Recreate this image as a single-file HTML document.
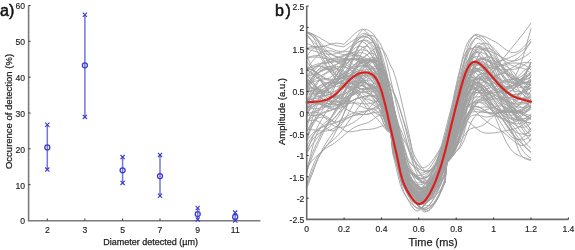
<!DOCTYPE html>
<html><head><meta charset="utf-8"><style>
html,body{margin:0;padding:0;background:#fff;}
svg{display:block;will-change:transform;filter:blur(0.3px);}
text{font-family:"Liberation Sans",sans-serif;}
.tl text{font-size:8.6px;fill:#1e1e1e;stroke:#1e1e1e;stroke-width:0.15px;}
.ttl{stroke:#222;stroke-width:0.25px;}
.tk{stroke:#333;stroke-width:1;}
</style></head><body>
<svg width="575" height="250" viewBox="0 0 575 250">
<rect width="575" height="250" fill="#fff"/>
<g fill="none" stroke="#a0a0a0" stroke-width="0.9" stroke-linejoin="round">
<path d="M306.7,153.7 308.6,150.1 310.4,147.0 312.3,144.3 314.2,141.8 316.0,139.4 317.9,137.0 319.8,134.7 321.7,132.3 323.5,129.9 325.4,127.6 327.3,125.4 329.1,123.3 331.0,121.3 332.9,119.4 334.7,117.5 336.6,115.6 338.5,113.7 340.3,111.8 342.2,109.9 344.1,108.0 345.9,106.1 347.8,104.4 349.7,102.8 351.6,101.3 353.4,100.1 355.3,99.1 357.2,98.3 359.0,97.6 360.9,97.1 362.8,96.6 364.6,96.3 366.5,96.1 368.4,96.0 370.2,96.0 372.1,96.1 374.0,96.7 375.9,97.9 377.7,99.9 379.6,102.9 381.5,107.0 383.3,112.0 385.2,117.7 387.1,123.6 388.9,128.3 390.8,131.4 392.7,144.3 394.5,151.6 396.4,159.5 398.3,168.2 400.1,176.3 402.0,182.4 403.9,186.7 405.8,190.1 407.6,193.0 409.5,195.8 411.4,198.2 413.2,200.4 415.1,202.1 417.0,203.3 418.8,204.1 420.7,204.3 422.6,204.0 424.4,203.2 426.3,202.0 428.2,200.3 430.1,198.3 431.9,195.9 433.8,193.1 435.7,189.9 437.5,186.3 439.4,182.2 441.3,177.8 443.1,172.8 445.0,167.4 446.9,158.9 448.7,154.0 450.6,148.1 452.5,141.5 454.4,135.0 456.2,129.0 458.1,123.3 460.0,117.6 461.8,112.0 463.7,106.3 465.6,100.7 467.4,95.8 469.3,91.6 471.2,88.0 473.0,84.9 474.9,82.2 476.8,79.9 478.6,78.2 480.5,76.9 482.4,76.3 484.3,76.1 486.1,76.4 488.0,77.0 489.9,77.9 491.7,78.9 493.6,80.2 495.5,81.6 497.3,83.0 499.2,84.5 501.1,85.8 502.9,87.1 504.8,88.1 506.7,89.0 508.6,89.7 510.4,90.3 512.3,90.8 514.2,91.1 516.0,91.5 517.9,91.8 519.8,92.1 521.6,92.5 523.5,92.9 525.4,93.3 527.2,93.6 529.1,93.9 531.0,94.0"/>
<path d="M306.7,79.3 308.6,81.0 310.4,82.6 312.3,84.2 314.2,85.7 316.0,87.2 317.9,88.5 319.8,89.7 321.7,90.7 323.5,91.5 325.4,92.0 327.3,92.4 329.1,92.5 331.0,92.3 332.9,91.8 334.7,91.0 336.6,90.0 338.5,88.7 340.3,87.1 342.2,85.3 344.1,83.2 345.9,80.9 347.8,78.5 349.7,75.9 351.6,73.2 353.4,70.6 355.3,68.2 357.2,65.9 359.0,63.9 360.9,62.3 362.8,61.1 364.6,60.3 366.5,60.1 368.4,60.3 370.2,61.0 372.1,62.2 374.0,64.1 375.9,66.9 377.7,70.7 379.6,75.8 381.5,82.1 383.3,89.4 385.2,97.5 387.1,106.2 388.9,115.1 390.8,123.8 392.7,132.8 394.5,141.6 396.4,150.5 398.3,159.7 400.1,168.8 402.0,176.2 403.9,181.6 405.8,185.6 407.6,188.7 409.5,191.3 411.4,193.6 413.2,195.7 415.1,197.6 417.0,199.2 418.8,200.8 420.7,202.2 422.6,203.5 424.4,204.6 426.3,205.4 428.2,205.8 430.1,205.7 431.9,204.9 433.8,203.6 435.7,201.6 437.5,198.8 439.4,195.4 441.3,191.4 443.1,186.9 445.0,182.0 446.9,163.1 448.7,160.5 450.6,157.7 452.5,154.6 454.4,151.0 456.2,147.0 458.1,142.8 460.0,137.9 461.8,132.9 463.7,128.2 465.6,124.1 467.4,120.2 469.3,116.5 471.2,112.8 473.0,109.0 474.9,105.4 476.8,102.5 478.6,100.6 480.5,99.5 482.4,99.2 484.3,99.5 486.1,100.4 488.0,101.7 489.9,103.2 491.7,104.8 493.6,106.4 495.5,107.9 497.3,109.0 499.2,109.8 501.1,110.3 502.9,110.4 504.8,110.1 506.7,109.6 508.6,108.7 510.4,107.5 512.3,105.9 514.2,104.0 516.0,101.7 517.9,99.3 519.8,96.8 521.6,94.4 523.5,92.1 525.4,90.1 527.2,88.2 529.1,86.5 531.0,85.1"/>
<path d="M306.7,110.4 308.6,109.1 310.4,107.8 312.3,106.7 314.2,105.7 316.0,104.8 317.9,104.1 319.8,103.4 321.7,102.7 323.5,102.1 325.4,101.5 327.3,100.7 329.1,99.9 331.0,98.9 332.9,97.6 334.7,96.1 336.6,94.2 338.5,92.1 340.3,89.6 342.2,87.0 344.1,84.1 345.9,81.2 347.8,78.4 349.7,75.7 351.6,73.2 353.4,71.1 355.3,69.3 357.2,67.8 359.0,66.8 360.9,66.2 362.8,66.0 364.6,66.2 366.5,66.9 368.4,68.0 370.2,69.4 372.1,71.2 374.0,73.2 375.9,75.4 377.7,78.1 379.6,81.3 381.5,85.4 383.3,90.4 385.2,96.4 387.1,103.1 388.9,110.2 390.8,117.5 392.7,124.7 394.5,131.6 396.4,138.4 398.3,145.2 400.1,152.4 402.0,159.9 403.9,166.8 405.8,171.9 407.6,175.6 409.5,178.3 411.4,180.7 413.2,182.9 415.1,184.9 417.0,186.7 418.8,188.3 420.7,189.6 422.6,190.6 424.4,191.2 426.3,191.4 428.2,191.2 430.1,190.5 431.9,189.4 433.8,188.0 435.7,186.3 437.5,184.3 439.4,182.2 441.3,179.9 443.1,177.4 445.0,174.6 446.9,162.4 448.7,159.9 450.6,157.4 452.5,154.4 454.4,150.8 456.2,146.3 458.1,140.5 460.0,133.5 461.8,126.3 463.7,119.0 465.6,111.7 467.4,104.3 469.3,96.9 471.2,90.1 473.0,84.5 474.9,80.1 476.8,77.0 478.6,75.0 480.5,74.1 482.4,74.0 484.3,74.8 486.1,76.3 488.0,78.3 489.9,80.8 491.7,83.6 493.6,86.5 495.5,89.5 497.3,92.6 499.2,95.5 501.1,98.4 502.9,101.0 504.8,103.3 506.7,105.4 508.6,107.2 510.4,108.6 512.3,109.7 514.2,110.4 516.0,110.8 517.9,110.8 519.8,110.5 521.6,109.9 523.5,109.0 525.4,107.9 527.2,106.4 529.1,104.7 531.0,102.7"/>
<path d="M306.7,102.2 308.6,101.0 310.4,99.8 312.3,98.5 314.2,97.0 316.0,95.4 317.9,93.7 319.8,92.1 321.7,90.4 323.5,88.8 325.4,87.3 327.3,85.9 329.1,84.6 331.0,83.4 332.9,82.3 334.7,81.3 336.6,80.5 338.5,79.6 340.3,78.8 342.2,77.9 344.1,76.8 345.9,75.7 347.8,74.4 349.7,73.0 351.6,71.5 353.4,70.0 355.3,68.5 357.2,67.2 359.0,66.1 360.9,65.3 362.8,65.0 364.6,65.2 366.5,65.8 368.4,66.8 370.2,68.1 372.1,69.6 374.0,71.2 375.9,72.9 377.7,74.7 379.6,76.5 381.5,78.6 383.3,81.3 385.2,84.6 387.1,88.8 388.9,94.2 390.8,100.4 392.7,107.2 394.5,114.5 396.4,122.0 398.3,129.4 400.1,136.7 402.0,144.1 403.9,152.1 405.8,161.0 407.6,169.0 409.5,174.6 411.4,178.7 413.2,182.4 415.1,185.9 417.0,189.2 418.8,191.8 420.7,193.7 422.6,194.4 424.4,194.1 426.3,192.8 428.2,190.8 430.1,188.2 431.9,185.2 433.8,181.8 435.7,178.2 437.5,174.2 439.4,169.9 441.3,165.2 443.1,160.1 445.0,154.6 446.9,148.5 448.7,142.1 450.6,135.6 452.5,129.2 454.4,122.9 456.2,116.9 458.1,111.1 460.0,105.3 461.8,99.8 463.7,95.0 465.6,91.4 467.4,89.0 469.3,87.6 471.2,87.2 473.0,87.6 474.9,88.6 476.8,90.0 478.6,91.7 480.5,93.6 482.4,95.6 484.3,97.5 486.1,99.4 488.0,101.1 489.9,102.7 491.7,104.3 493.6,105.9 495.5,107.4 497.3,108.9 499.2,110.3 501.1,111.7 502.9,112.9 504.8,113.9 506.7,114.7 508.6,115.1 510.4,115.3 512.3,115.1 514.2,114.6 516.0,113.8 517.9,112.9 519.8,111.9 521.6,110.9 523.5,109.8 525.4,108.7 527.2,107.7 529.1,106.6 531.0,105.3"/>
<path d="M306.7,48.8 308.6,48.4 310.4,48.0 312.3,47.8 314.2,47.6 316.0,47.4 317.9,47.2 319.8,47.0 321.7,46.7 323.5,46.3 325.4,45.8 327.3,45.2 329.1,44.6 331.0,44.1 332.9,43.6 334.7,43.3 336.6,43.2 338.5,43.3 340.3,43.5 342.2,43.9 344.1,44.4 345.9,42.4 347.8,40.5 349.7,38.6 351.6,36.8 353.4,35.0 355.3,33.3 357.2,31.8 359.0,30.5 360.9,29.6 362.8,29.1 364.6,30.4 366.5,32.0 368.4,33.9 370.2,36.2 372.1,39.2 374.0,43.2 375.9,48.3 377.7,54.5 379.6,62.1 381.5,70.8 383.3,80.4 385.2,90.6 387.1,100.9 388.9,111.1 390.8,120.9 392.7,130.4 394.5,139.8 396.4,149.5 398.3,159.3 400.1,167.7 402.0,173.8 403.9,178.3 405.8,182.0 407.6,185.3 409.5,188.3 411.4,190.9 413.2,193.1 415.1,194.8 417.0,195.9 418.8,196.4 420.7,196.3 422.6,195.6 424.4,194.4 426.3,192.8 428.2,190.8 430.1,188.4 431.9,185.7 433.8,182.8 435.7,179.6 437.5,176.1 439.4,172.4 441.3,168.2 443.1,163.7 445.0,158.8 446.9,153.1 448.7,147.7 450.6,141.9 452.5,136.0 454.4,130.1 456.2,124.0 458.1,117.5 460.0,110.7 461.8,103.7 463.7,97.2 465.6,91.8 467.4,87.4 469.3,84.1 471.2,81.7 473.0,80.1 474.9,79.2 476.8,78.9 478.6,79.0 480.5,79.5 482.4,80.2 484.3,81.0 486.1,82.0 488.0,83.2 489.9,84.5 491.7,86.0 493.6,87.7 495.5,89.5 497.3,91.4 499.2,93.3 501.1,95.2 502.9,97.0 504.8,98.7 506.7,100.2 508.6,101.5 510.4,102.6 512.3,103.4 514.2,103.9 516.0,104.2 517.9,104.3 519.8,104.3 521.6,104.1 523.5,103.9 525.4,103.6 527.2,103.3 529.1,102.9 531.0,102.1"/>
<path d="M306.7,81.6 308.6,83.9 310.4,86.0 312.3,87.8 314.2,89.3 316.0,90.4 317.9,91.1 319.8,91.5 321.7,91.5 323.5,91.1 325.4,90.5 327.3,89.6 329.1,88.5 331.0,87.2 332.9,85.7 334.7,84.0 336.6,82.2 338.5,80.4 340.3,78.4 342.2,76.5 344.1,74.5 345.9,72.4 347.8,70.5 349.7,68.7 351.6,67.0 353.4,65.5 355.3,64.3 357.2,63.4 359.0,62.8 360.9,62.4 362.8,62.4 364.6,62.6 366.5,63.2 368.4,64.2 370.2,65.7 372.1,67.7 374.0,70.6 375.9,74.4 377.7,79.5 379.6,85.8 381.5,93.3 383.3,101.6 385.2,110.3 387.1,119.1 388.9,126.4 390.8,130.7 392.7,142.5 394.5,149.5 396.4,156.6 398.3,163.8 400.1,170.5 402.0,175.4 403.9,178.8 405.8,181.3 407.6,183.4 409.5,185.2 411.4,186.9 413.2,188.3 415.1,189.6 417.0,190.7 418.8,191.6 420.7,192.4 422.6,193.1 424.4,193.5 426.3,193.7 428.2,193.6 430.1,193.2 431.9,192.3 433.8,191.1 435.7,189.4 437.5,187.3 439.4,184.8 441.3,181.9 443.1,178.7 445.0,175.2 446.9,162.3 448.7,159.8 450.6,157.0 452.5,153.9 454.4,150.3 456.2,146.0 458.1,140.9 460.0,135.2 461.8,129.6 463.7,124.7 465.6,120.3 467.4,116.2 469.3,112.5 471.2,108.9 473.0,105.9 474.9,103.8 476.8,102.7 478.6,102.3 480.5,102.7 482.4,103.5 484.3,104.6 486.1,105.9 488.0,107.4 489.9,108.7 491.7,110.0 493.6,111.0 495.5,111.8 497.3,112.3 499.2,112.5 501.1,112.6 502.9,112.5 504.8,112.3 506.7,112.1 508.6,112.0 510.4,111.9 512.3,112.0 514.2,112.2 516.0,112.5 517.9,112.9 519.8,113.4 521.6,114.0 523.5,114.7 525.4,115.5 527.2,116.3 529.1,117.3 531.0,118.3"/>
<path d="M306.7,106.3 308.6,107.5 310.4,108.2 312.3,108.6 314.2,108.8 316.0,108.7 317.9,108.5 319.8,108.1 321.7,107.7 323.5,107.1 325.4,106.5 327.3,105.8 329.1,105.0 331.0,103.9 332.9,102.5 334.7,100.8 336.6,98.8 338.5,96.3 340.3,93.6 342.2,90.5 344.1,87.3 345.9,83.9 347.8,80.5 349.7,77.1 351.6,73.9 353.4,70.8 355.3,68.0 357.2,65.6 359.0,63.5 360.9,61.7 362.8,60.4 364.6,59.5 366.5,59.0 368.4,59.0 370.2,59.4 372.1,60.3 374.0,61.7 375.9,63.8 377.7,66.6 379.6,70.3 381.5,75.2 383.3,81.2 385.2,88.2 387.1,95.8 388.9,103.7 390.8,111.4 392.7,118.8 394.5,125.8 396.4,132.3 398.3,138.8 400.1,145.4 402.0,152.2 403.9,158.6 405.8,163.6 407.6,167.1 409.5,169.8 411.4,171.9 413.2,173.7 415.1,175.5 417.0,177.2 418.8,178.8 420.7,180.3 422.6,181.8 424.4,183.1 426.3,184.2 428.2,185.0 430.1,185.4 431.9,185.4 433.8,185.0 435.7,184.2 437.5,183.0 439.4,181.5 441.3,179.7 443.1,177.8 445.0,175.8 446.9,162.7 448.7,160.6 450.6,158.4 452.5,156.2 454.4,153.9 456.2,151.3 458.1,149.1 460.0,145.7 461.8,140.6 463.7,134.1 465.6,127.2 467.4,120.3 469.3,113.4 471.2,106.5 473.0,99.5 474.9,92.7 476.8,86.8 478.6,82.0 480.5,78.4 482.4,75.8 484.3,74.2 486.1,73.4 488.0,73.4 489.9,74.0 491.7,75.1 493.6,76.6 495.5,78.4 497.3,80.3 499.2,82.4 501.1,84.5 502.9,86.7 504.8,89.1 506.7,91.5 508.6,93.9 510.4,96.3 512.3,98.7 514.2,101.0 516.0,103.0 517.9,104.8 519.8,106.3 521.6,107.3 523.5,107.8 525.4,107.8 527.2,107.2 529.1,106.2 531.0,104.7"/>
<path d="M306.7,68.9 308.6,69.2 310.4,69.6 312.3,70.3 314.2,71.2 316.0,72.3 317.9,73.4 319.8,74.7 321.7,75.9 323.5,77.0 325.4,78.1 327.3,79.0 329.1,79.9 331.0,80.6 332.9,81.3 334.7,81.9 336.6,82.5 338.5,83.0 340.3,83.5 342.2,84.0 344.1,84.5 345.9,85.1 347.8,85.8 349.7,86.6 351.6,87.6 353.4,88.7 355.3,90.1 357.2,91.6 359.0,93.3 360.9,95.1 362.8,96.9 364.6,98.7 366.5,100.4 368.4,101.9 370.2,103.2 372.1,104.2 374.0,105.2 375.9,106.3 377.7,107.8 379.6,109.9 381.5,112.9 383.3,116.9 385.2,121.6 387.1,126.0 388.9,129.5 390.8,131.8 392.7,144.6 394.5,150.2 396.4,156.0 398.3,162.2 400.1,169.2 402.0,176.1 403.9,181.4 405.8,185.1 407.6,187.9 409.5,190.5 411.4,192.9 413.2,195.2 415.1,197.1 417.0,198.6 418.8,199.5 420.7,199.7 422.6,199.3 424.4,198.3 426.3,196.7 428.2,194.7 430.1,192.2 431.9,189.3 433.8,186.2 435.7,182.7 437.5,179.0 439.4,174.8 441.3,170.2 443.1,165.1 445.0,159.3 446.9,152.8 448.7,145.7 450.6,137.9 452.5,129.6 454.4,121.1 456.2,112.5 458.1,103.8 460.0,95.1 461.8,86.4 463.7,77.7 465.6,69.5 467.4,62.4 469.3,56.6 471.2,52.1 473.0,48.8 474.9,46.7 476.8,45.8 478.6,45.9 480.5,47.0 482.4,48.9 484.3,51.6 486.1,54.8 488.0,58.5 489.9,62.5 491.7,66.8 493.6,71.3 495.5,76.0 497.3,80.8 499.2,85.5 501.1,90.2 502.9,94.8 504.8,99.1 506.7,103.2 508.6,107.0 510.4,110.4 512.3,113.4 514.2,115.9 516.0,117.8 517.9,119.3 519.8,120.3 521.6,120.8 523.5,120.9 525.4,120.4 527.2,119.5 529.1,118.2 531.0,116.5"/>
<path d="M306.7,102.2 308.6,101.8 310.4,101.5 312.3,101.2 314.2,101.1 316.0,101.2 317.9,101.4 319.8,101.7 321.7,102.1 323.5,102.6 325.4,103.1 327.3,103.7 329.1,104.2 331.0,104.7 332.9,105.0 334.7,105.1 336.6,105.0 338.5,104.7 340.3,104.0 342.2,103.1 344.1,102.0 345.9,100.6 347.8,99.1 349.7,97.5 351.6,95.9 353.4,94.3 355.3,92.8 357.2,91.4 359.0,90.3 360.9,89.3 362.8,88.6 364.6,88.1 366.5,87.8 368.4,87.6 370.2,87.7 372.1,87.8 374.0,88.2 375.9,88.8 377.7,90.0 379.6,92.0 381.5,94.9 383.3,99.0 385.2,104.3 387.1,110.7 388.9,117.7 390.8,124.8 392.7,133.0 394.5,140.6 396.4,148.1 398.3,155.8 400.1,163.9 402.0,172.6 403.9,180.6 405.8,186.7 407.6,191.1 409.5,194.6 411.4,197.5 413.2,200.3 415.1,202.8 417.0,205.0 418.8,206.9 420.7,208.3 422.6,209.2 424.4,209.7 426.3,209.5 428.2,208.8 430.1,207.6 431.9,205.9 433.8,203.6 435.7,200.9 437.5,197.7 439.4,194.0 441.3,189.8 443.1,184.9 445.0,179.5 446.9,162.7 448.7,159.8 450.6,156.2 452.5,151.5 454.4,145.4 456.2,137.9 458.1,130.2 460.0,122.8 461.8,115.9 463.7,109.3 465.6,103.0 467.4,96.9 469.3,91.1 471.2,85.9 473.0,81.8 474.9,78.7 476.8,76.5 478.6,75.0 480.5,74.1 482.4,73.7 484.3,73.6 486.1,73.9 488.0,74.4 489.9,75.1 491.7,75.8 493.6,76.6 495.5,77.3 497.3,78.1 499.2,78.9 501.1,79.6 502.9,80.3 504.8,81.1 506.7,81.7 508.6,82.4 510.4,83.0 512.3,83.6 514.2,84.1 516.0,84.6 517.9,85.1 519.8,85.5 521.6,85.9 523.5,86.4 525.4,86.8 527.2,87.4 529.1,88.1 531.0,88.9"/>
<path d="M306.7,108.0 308.6,106.4 310.4,105.2 312.3,104.4 314.2,104.0 316.0,103.8 317.9,103.7 319.8,103.8 321.7,103.9 323.5,103.9 325.4,103.9 327.3,103.7 329.1,103.4 331.0,102.9 332.9,102.0 334.7,100.9 336.6,99.4 338.5,97.6 340.3,95.6 342.2,93.5 344.1,91.2 345.9,88.9 347.8,86.8 349.7,84.8 351.6,83.2 353.4,82.0 355.3,81.2 357.2,80.8 359.0,80.8 360.9,81.1 362.8,81.7 364.6,82.5 366.5,83.4 368.4,84.2 370.2,85.0 372.1,85.7 374.0,86.7 375.9,88.1 377.7,90.1 379.6,93.0 381.5,97.1 383.3,102.3 385.2,108.5 387.1,115.4 388.9,122.5 390.8,128.3 392.7,137.6 394.5,145.1 396.4,153.0 398.3,161.4 400.1,170.2 402.0,177.5 403.9,182.8 405.8,186.7 407.6,190.1 409.5,193.2 411.4,196.1 413.2,198.6 415.1,200.7 417.0,202.1 418.8,202.8 420.7,202.7 422.6,201.9 424.4,200.4 426.3,198.3 428.2,195.7 430.1,192.6 431.9,189.2 433.8,185.4 435.7,181.2 437.5,176.5 439.4,171.4 441.3,165.9 443.1,159.8 445.0,153.3 446.9,146.3 448.7,139.0 450.6,131.7 452.5,124.8 454.4,118.3 456.2,112.2 458.1,106.6 460.0,101.3 461.8,96.4 463.7,92.3 465.6,89.4 467.4,87.5 469.3,86.6 471.2,86.3 473.0,86.6 474.9,87.4 476.8,88.6 478.6,90.0 480.5,91.7 482.4,93.5 484.3,95.4 486.1,97.3 488.0,99.3 489.9,101.3 491.7,103.3 493.6,105.5 495.5,107.6 497.3,109.9 499.2,112.1 501.1,114.3 502.9,116.4 504.8,118.3 506.7,120.0 508.6,121.3 510.4,122.2 512.3,122.5 514.2,122.3 516.0,121.6 517.9,120.7 519.8,119.7 521.6,118.9 523.5,118.4 525.4,118.2 527.2,118.3 529.1,118.6 531.0,118.9"/>
<path d="M306.7,69.2 308.6,68.0 310.4,66.8 312.3,65.9 314.2,65.2 316.0,64.5 317.9,64.0 319.8,63.5 321.7,63.1 323.5,62.7 325.4,62.4 327.3,62.1 329.1,61.8 331.0,61.6 332.9,61.3 334.7,61.1 336.6,60.9 338.5,60.7 340.3,60.4 342.2,60.2 344.1,59.9 345.9,59.6 347.8,59.2 349.7,59.0 351.6,58.8 353.4,58.8 355.3,59.0 357.2,59.4 359.0,60.0 360.9,60.8 362.8,61.7 364.6,62.9 366.5,64.1 368.4,65.5 370.2,66.9 372.1,68.5 374.0,70.3 375.9,72.6 377.7,75.6 379.6,79.5 381.5,84.5 383.3,90.7 385.2,97.9 387.1,105.8 388.9,114.1 390.8,122.4 392.7,130.8 394.5,138.9 396.4,147.0 398.3,155.4 400.1,164.3 402.0,172.6 403.9,178.8 405.8,183.1 407.6,186.3 409.5,189.1 411.4,191.7 413.2,194.1 415.1,196.0 417.0,197.6 418.8,198.6 420.7,199.0 422.6,198.8 424.4,197.9 426.3,196.5 428.2,194.5 430.1,192.0 431.9,189.0 433.8,185.5 435.7,181.7 437.5,177.4 439.4,172.6 441.3,167.5 443.1,162.0 445.0,156.1 446.9,149.9 448.7,143.4 450.6,136.8 452.5,130.3 454.4,124.3 456.2,118.7 458.1,113.4 460.0,108.3 461.8,103.2 463.7,98.1 465.6,93.5 467.4,89.6 469.3,86.8 471.2,85.0 473.0,84.1 474.9,84.0 476.8,84.7 478.6,86.0 480.5,87.9 482.4,90.2 484.3,92.8 486.1,95.6 488.0,98.4 489.9,101.1 491.7,103.9 493.6,106.6 495.5,109.2 497.3,111.8 499.2,114.4 501.1,117.1 502.9,119.7 504.8,122.4 506.7,125.1 508.6,127.8 510.4,130.5 512.3,133.1 514.2,135.5 516.0,137.8 517.9,139.9 519.8,141.9 521.6,143.7 523.5,145.5 525.4,147.1 527.2,148.7 529.1,150.3 531.0,152.0"/>
<path d="M306.7,129.6 308.6,129.6 310.4,129.7 312.3,129.8 314.2,130.0 316.0,130.3 317.9,130.6 319.8,130.8 321.7,131.0 323.5,131.1 325.4,131.1 327.3,130.8 329.1,130.4 331.0,129.7 332.9,128.8 334.7,127.7 336.6,126.4 338.5,125.0 340.3,123.5 342.2,122.0 344.1,120.6 345.9,119.3 347.8,118.1 349.7,117.2 351.6,116.4 353.4,115.8 355.3,115.3 357.2,115.0 359.0,114.8 360.9,114.6 362.8,114.4 364.6,114.2 366.5,114.0 368.4,113.8 370.2,113.5 372.1,113.1 374.0,112.7 375.9,112.3 377.7,112.0 379.6,112.1 381.5,112.7 383.3,114.3 385.2,116.9 387.1,120.6 388.9,124.8 390.8,128.6 392.7,136.8 394.5,142.9 396.4,149.1 398.3,155.3 400.1,161.8 402.0,169.0 403.9,176.9 405.8,184.1 407.6,189.4 409.5,193.2 411.4,196.2 413.2,199.0 415.1,201.7 417.0,204.1 418.8,206.2 420.7,207.8 422.6,208.9 424.4,209.4 426.3,209.2 428.2,208.3 430.1,206.9 431.9,205.0 433.8,202.7 435.7,200.0 437.5,197.0 439.4,193.7 441.3,190.2 443.1,186.4 445.0,182.2 446.9,163.2 448.7,160.7 450.6,158.1 452.5,155.0 454.4,151.4 456.2,147.0 458.1,142.1 460.0,136.5 461.8,131.0 463.7,125.8 465.6,120.8 467.4,115.8 469.3,111.1 471.2,107.1 473.0,104.1 474.9,102.0 476.8,100.7 478.6,100.1 480.5,100.0 482.4,100.4 484.3,101.0 486.1,101.9 488.0,103.0 489.9,104.1 491.7,105.3 493.6,106.6 495.5,107.9 497.3,109.4 499.2,111.0 501.1,112.9 502.9,115.0 504.8,117.3 506.7,119.8 508.6,122.5 510.4,125.4 512.3,128.3 514.2,131.3 516.0,134.3 517.9,137.1 519.8,139.8 521.6,142.4 523.5,144.8 525.4,147.0 527.2,149.1 529.1,150.9 531.0,152.6"/>
<path d="M306.7,88.3 308.6,88.5 310.4,88.6 312.3,88.7 314.2,88.8 316.0,88.9 317.9,89.1 319.8,89.3 321.7,89.7 323.5,90.3 325.4,90.9 327.3,91.7 329.1,92.6 331.0,93.4 332.9,94.2 334.7,94.8 336.6,95.2 338.5,95.4 340.3,95.2 342.2,94.8 344.1,94.2 345.9,93.4 347.8,92.5 349.7,91.4 351.6,90.3 353.4,89.3 355.3,88.2 357.2,87.3 359.0,86.4 360.9,85.6 362.8,85.1 364.6,84.8 366.5,84.8 368.4,85.2 370.2,86.1 372.1,87.4 374.0,89.5 375.9,92.5 377.7,96.6 379.6,101.8 381.5,108.1 383.3,115.2 385.2,122.5 387.1,128.1 388.9,131.4 390.8,133.1 392.7,153.3 394.5,160.7 396.4,168.6 398.3,176.8 400.1,184.1 402.0,189.3 403.9,193.0 405.8,196.0 407.6,198.7 409.5,201.2 411.4,203.5 413.2,205.4 415.1,206.9 417.0,207.8 418.8,208.1 420.7,207.8 422.6,206.9 424.4,205.4 426.3,203.5 428.2,201.0 430.1,198.2 431.9,195.0 433.8,191.5 435.7,187.6 437.5,183.2 439.4,178.3 441.3,172.8 443.1,166.5 445.0,159.3 446.9,151.1 448.7,142.0 450.6,132.2 452.5,121.8 454.4,111.3 456.2,101.1 458.1,91.0 460.0,81.3 461.8,71.9 463.7,62.8 465.6,54.6 467.4,47.7 469.3,42.6 471.2,39.0 473.0,36.4 474.9,34.6 476.8,34.3 478.6,34.7 480.5,35.5 482.4,36.7 484.3,38.2 486.1,40.0 488.0,42.1 489.9,44.6 491.7,47.3 493.6,50.4 495.5,53.8 497.3,57.2 499.2,60.8 501.1,64.5 502.9,68.0 504.8,71.5 506.7,74.8 508.6,77.8 510.4,80.4 512.3,82.6 514.2,84.4 516.0,85.8 517.9,86.8 519.8,87.4 521.6,87.8 523.5,87.8 525.4,87.6 527.2,87.0 529.1,86.2 531.0,85.1"/>
<path d="M306.7,49.0 308.6,49.6 310.4,50.1 312.3,50.5 314.2,51.1 316.0,51.7 317.9,52.4 319.8,53.2 321.7,54.1 323.5,55.0 325.4,56.0 327.3,57.0 329.1,58.1 331.0,59.1 332.9,60.1 334.7,61.2 336.6,62.2 338.5,63.2 340.3,64.3 342.2,65.3 344.1,66.3 345.9,67.4 347.8,68.4 349.7,69.4 351.6,70.5 353.4,71.7 355.3,73.0 357.2,74.5 359.0,76.1 360.9,77.8 362.8,79.6 364.6,81.5 366.5,83.4 368.4,85.1 370.2,86.8 372.1,88.3 374.0,89.7 375.9,91.1 377.7,92.9 379.6,95.2 381.5,98.3 383.3,102.4 385.2,107.4 387.1,112.8 388.9,118.2 390.8,123.3 392.7,128.3 394.5,132.8 396.4,137.0 398.3,141.4 400.1,146.1 402.0,151.2 403.9,155.7 405.8,158.9 407.6,161.1 409.5,162.7 411.4,164.1 413.2,165.5 415.1,166.7 417.0,167.9 418.8,168.9 420.7,169.9 422.6,170.6 424.4,171.1 426.3,171.1 428.2,170.7 430.1,169.9 431.9,168.5 433.8,166.7 435.7,164.3 437.5,161.4 439.4,158.0 441.3,154.2 443.1,150.0 445.0,145.5 446.9,140.8 448.7,135.9 450.6,130.5 452.5,124.4 454.4,117.6 456.2,110.0 458.1,102.0 460.0,94.0 461.8,86.3 463.7,78.9 465.6,71.9 467.4,65.2 469.3,58.8 471.2,53.3 473.0,48.9 474.9,45.9 476.8,44.0 478.6,43.2 480.5,43.3 482.4,44.1 484.3,45.7 486.1,47.8 488.0,50.5 489.9,53.5 491.7,56.8 493.6,60.2 495.5,63.7 497.3,67.3 499.2,70.7 501.1,74.0 502.9,77.2 504.8,80.0 506.7,82.4 508.6,84.4 510.4,85.8 512.3,86.7 514.2,87.0 516.0,86.6 517.9,85.6 519.8,84.0 521.6,81.7 523.5,78.9 525.4,75.6 527.2,71.7 529.1,67.3 531.0,62.3"/>
<path d="M306.7,85.4 308.6,82.2 310.4,79.6 312.3,77.4 314.2,75.6 316.0,74.2 317.9,73.1 319.8,72.1 321.7,71.2 323.5,70.3 325.4,69.5 327.3,68.8 329.1,68.1 331.0,67.5 332.9,67.0 334.7,66.7 336.6,66.6 338.5,66.5 340.3,66.6 342.2,66.8 344.1,67.2 345.9,67.7 347.8,68.5 349.7,69.4 351.6,70.7 353.4,72.2 355.3,73.9 357.2,76.0 359.0,78.2 360.9,80.6 362.8,83.1 364.6,85.6 366.5,88.0 368.4,90.2 370.2,92.3 372.1,94.2 374.0,95.8 375.9,97.4 377.7,98.9 379.6,100.8 381.5,103.2 383.3,106.3 385.2,110.5 387.1,115.5 388.9,121.2 390.8,126.4 392.7,133.7 394.5,140.0 396.4,146.1 398.3,152.2 400.1,158.7 402.0,165.7 403.9,173.3 405.8,179.7 407.6,184.2 409.5,187.5 411.4,190.3 413.2,193.0 415.1,195.5 417.0,197.7 418.8,199.6 420.7,200.9 422.6,201.6 424.4,201.7 426.3,201.1 428.2,199.9 430.1,198.1 431.9,196.0 433.8,193.6 435.7,190.8 437.5,188.0 439.4,184.9 441.3,181.7 443.1,178.3 445.0,174.6 446.9,162.2 448.7,159.5 450.6,156.6 452.5,153.2 454.4,149.3 456.2,144.8 458.1,140.1 460.0,135.0 461.8,130.0 463.7,125.1 465.6,120.1 467.4,115.5 469.3,111.7 471.2,109.0 473.0,107.3 474.9,106.5 476.8,106.5 478.6,107.0 480.5,107.9 482.4,109.0 484.3,110.3 486.1,111.6 488.0,112.9 489.9,113.9 491.7,114.8 493.6,115.5 495.5,116.1 497.3,116.7 499.2,117.2 501.1,117.7 502.9,118.4 504.8,119.3 506.7,120.4 508.6,121.8 510.4,123.5 512.3,125.4 514.2,127.5 516.0,129.8 517.9,132.3 519.8,134.9 521.6,137.6 523.5,140.2 525.4,142.7 527.2,144.9 529.1,146.8 531.0,148.2"/>
<path d="M306.7,114.9 308.6,113.5 310.4,112.6 312.3,112.0 314.2,111.6 316.0,111.3 317.9,110.8 319.8,110.2 321.7,109.4 323.5,108.4 325.4,107.2 327.3,105.7 329.1,104.0 331.0,102.0 332.9,99.7 334.7,97.2 336.6,94.4 338.5,91.4 340.3,88.1 342.2,84.5 344.1,80.6 345.9,76.5 347.8,72.2 349.7,67.7 351.6,63.2 353.4,58.8 355.3,54.4 357.2,50.3 359.0,46.5 360.9,43.1 362.8,40.2 364.6,37.9 366.5,36.3 368.4,35.5 370.2,35.3 372.1,35.6 374.0,36.4 375.9,37.8 377.7,39.7 379.6,42.4 381.5,46.0 383.3,50.9 385.2,56.9 387.1,63.8 388.9,71.6 390.8,79.9 392.7,88.3 394.5,96.4 396.4,104.1 398.3,111.4 400.1,118.2 402.0,124.6 403.9,131.0 405.8,137.5 407.6,144.3 409.5,150.4 411.4,155.0 413.2,158.4 415.1,161.4 417.0,164.3 418.8,166.8 420.7,169.0 422.6,170.6 424.4,171.5 426.3,171.8 428.2,171.4 430.1,170.6 431.9,169.5 433.8,168.1 435.7,166.7 437.5,165.4 439.4,164.1 441.3,162.9 443.1,161.9 445.0,161.0 446.9,158.2 448.7,156.7 450.6,154.9 452.5,152.8 454.4,150.2 456.2,147.1 458.1,143.8 460.0,139.7 461.8,135.0 463.7,130.1 465.6,125.0 467.4,119.9 469.3,115.1 471.2,111.1 473.0,108.0 474.9,105.6 476.8,103.8 478.6,102.4 480.5,101.4 482.4,100.5 484.3,99.9 486.1,99.2 488.0,98.5 489.9,97.8 491.7,96.8 493.6,95.8 495.5,94.7 497.3,93.5 499.2,92.3 501.1,91.0 502.9,89.9 504.8,88.8 506.7,87.8 508.6,87.0 510.4,86.3 512.3,85.8 514.2,85.4 516.0,85.0 517.9,84.6 519.8,84.2 521.6,83.8 523.5,83.2 525.4,82.5 527.2,81.6 529.1,80.5 531.0,79.3"/>
<path d="M306.7,169.2 308.6,165.6 310.4,162.8 312.3,160.4 314.2,158.4 316.0,156.6 317.9,154.9 319.8,153.2 321.7,151.3 323.5,149.3 325.4,147.0 327.3,145.0 329.1,142.7 331.0,140.2 332.9,137.2 334.7,133.8 336.6,130.1 338.5,126.0 340.3,121.7 342.2,117.2 344.1,112.6 345.9,107.8 347.8,103.1 349.7,98.5 351.6,94.0 353.4,89.9 355.3,86.1 357.2,82.8 359.0,79.9 360.9,77.6 362.8,75.9 364.6,74.8 366.5,74.2 368.4,74.3 370.2,74.9 372.1,76.1 374.0,78.3 375.9,81.4 377.7,85.7 379.6,91.3 381.5,98.1 383.3,105.7 385.2,113.7 387.1,121.7 388.9,127.9 390.8,131.4 392.7,144.7 394.5,152.1 396.4,159.8 398.3,167.9 400.1,174.8 402.0,179.9 403.9,183.7 405.8,186.8 407.6,189.8 409.5,192.5 411.4,194.8 413.2,196.7 415.1,198.0 417.0,198.5 418.8,198.3 420.7,197.3 422.6,195.6 424.4,193.4 426.3,190.6 428.2,187.5 430.1,184.2 431.9,180.6 433.8,176.7 435.7,172.6 437.5,168.2 439.4,163.4 441.3,158.2 443.1,152.5 445.0,146.2 446.9,139.4 448.7,132.3 450.6,125.0 452.5,117.7 454.4,110.4 456.2,102.8 458.1,95.2 460.0,87.6 461.8,80.6 463.7,74.6 465.6,69.8 467.4,66.2 469.3,63.6 471.2,62.1 473.0,61.3 474.9,61.3 476.8,62.0 478.6,63.1 480.5,64.7 482.4,66.5 484.3,68.6 486.1,70.7 488.0,72.9 489.9,75.1 491.7,77.4 493.6,79.6 495.5,81.8 497.3,83.9 499.2,85.9 501.1,87.8 502.9,89.5 504.8,91.0 506.7,92.3 508.6,93.4 510.4,94.1 512.3,94.6 514.2,94.8 516.0,94.8 517.9,94.6 519.8,94.1 521.6,93.4 523.5,92.6 525.4,91.7 527.2,90.6 529.1,89.3 531.0,87.4"/>
<path d="M306.7,69.6 308.6,66.6 310.4,63.9 312.3,61.5 314.2,59.2 316.0,57.2 317.9,55.4 319.8,53.9 321.7,52.7 323.5,51.8 325.4,51.2 327.3,50.9 329.1,50.8 331.0,51.0 332.9,51.4 334.7,51.9 336.6,52.5 338.5,53.2 340.3,53.8 342.2,54.3 344.1,54.6 345.9,54.4 347.8,54.1 349.7,53.6 351.6,53.0 353.4,52.3 355.3,51.5 357.2,50.9 359.0,50.3 360.9,49.9 362.8,49.9 364.6,50.2 366.5,50.9 368.4,52.1 370.2,53.8 372.1,56.0 374.0,59.0 375.9,62.9 377.7,67.7 379.6,73.8 381.5,81.0 383.3,89.2 385.2,97.8 387.1,106.4 388.9,114.7 390.8,122.2 392.7,129.1 394.5,135.7 396.4,142.2 398.3,149.1 400.1,155.8 402.0,161.1 403.9,164.8 405.8,167.7 407.6,170.1 409.5,172.4 411.4,174.5 413.2,176.3 415.1,177.6 417.0,178.6 418.8,179.0 420.7,178.9 422.6,178.2 424.4,177.0 426.3,175.4 428.2,173.4 430.1,171.0 431.9,168.2 433.8,165.2 435.7,161.9 437.5,158.3 439.4,154.4 441.3,150.3 443.1,145.9 445.0,141.2 446.9,136.1 448.7,130.8 450.6,125.2 452.5,119.4 454.4,113.5 456.2,107.4 458.1,101.1 460.0,94.6 461.8,88.0 463.7,81.7 465.6,76.2 467.4,71.7 469.3,68.1 471.2,65.3 473.0,63.2 474.9,61.7 476.8,60.6 478.6,59.8 480.5,59.1 482.4,58.5 484.3,57.9 486.1,57.3 488.0,56.9 489.9,56.8 491.7,57.2 493.6,58.1 495.5,59.5 497.3,61.3 499.2,63.4 501.1,65.9 502.9,68.6 504.8,71.3 506.7,73.8 508.6,75.9 510.4,77.7 512.3,78.9 514.2,79.7 516.0,80.0 517.9,79.9 519.8,79.4 521.6,78.6 523.5,77.5 525.4,76.3 527.2,74.9 529.1,73.5 531.0,72.1"/>
<path d="M306.7,127.9 308.6,122.0 310.4,116.8 312.3,112.2 314.2,107.9 316.0,104.0 317.9,100.5 319.8,97.4 321.7,94.5 323.5,91.8 325.4,89.4 327.3,87.1 329.1,85.0 331.0,83.1 332.9,81.3 334.7,79.8 336.6,78.4 338.5,77.0 340.3,75.8 342.2,74.5 344.1,73.3 345.9,72.1 347.8,71.0 349.7,69.8 351.6,68.7 353.4,67.6 355.3,66.5 357.2,65.4 359.0,64.4 360.9,63.3 362.8,62.3 364.6,61.4 366.5,60.7 368.4,60.0 370.2,59.6 372.1,59.5 374.0,59.6 375.9,60.1 377.7,61.0 379.6,62.5 381.5,64.7 383.3,68.0 385.2,72.5 387.1,78.4 388.9,85.4 390.8,93.3 392.7,101.7 394.5,110.4 396.4,119.0 398.3,127.4 400.1,135.5 402.0,143.7 403.9,152.2 405.8,161.1 407.6,168.7 409.5,174.0 411.4,177.9 413.2,181.3 415.1,184.4 417.0,187.2 418.8,189.4 420.7,191.1 422.6,191.9 424.4,191.8 426.3,190.9 428.2,189.3 430.1,187.2 431.9,184.7 433.8,181.8 435.7,178.7 437.5,175.3 439.4,171.6 441.3,167.7 443.1,163.4 445.0,158.7 446.9,153.3 448.7,147.9 450.6,141.8 452.5,135.3 454.4,128.8 456.2,122.3 458.1,116.0 460.0,109.8 461.8,103.8 463.7,97.7 465.6,92.1 467.4,87.4 469.3,83.8 471.2,81.1 473.0,79.2 474.9,78.0 476.8,77.2 478.6,76.9 480.5,76.9 482.4,77.2 484.3,77.7 486.1,78.4 488.0,79.2 489.9,80.2 491.7,81.3 493.6,82.6 495.5,84.0 497.3,85.5 499.2,87.1 501.1,88.7 502.9,90.3 504.8,91.7 506.7,93.0 508.6,94.1 510.4,95.0 512.3,95.7 514.2,96.3 516.0,96.7 517.9,97.1 519.8,97.4 521.6,97.7 523.5,97.9 525.4,98.1 527.2,98.1 529.1,98.1 531.0,97.9"/>
<path d="M306.7,87.7 308.6,85.5 310.4,83.4 312.3,81.6 314.2,80.0 316.0,78.7 317.9,77.5 319.8,76.4 321.7,75.3 323.5,74.2 325.4,73.1 327.3,71.8 329.1,70.5 331.0,69.0 332.9,67.6 334.7,66.0 336.6,64.5 338.5,63.0 340.3,61.5 342.2,60.2 344.1,59.0 345.9,57.9 347.8,57.0 349.7,56.2 351.6,55.7 353.4,55.4 355.3,55.3 357.2,55.4 359.0,55.7 360.9,56.2 362.8,56.9 364.6,57.6 366.5,58.6 368.4,59.6 370.2,60.8 372.1,62.1 374.0,63.6 375.9,65.5 377.7,68.0 379.6,71.4 381.5,75.7 383.3,81.4 385.2,88.0 387.1,95.4 388.9,103.1 390.8,110.9 392.7,118.4 394.5,125.5 396.4,132.3 398.3,139.2 400.1,146.2 402.0,153.4 403.9,159.8 405.8,164.4 407.6,167.7 409.5,170.2 411.4,172.3 413.2,174.3 415.1,176.1 417.0,177.8 418.8,179.4 420.7,180.9 422.6,182.1 424.4,182.9 426.3,183.3 428.2,183.1 430.1,182.5 431.9,181.3 433.8,179.6 435.7,177.3 437.5,174.6 439.4,171.5 441.3,168.0 443.1,164.4 445.0,160.6 446.9,156.0 448.7,152.5 450.6,148.8 452.5,145.0 454.4,140.9 456.2,136.6 458.1,132.5 460.0,128.8 461.8,125.3 463.7,122.0 465.6,118.6 467.4,114.9 469.3,111.0 471.2,107.0 473.0,103.6 474.9,100.8 476.8,98.7 478.6,97.1 480.5,96.0 482.4,95.4 484.3,95.3 486.1,95.8 488.0,96.8 489.9,98.2 491.7,100.1 493.6,102.3 495.5,104.7 497.3,107.3 499.2,110.1 501.1,113.0 502.9,116.0 504.8,118.9 506.7,121.7 508.6,124.4 510.4,126.8 512.3,128.9 514.2,130.7 516.0,132.2 517.9,133.2 519.8,133.8 521.6,134.1 523.5,134.0 525.4,133.6 527.2,133.0 529.1,132.2 531.0,131.5"/>
<path d="M306.7,87.0 308.6,87.2 310.4,87.5 312.3,87.8 314.2,88.1 316.0,88.2 317.9,88.1 319.8,87.7 321.7,87.0 323.5,86.1 325.4,85.0 327.3,83.7 329.1,82.2 331.0,80.5 332.9,78.7 334.7,76.7 336.6,74.4 338.5,72.0 340.3,69.3 342.2,66.5 344.1,63.4 345.9,60.1 347.8,56.8 349.7,53.3 351.6,49.9 353.4,46.7 355.3,43.7 357.2,41.1 359.0,38.8 360.9,36.9 362.8,35.5 364.6,34.8 366.5,34.8 368.4,35.2 370.2,36.1 372.1,37.5 374.0,39.7 375.9,42.8 377.7,47.2 379.6,52.9 381.5,60.1 383.3,68.8 385.2,78.5 387.1,88.9 388.9,99.6 390.8,110.3 392.7,120.6 394.5,130.5 396.4,140.3 398.3,150.2 400.1,160.3 402.0,169.0 403.9,175.3 405.8,179.8 407.6,183.4 409.5,186.6 411.4,189.5 413.2,191.9 415.1,193.8 417.0,195.1 418.8,195.7 420.7,195.5 422.6,194.7 424.4,193.2 426.3,191.0 428.2,188.4 430.1,185.3 431.9,181.7 433.8,177.8 435.7,173.4 437.5,168.5 439.4,163.1 441.3,157.3 443.1,151.1 445.0,144.5 446.9,137.5 448.7,130.3 450.6,123.2 452.5,116.4 454.4,109.9 456.2,103.8 458.1,97.8 460.0,92.0 461.8,86.3 463.7,81.2 465.6,77.0 467.4,73.9 469.3,71.6 471.2,70.1 473.0,69.1 474.9,68.7 476.8,68.7 478.6,69.0 480.5,69.6 482.4,70.3 484.3,71.2 486.1,72.2 488.0,73.2 489.9,74.4 491.7,75.8 493.6,77.3 495.5,79.0 497.3,80.8 499.2,82.6 501.1,84.5 502.9,86.4 504.8,88.3 506.7,90.0 508.6,91.6 510.4,93.1 512.3,94.4 514.2,95.5 516.0,96.5 517.9,97.3 519.8,98.0 521.6,98.6 523.5,99.1 525.4,99.6 527.2,100.1 529.1,100.7 531.0,101.1"/>
<path d="M306.7,146.4 308.6,142.5 310.4,139.2 312.3,136.4 314.2,134.0 316.0,132.0 317.9,130.3 319.8,128.9 321.7,127.7 323.5,126.8 325.4,126.0 327.3,125.3 329.1,124.7 331.0,124.2 332.9,123.6 334.7,123.0 336.6,122.2 338.5,121.3 340.3,120.3 342.2,119.2 344.1,118.1 345.9,116.9 347.8,115.7 349.7,114.6 351.6,113.6 353.4,112.9 355.3,112.3 357.2,112.0 359.0,111.8 360.9,111.6 362.8,111.4 364.6,111.2 366.5,110.8 368.4,110.3 370.2,109.6 372.1,108.9 374.0,108.2 375.9,107.8 377.7,108.0 379.6,109.0 381.5,111.0 383.3,114.2 385.2,118.2 387.1,122.8 388.9,127.0 390.8,130.2 392.7,139.9 394.5,146.0 396.4,152.5 398.3,159.9 400.1,168.0 402.0,175.3 403.9,180.6 405.8,184.6 407.6,187.9 409.5,191.0 411.4,193.9 413.2,196.6 415.1,198.9 417.0,200.6 418.8,201.8 420.7,202.2 422.6,202.0 424.4,201.1 426.3,199.7 428.2,197.8 430.1,195.4 431.9,192.7 433.8,189.8 435.7,186.6 437.5,183.3 439.4,179.7 441.3,175.9 443.1,171.8 445.0,167.4 446.9,159.5 448.7,155.8 450.6,151.5 452.5,146.7 454.4,141.8 456.2,136.8 458.1,131.9 460.0,126.8 461.8,121.4 463.7,115.9 465.6,110.7 467.4,106.0 469.3,101.9 471.2,98.3 473.0,95.1 474.9,92.3 476.8,89.7 478.6,87.3 480.5,85.1 482.4,83.0 484.3,81.0 486.1,78.9 488.0,76.8 489.9,74.7 491.7,72.7 493.6,70.8 495.5,69.0 497.3,67.5 499.2,66.2 501.1,65.1 502.9,64.2 504.8,63.6 506.7,63.0 508.6,62.5 510.4,62.0 512.3,61.3 514.2,60.4 516.0,59.4 517.9,58.1 519.8,56.5 521.6,54.7 523.5,52.6 525.4,50.2 527.2,47.4 529.1,44.4 531.0,41.0"/>
<path d="M306.7,80.0 308.6,80.7 310.4,81.6 312.3,82.7 314.2,84.1 316.0,85.7 317.9,87.5 319.8,89.6 321.7,91.7 323.5,93.9 325.4,96.0 327.3,98.1 329.1,99.9 331.0,101.5 332.9,102.8 334.7,103.7 336.6,104.3 338.5,104.5 340.3,104.4 342.2,104.0 344.1,103.5 345.9,102.9 347.8,102.2 349.7,101.4 351.6,100.7 353.4,100.0 355.3,99.4 357.2,98.7 359.0,98.1 360.9,97.6 362.8,97.0 364.6,96.5 366.5,96.1 368.4,95.8 370.2,95.5 372.1,95.4 374.0,95.4 375.9,95.7 377.7,96.4 379.6,97.8 381.5,100.0 383.3,103.3 385.2,107.8 387.1,113.3 388.9,119.3 390.8,125.1 392.7,132.1 394.5,138.5 396.4,144.6 398.3,150.9 400.1,157.6 402.0,165.0 403.9,172.4 405.8,178.1 407.6,182.1 409.5,185.2 411.4,188.0 413.2,190.7 415.1,193.0 417.0,194.8 418.8,195.9 420.7,196.3 422.6,195.8 424.4,194.6 426.3,192.8 428.2,190.4 430.1,187.7 431.9,184.6 433.8,181.4 435.7,177.9 437.5,174.3 439.4,170.4 441.3,166.2 443.1,161.8 445.0,157.0 446.9,151.7 448.7,146.1 450.6,140.4 452.5,134.5 454.4,128.9 456.2,123.4 458.1,118.0 460.0,112.8 461.8,107.5 463.7,102.4 465.6,97.8 467.4,94.2 469.3,91.5 471.2,89.6 473.0,88.3 474.9,87.5 476.8,87.1 478.6,86.9 480.5,86.9 482.4,87.0 484.3,86.9 486.1,86.6 488.0,86.1 489.9,85.4 491.7,84.7 493.6,83.9 495.5,83.2 497.3,82.8 499.2,82.5 501.1,82.3 502.9,82.3 504.8,82.2 506.7,82.1 508.6,81.6 510.4,80.8 512.3,79.4 514.2,77.3 516.0,74.6 517.9,71.0 519.8,66.6 521.6,61.5 523.5,55.6 525.4,49.2 527.2,42.3 529.1,35.2 531.0,28.3"/>
<path d="M306.7,174.0 308.6,164.3 310.4,155.7 312.3,148.0 314.2,141.4 316.0,136.0 317.9,131.7 319.8,128.3 321.7,125.8 323.5,123.8 325.4,122.3 327.3,120.9 329.1,119.4 331.0,117.8 332.9,115.9 334.7,113.5 336.6,110.6 338.5,107.2 340.3,103.4 342.2,99.2 344.1,94.9 345.9,90.4 347.8,85.9 349.7,81.3 351.6,76.6 353.4,72.0 355.3,67.4 357.2,62.9 359.0,58.6 360.9,54.6 362.8,51.1 364.6,48.0 366.5,45.5 368.4,43.7 370.2,42.6 372.1,42.3 374.0,42.8 375.9,44.1 377.7,46.2 379.6,49.4 381.5,53.8 383.3,59.5 385.2,66.6 387.1,75.0 388.9,84.1 390.8,93.6 392.7,103.2 394.5,112.6 396.4,121.6 398.3,130.4 400.1,139.0 402.0,148.0 403.9,157.1 405.8,164.9 407.6,170.7 409.5,175.0 411.4,178.5 413.2,181.8 415.1,184.7 417.0,187.2 418.8,189.1 420.7,190.4 422.6,190.9 424.4,190.7 426.3,189.7 428.2,188.0 430.1,185.8 431.9,183.1 433.8,180.0 435.7,176.6 437.5,172.9 439.4,168.9 441.3,164.5 443.1,159.8 445.0,154.7 446.9,149.1 448.7,142.9 450.6,136.2 452.5,129.0 454.4,121.5 456.2,113.9 458.1,106.4 460.0,99.0 461.8,91.7 463.7,84.6 465.6,77.9 467.4,72.2 469.3,67.9 471.2,64.7 473.0,62.7 474.9,61.6 476.8,61.2 478.6,61.5 480.5,62.3 482.4,63.6 484.3,65.2 486.1,67.1 488.0,69.3 489.9,71.5 491.7,74.0 493.6,76.6 495.5,79.3 497.3,82.3 499.2,85.3 501.1,88.5 502.9,91.6 504.8,94.8 506.7,97.9 508.6,100.8 510.4,103.5 512.3,105.9 514.2,107.9 516.0,109.6 517.9,110.9 519.8,111.8 521.6,112.3 523.5,112.3 525.4,111.9 527.2,110.9 529.1,109.6 531.0,107.7"/>
<path d="M306.7,89.3 308.6,90.8 310.4,92.2 312.3,93.4 314.2,94.4 316.0,95.4 317.9,96.4 319.8,97.3 321.7,98.2 323.5,99.1 325.4,100.0 327.3,100.8 329.1,101.5 331.0,102.0 332.9,102.2 334.7,102.3 336.6,102.2 338.5,101.9 340.3,101.4 342.2,100.8 344.1,100.0 345.9,99.1 347.8,98.1 349.7,97.0 351.6,96.0 353.4,95.1 355.3,94.2 357.2,93.5 359.0,92.9 360.9,92.3 362.8,91.9 364.6,91.6 366.5,91.3 368.4,91.2 370.2,91.1 372.1,91.4 374.0,92.3 375.9,94.0 377.7,96.7 379.6,100.6 381.5,105.8 383.3,112.0 385.2,118.8 387.1,125.2 388.9,129.7 390.8,132.3 392.7,147.9 394.5,155.2 396.4,162.8 398.3,171.0 400.1,178.3 402.0,183.5 403.9,187.3 405.8,190.1 407.6,192.7 409.5,195.0 411.4,197.0 413.2,198.7 415.1,199.9 417.0,200.7 418.8,200.9 420.7,200.5 422.6,199.5 424.4,198.1 426.3,196.1 428.2,193.7 430.1,190.8 431.9,187.5 433.8,183.7 435.7,179.4 437.5,174.6 439.4,169.3 441.3,163.3 443.1,156.8 445.0,149.7 446.9,142.1 448.7,134.0 450.6,125.8 452.5,117.6 454.4,109.7 456.2,102.4 458.1,95.6 460.0,89.2 461.8,83.1 463.7,77.3 465.6,72.2 467.4,68.2 469.3,65.2 471.2,63.0 473.0,61.6 474.9,60.8 476.8,60.4 478.6,60.5 480.5,60.9 482.4,61.7 484.3,62.9 486.1,64.3 488.0,66.0 489.9,68.0 491.7,70.3 493.6,73.0 495.5,76.0 497.3,79.2 499.2,82.8 501.1,86.5 502.9,90.3 504.8,94.3 506.7,98.2 508.6,102.2 510.4,106.2 512.3,110.0 514.2,113.8 516.0,117.5 517.9,121.1 519.8,124.6 521.6,127.8 523.5,130.9 525.4,133.8 527.2,136.4 529.1,138.9 531.0,141.2"/>
<path d="M306.7,90.9 308.6,86.2 310.4,82.0 312.3,78.4 314.2,75.3 316.0,72.5 317.9,70.1 319.8,68.1 321.7,66.4 323.5,64.9 325.4,63.6 327.3,62.6 329.1,61.7 331.0,61.1 332.9,60.5 334.7,60.1 336.6,59.7 338.5,59.5 340.3,59.4 342.2,59.4 344.1,59.3 345.9,59.2 347.8,59.1 349.7,59.0 351.6,58.9 353.4,58.9 355.3,59.0 357.2,59.3 359.0,59.8 360.9,60.7 362.8,61.9 364.6,63.4 366.5,65.2 368.4,67.2 370.2,69.4 372.1,71.7 374.0,74.4 375.9,77.5 377.7,81.4 379.6,86.2 381.5,92.1 383.3,98.9 385.2,106.4 387.1,114.3 388.9,122.2 390.8,128.3 392.7,137.9 394.5,145.4 396.4,153.1 398.3,161.1 400.1,169.1 402.0,175.4 403.9,179.9 405.8,183.1 407.6,185.6 409.5,187.8 411.4,189.8 413.2,191.6 415.1,193.0 417.0,194.0 418.8,194.8 420.7,195.2 422.6,195.3 424.4,194.9 426.3,194.2 428.2,193.1 430.1,191.5 431.9,189.6 433.8,187.3 435.7,184.8 437.5,181.9 439.4,178.7 441.3,175.3 443.1,171.5 445.0,167.4 446.9,159.6 448.7,156.0 450.6,151.6 452.5,146.3 454.4,140.0 456.2,133.4 458.1,126.9 460.0,120.6 461.8,114.4 463.7,108.4 465.6,102.4 467.4,96.7 469.3,91.6 471.2,87.7 473.0,85.0 474.9,83.3 476.8,82.6 478.6,82.8 480.5,83.6 482.4,85.0 484.3,86.9 486.1,89.1 488.0,91.6 489.9,94.3 491.7,97.0 493.6,99.7 495.5,102.5 497.3,105.2 499.2,107.9 501.1,110.6 502.9,113.0 504.8,115.4 506.7,117.5 508.6,119.5 510.4,121.3 512.3,122.8 514.2,124.2 516.0,125.4 517.9,126.3 519.8,126.9 521.6,127.3 523.5,127.2 525.4,126.8 527.2,126.0 529.1,124.8 531.0,123.1"/>
<path d="M306.7,57.5 308.6,57.0 310.4,56.6 312.3,56.2 314.2,55.8 316.0,55.6 317.9,55.5 319.8,55.7 321.7,56.2 323.5,57.1 325.4,58.2 327.3,59.5 329.1,61.1 331.0,62.8 332.9,64.7 334.7,66.6 336.6,68.5 338.5,70.5 340.3,72.5 342.2,74.5 344.1,76.4 345.9,78.3 347.8,80.1 349.7,81.7 351.6,83.3 353.4,84.7 355.3,86.0 357.2,87.2 359.0,88.3 360.9,89.3 362.8,90.3 364.6,91.3 366.5,92.3 368.4,93.5 370.2,94.8 372.1,96.4 374.0,98.6 375.9,101.5 377.7,105.4 379.6,110.2 381.5,116.0 383.3,122.1 385.2,127.0 387.1,130.2 388.9,132.1 390.8,133.3 392.7,152.6 394.5,158.0 396.4,163.8 398.3,170.2 400.1,175.7 402.0,179.5 403.9,182.3 405.8,184.6 407.6,186.8 409.5,188.8 411.4,190.5 413.2,191.9 415.1,192.8 417.0,193.2 418.8,192.8 420.7,191.9 422.6,190.5 424.4,188.6 426.3,186.4 428.2,183.9 430.1,181.1 431.9,178.2 433.8,175.2 435.7,171.9 437.5,168.4 439.4,164.7 441.3,160.5 443.1,155.9 445.0,150.7 446.9,144.9 448.7,138.6 450.6,131.8 452.5,124.7 454.4,117.4 456.2,109.8 458.1,102.0 460.0,93.9 461.8,85.7 463.7,78.0 465.6,71.2 467.4,65.6 469.3,61.0 471.2,57.5 473.0,55.0 474.9,53.3 476.8,52.3 478.6,52.0 480.5,52.2 482.4,52.8 484.3,53.7 486.1,54.7 488.0,55.9 489.9,57.3 491.7,58.7 493.6,60.2 495.5,61.7 497.3,63.2 499.2,64.8 501.1,66.3 502.9,67.8 504.8,69.3 506.7,70.8 508.6,72.2 510.4,73.6 512.3,74.9 514.2,76.2 516.0,77.5 517.9,78.9 519.8,80.3 521.6,81.8 523.5,83.4 525.4,85.2 527.2,87.2 529.1,89.2 531.0,90.9"/>
<path d="M306.7,140.6 308.6,135.1 310.4,129.9 312.3,125.0 314.2,120.5 316.0,116.3 317.9,112.5 319.8,109.0 321.7,105.9 323.5,103.3 325.4,101.1 327.3,99.3 329.1,97.9 331.0,97.0 332.9,96.6 334.7,96.6 336.6,97.0 338.5,97.5 340.3,98.0 342.2,98.2 344.1,98.1 345.9,97.5 347.8,96.6 349.7,95.5 351.6,94.2 353.4,92.8 355.3,91.3 357.2,89.6 359.0,87.8 360.9,85.8 362.8,83.7 364.6,81.7 366.5,80.0 368.4,78.7 370.2,78.0 372.1,77.9 374.0,78.5 375.9,79.9 377.7,82.1 379.6,85.3 381.5,89.7 383.3,95.3 385.2,101.9 387.1,109.1 388.9,116.4 390.8,123.4 392.7,130.5 394.5,136.9 396.4,143.0 398.3,149.1 400.1,155.6 402.0,162.5 403.9,168.6 405.8,173.1 407.6,176.2 409.5,178.5 411.4,180.6 413.2,182.6 415.1,184.3 417.0,185.9 418.8,187.1 420.7,188.0 422.6,188.5 424.4,188.5 426.3,188.0 428.2,187.0 430.1,185.6 431.9,183.7 433.8,181.3 435.7,178.6 437.5,175.5 439.4,172.1 441.3,168.4 443.1,164.4 445.0,160.3 446.9,155.4 448.7,151.4 450.6,146.9 452.5,141.9 454.4,136.7 456.2,131.5 458.1,126.5 460.0,121.9 461.8,117.6 463.7,113.7 465.6,109.8 467.4,106.0 469.3,102.6 471.2,100.0 473.0,98.2 474.9,97.2 476.8,96.8 478.6,96.8 480.5,97.2 482.4,97.7 484.3,98.3 486.1,98.8 488.0,99.2 489.9,99.4 491.7,99.4 493.6,99.2 495.5,98.8 497.3,98.4 499.2,98.0 501.1,97.6 502.9,97.4 504.8,97.3 506.7,97.4 508.6,97.5 510.4,97.6 512.3,97.5 514.2,97.2 516.0,96.5 517.9,95.4 519.8,93.8 521.6,91.8 523.5,89.3 525.4,86.5 527.2,83.2 529.1,79.6 531.0,75.6"/>
<path d="M306.7,69.5 308.6,71.2 310.4,72.7 312.3,74.3 314.2,75.7 316.0,77.1 317.9,78.4 319.8,79.6 321.7,80.7 323.5,81.8 325.4,82.8 327.3,83.7 329.1,84.5 331.0,85.2 332.9,85.8 334.7,86.3 336.6,86.6 338.5,86.8 340.3,86.9 342.2,87.0 344.1,86.9 345.9,86.8 347.8,86.8 349.7,86.7 351.6,86.7 353.4,86.9 355.3,87.2 357.2,87.7 359.0,88.4 360.9,89.2 362.8,90.2 364.6,91.3 366.5,92.4 368.4,93.5 370.2,94.6 372.1,95.7 374.0,97.0 375.9,98.7 377.7,101.0 379.6,104.1 381.5,108.2 383.3,113.2 385.2,119.0 387.1,124.6 388.9,129.0 390.8,131.7 392.7,144.8 394.5,151.3 396.4,158.1 398.3,165.8 400.1,173.8 402.0,180.4 403.9,185.1 405.8,188.6 407.6,191.6 409.5,194.6 411.4,197.3 413.2,199.6 415.1,201.4 417.0,202.5 418.8,202.7 420.7,202.0 422.6,200.7 424.4,198.7 426.3,196.1 428.2,193.2 430.1,189.9 431.9,186.3 433.8,182.5 435.7,178.3 437.5,173.8 439.4,169.0 441.3,163.8 443.1,158.3 445.0,152.4 446.9,146.4 448.7,140.5 450.6,135.0 452.5,130.0 454.4,125.3 456.2,120.9 458.1,116.6 460.0,112.7 461.8,109.6 463.7,107.6 465.6,106.6 467.4,106.4 469.3,107.0 471.2,108.0 473.0,109.4 474.9,111.0 476.8,112.8 478.6,114.6 480.5,116.5 482.4,118.2 484.3,119.8 486.1,121.3 488.0,122.6 489.9,123.9 491.7,125.1 493.6,126.2 495.5,127.4 497.3,128.5 499.2,129.6 501.1,130.9 502.9,132.1 504.8,133.5 506.7,135.0 508.6,136.6 510.4,138.2 512.3,139.8 514.2,141.4 516.0,142.9 517.9,144.1 519.8,145.0 521.6,145.5 523.5,145.4 525.4,144.8 527.2,143.6 529.1,141.4 531.0,138.4"/>
<path d="M306.7,95.6 308.6,90.2 310.4,85.6 312.3,81.5 314.2,78.1 316.0,75.2 317.9,72.9 319.8,71.1 321.7,69.9 323.5,69.1 325.4,68.7 327.3,68.6 329.1,68.9 331.0,69.4 332.9,70.1 334.7,70.9 336.6,71.7 338.5,72.7 340.3,73.7 342.2,74.8 344.1,75.9 345.9,77.2 347.8,78.6 349.7,80.1 351.6,81.7 353.4,83.3 355.3,84.9 357.2,86.4 359.0,87.6 360.9,88.6 362.8,89.2 364.6,89.5 366.5,89.4 368.4,89.1 370.2,88.6 372.1,87.9 374.0,87.2 375.9,86.4 377.7,85.6 379.6,85.0 381.5,84.6 383.3,84.6 385.2,85.0 387.1,85.9 388.9,87.2 390.8,89.1 392.7,91.6 394.5,94.7 396.4,98.7 398.3,103.7 400.1,109.4 402.0,115.9 403.9,122.8 405.8,129.9 407.6,137.1 409.5,144.7 411.4,153.1 413.2,162.2 415.1,169.2 417.0,173.9 418.8,177.8 420.7,181.4 422.6,184.5 424.4,186.9 426.3,188.4 428.2,188.8 430.1,188.4 431.9,187.4 433.8,186.0 435.7,184.3 437.5,182.6 439.4,180.9 441.3,179.4 443.1,177.9 445.0,176.4 446.9,162.9 448.7,160.8 450.6,158.7 452.5,156.5 454.4,154.1 456.2,151.6 458.1,149.9 460.0,147.7 461.8,144.8 463.7,141.1 465.6,136.6 467.4,131.4 469.3,126.5 471.2,122.4 473.0,119.0 474.9,116.4 476.8,114.5 478.6,113.0 480.5,111.9 482.4,111.1 484.3,110.4 486.1,109.7 488.0,109.1 489.9,108.4 491.7,107.7 493.6,107.0 495.5,106.4 497.3,106.0 499.2,105.9 501.1,106.0 502.9,106.4 504.8,107.1 506.7,108.0 508.6,109.0 510.4,109.9 512.3,110.6 514.2,111.1 516.0,111.1 517.9,110.8 519.8,110.0 521.6,108.8 523.5,107.3 525.4,105.5 527.2,103.4 529.1,101.2 531.0,98.9"/>
<path d="M306.7,103.7 308.6,103.3 310.4,103.0 312.3,102.9 314.2,103.0 316.0,103.3 317.9,103.7 319.8,104.3 321.7,104.8 323.5,105.4 325.4,105.9 327.3,106.4 329.1,106.7 331.0,106.8 332.9,106.7 334.7,106.3 336.6,105.6 338.5,104.5 340.3,103.0 342.2,101.2 344.1,98.9 345.9,96.2 347.8,93.2 349.7,89.8 351.6,86.3 353.4,82.6 355.3,78.8 357.2,75.2 359.0,71.7 360.9,68.4 362.8,65.5 364.6,62.9 366.5,60.8 368.4,59.1 370.2,58.1 372.1,57.7 374.0,58.1 375.9,59.2 377.7,61.4 379.6,64.6 381.5,69.2 383.3,75.1 385.2,82.3 387.1,90.5 388.9,99.1 390.8,107.7 392.7,115.9 394.5,123.7 396.4,130.9 398.3,137.7 400.1,144.5 402.0,151.4 403.9,158.3 405.8,163.8 407.6,167.7 409.5,170.7 411.4,173.1 413.2,175.3 415.1,177.3 417.0,179.1 418.8,180.6 420.7,181.8 422.6,182.6 424.4,183.0 426.3,182.9 428.2,182.4 430.1,181.5 431.9,180.3 433.8,178.7 435.7,176.9 437.5,174.9 439.4,172.6 441.3,170.2 443.1,167.5 445.0,164.6 446.9,158.8 448.7,155.8 450.6,152.2 452.5,147.7 454.4,141.9 456.2,134.9 458.1,127.4 460.0,119.8 461.8,112.2 463.7,104.7 465.6,97.3 467.4,89.9 469.3,82.8 471.2,76.5 473.0,71.3 474.9,67.1 476.8,63.9 478.6,61.6 480.5,60.0 482.4,59.2 484.3,59.0 486.1,59.4 488.0,60.4 489.9,61.8 491.7,63.4 493.6,65.4 495.5,67.5 497.3,69.8 499.2,72.1 501.1,74.4 502.9,76.5 504.8,78.5 506.7,80.1 508.6,81.5 510.4,82.4 512.3,83.0 514.2,83.3 516.0,83.4 517.9,83.3 519.8,83.1 521.6,82.9 523.5,82.7 525.4,82.5 527.2,82.3 529.1,82.2 531.0,82.2"/>
<path d="M306.7,61.3 308.6,63.9 310.4,66.3 312.3,68.8 314.2,71.3 316.0,74.0 317.9,76.6 319.8,79.3 321.7,82.0 323.5,84.7 325.4,87.3 327.3,89.8 329.1,92.1 331.0,94.2 332.9,95.9 334.7,97.3 336.6,98.2 338.5,98.7 340.3,98.8 342.2,98.5 344.1,98.0 345.9,97.2 347.8,96.3 349.7,95.2 351.6,94.3 353.4,93.4 355.3,92.7 357.2,92.2 359.0,91.9 360.9,92.0 362.8,92.2 364.6,92.6 366.5,93.2 368.4,93.8 370.2,94.6 372.1,95.3 374.0,96.2 375.9,97.3 377.7,98.9 379.6,101.1 381.5,104.3 383.3,108.5 385.2,113.6 387.1,119.4 388.9,124.8 390.8,128.9 392.7,137.2 394.5,142.7 396.4,148.2 398.3,154.0 400.1,160.5 402.0,167.3 403.9,172.9 405.8,176.8 407.6,179.7 409.5,182.3 411.4,184.7 413.2,187.0 415.1,188.8 417.0,190.1 418.8,190.8 420.7,190.8 422.6,190.0 424.4,188.6 426.3,186.6 428.2,184.2 430.1,181.5 431.9,178.4 433.8,175.0 435.7,171.3 437.5,167.1 439.4,162.3 441.3,157.0 443.1,151.1 445.0,144.4 446.9,137.2 448.7,129.6 450.6,121.8 452.5,114.1 454.4,106.5 456.2,99.1 458.1,92.0 460.0,85.0 461.8,78.6 463.7,73.0 465.6,68.8 467.4,66.0 469.3,64.6 471.2,64.3 473.0,65.1 474.9,66.7 476.8,68.9 478.6,71.4 480.5,74.0 482.4,76.6 484.3,79.1 486.1,81.5 488.0,83.7 489.9,85.8 491.7,87.8 493.6,89.8 495.5,91.7 497.3,93.6 499.2,95.5 501.1,97.5 502.9,99.5 504.8,101.5 506.7,103.6 508.6,105.8 510.4,108.1 512.3,110.4 514.2,112.9 516.0,115.5 517.9,118.3 519.8,121.3 521.6,124.4 523.5,127.4 525.4,130.1 527.2,132.2 529.1,133.8 531.0,134.6"/>
<path d="M306.7,110.5 308.6,106.3 310.4,102.9 312.3,100.2 314.2,98.3 316.0,97.0 317.9,96.2 319.8,95.8 321.7,95.7 323.5,95.6 325.4,95.5 327.3,95.2 329.1,94.7 331.0,94.0 332.9,93.1 334.7,92.0 336.6,90.7 338.5,89.4 340.3,87.9 342.2,86.3 344.1,84.6 345.9,82.8 347.8,80.9 349.7,79.0 351.6,77.2 353.4,75.7 355.3,74.4 357.2,73.5 359.0,73.0 360.9,73.0 362.8,73.4 364.6,74.2 366.5,75.4 368.4,77.0 370.2,78.9 372.1,81.3 374.0,84.4 375.9,88.2 377.7,92.9 379.6,98.7 381.5,105.4 383.3,112.7 385.2,120.1 387.1,126.2 388.9,130.0 390.8,132.2 392.7,145.8 394.5,151.3 396.4,156.9 398.3,163.0 400.1,168.2 402.0,172.0 403.9,174.6 405.8,176.6 407.6,178.5 409.5,180.3 411.4,181.8 413.2,183.1 415.1,184.1 417.0,184.7 418.8,184.9 420.7,184.7 422.6,184.1 424.4,183.1 426.3,181.8 428.2,180.3 430.1,178.5 431.9,176.5 433.8,174.4 435.7,172.2 437.5,169.9 439.4,167.5 441.3,165.0 443.1,162.3 445.0,159.6 446.9,155.8 448.7,152.7 450.6,149.2 452.5,145.2 454.4,140.7 456.2,136.0 458.1,131.1 460.0,126.2 461.8,121.1 463.7,115.8 465.6,110.5 467.4,105.7 469.3,101.8 471.2,98.6 473.0,96.2 474.9,94.3 476.8,92.8 478.6,91.7 480.5,90.8 482.4,90.1 484.3,89.5 486.1,89.0 488.0,88.4 489.9,87.8 491.7,87.2 493.6,86.7 495.5,86.3 497.3,86.0 499.2,85.8 501.1,85.8 502.9,85.9 504.8,86.1 506.7,86.4 508.6,86.8 510.4,87.4 512.3,88.0 514.2,88.6 516.0,89.5 517.9,90.4 519.8,91.6 521.6,93.0 523.5,94.6 525.4,96.5 527.2,98.6 529.1,101.1 531.0,103.8"/>
<path d="M306.7,122.3 308.6,120.3 310.4,118.5 312.3,117.2 314.2,116.2 316.0,115.5 317.9,115.1 319.8,115.0 321.7,115.1 323.5,115.5 325.4,116.2 327.3,117.1 329.1,118.2 331.0,119.5 332.9,121.0 334.7,122.6 336.6,124.3 338.5,126.0 340.3,127.7 342.2,129.1 344.1,130.4 345.9,131.2 347.8,131.6 349.7,131.8 351.6,131.7 353.4,131.4 355.3,131.1 357.2,130.8 359.0,130.4 360.9,130.0 362.8,129.6 364.6,129.6 366.5,129.5 368.4,129.5 370.2,129.3 372.1,129.1 374.0,128.7 375.9,128.2 377.7,127.6 379.6,126.8 381.5,126.1 383.3,125.7 385.2,125.5 387.1,125.5 388.9,125.9 390.8,126.5 392.7,128.6 394.5,129.9 396.4,131.4 398.3,133.2 400.1,135.3 402.0,137.8 403.9,140.4 405.8,143.5 407.6,147.5 409.5,152.5 411.4,156.9 413.2,159.7 415.1,161.7 417.0,163.7 418.8,165.6 420.7,167.0 422.6,167.7 424.4,167.7 426.3,166.8 428.2,165.4 430.1,163.5 431.9,161.2 433.8,158.7 435.7,156.0 437.5,153.1 439.4,149.8 441.3,146.3 443.1,142.4 445.0,138.1 446.9,133.3 448.7,127.9 450.6,121.9 452.5,115.3 454.4,108.1 456.2,100.5 458.1,92.8 460.0,85.0 461.8,77.5 463.7,70.6 465.6,64.9 467.4,60.8 469.3,58.1 471.2,56.8 473.0,56.6 474.9,57.4 476.8,59.0 478.6,61.1 480.5,63.7 482.4,66.6 484.3,69.7 486.1,72.8 488.0,75.9 489.9,79.1 491.7,82.2 493.6,85.2 495.5,88.2 497.3,90.9 499.2,93.5 501.1,95.7 502.9,97.8 504.8,99.7 506.7,101.6 508.6,103.4 510.4,105.4 512.3,107.4 514.2,109.4 516.0,111.6 517.9,113.8 519.8,116.0 521.6,118.2 523.5,120.4 525.4,122.6 527.2,124.8 529.1,127.1 531.0,129.3"/>
<path d="M306.7,131.6 308.6,128.6 310.4,125.7 312.3,122.9 314.2,120.4 316.0,118.2 317.9,116.2 319.8,114.6 321.7,113.3 323.5,112.2 325.4,111.4 327.3,110.9 329.1,110.4 331.0,110.0 332.9,109.6 334.7,109.0 336.6,108.3 338.5,107.2 340.3,105.8 342.2,104.1 344.1,102.2 345.9,100.0 347.8,97.7 349.7,95.3 351.6,92.8 353.4,90.4 355.3,88.1 357.2,85.9 359.0,83.8 360.9,81.9 362.8,80.2 364.6,78.6 366.5,77.1 368.4,75.8 370.2,74.7 372.1,73.8 374.0,73.2 375.9,73.1 377.7,73.7 379.6,75.4 381.5,78.3 383.3,82.7 385.2,88.7 387.1,95.8 388.9,103.9 390.8,112.6 392.7,121.5 394.5,130.4 396.4,139.1 398.3,147.9 400.1,157.1 402.0,166.8 403.9,175.8 405.8,182.7 407.6,187.7 409.5,191.7 411.4,195.2 413.2,198.5 415.1,201.4 417.0,203.8 418.8,205.8 420.7,207.2 422.6,207.9 424.4,207.9 426.3,207.2 428.2,205.9 430.1,204.0 431.9,201.6 433.8,198.8 435.7,195.6 437.5,192.0 439.4,187.9 441.3,183.4 443.1,178.3 445.0,172.6 446.9,161.0 448.7,156.7 450.6,150.8 452.5,143.0 454.4,134.5 456.2,126.2 458.1,118.1 460.0,110.4 461.8,103.0 463.7,95.9 465.6,88.9 467.4,82.4 469.3,76.8 471.2,72.5 473.0,69.2 474.9,67.0 476.8,65.6 478.6,65.0 480.5,65.0 482.4,65.6 484.3,66.7 486.1,68.3 488.0,70.2 489.9,72.4 491.7,74.9 493.6,77.5 495.5,80.5 497.3,83.5 499.2,86.7 501.1,90.0 502.9,93.3 504.8,96.6 506.7,99.9 508.6,103.1 510.4,106.2 512.3,109.2 514.2,112.0 516.0,114.7 517.9,117.2 519.8,119.6 521.6,121.8 523.5,124.0 525.4,126.1 527.2,128.1 529.1,129.9 531.0,131.7"/>
<path d="M306.7,81.4 308.6,83.5 310.4,85.7 312.3,87.9 314.2,90.0 316.0,92.3 317.9,94.5 319.8,96.6 321.7,98.6 323.5,100.4 325.4,101.8 327.3,103.0 329.1,103.9 331.0,104.3 332.9,104.4 334.7,103.9 336.6,102.8 338.5,101.1 340.3,98.5 342.2,95.2 344.1,91.3 345.9,87.0 347.8,82.7 349.7,78.7 351.6,75.2 353.4,72.0 355.3,69.4 357.2,67.1 359.0,65.2 360.9,63.8 362.8,62.6 364.6,61.9 366.5,61.4 368.4,61.2 370.2,61.3 372.1,61.6 374.0,62.3 375.9,63.3 377.7,64.7 379.6,66.7 381.5,69.6 383.3,73.6 385.2,78.8 387.1,85.3 388.9,93.0 390.8,101.4 392.7,110.4 394.5,119.6 396.4,128.6 398.3,137.3 400.1,145.9 402.0,154.6 403.9,163.8 405.8,172.5 407.6,179.0 409.5,183.5 411.4,186.9 413.2,189.9 415.1,192.6 417.0,195.1 418.8,197.3 420.7,199.2 422.6,200.6 424.4,201.5 426.3,201.6 428.2,201.2 430.1,200.1 431.9,198.3 433.8,196.1 435.7,193.2 437.5,189.9 439.4,186.0 441.3,181.8 443.1,177.0 445.0,171.8 446.9,160.9 448.7,157.2 450.6,152.4 452.5,146.3 454.4,139.1 456.2,131.8 458.1,124.7 460.0,117.9 461.8,111.4 463.7,105.1 465.6,98.8 467.4,92.4 469.3,86.3 471.2,80.8 473.0,76.4 474.9,72.9 476.8,70.2 478.6,68.4 480.5,67.3 482.4,66.7 484.3,66.6 486.1,66.8 488.0,67.2 489.9,67.7 491.7,68.1 493.6,68.5 495.5,68.8 497.3,69.0 499.2,69.2 501.1,69.3 502.9,69.4 504.8,69.5 506.7,69.5 508.6,69.5 510.4,69.5 512.3,69.4 514.2,69.2 516.0,68.9 517.9,68.3 519.8,67.5 521.6,66.5 523.5,65.4 525.4,64.0 527.2,62.5 529.1,61.0 531.0,59.4"/>
<path d="M306.7,116.2 308.6,115.1 310.4,114.0 312.3,112.9 314.2,111.9 316.0,110.8 317.9,109.6 319.8,108.3 321.7,107.0 323.5,105.6 325.4,104.1 327.3,102.5 329.1,100.7 331.0,98.8 332.9,96.6 334.7,94.1 336.6,91.3 338.5,88.4 340.3,85.1 342.2,81.7 344.1,78.0 345.9,74.3 347.8,70.4 349.7,66.5 351.6,62.8 353.4,59.3 355.3,56.0 357.2,53.1 359.0,50.7 360.9,48.7 362.8,47.3 364.6,46.5 366.5,46.3 368.4,46.7 370.2,47.8 372.1,49.5 374.0,52.1 375.9,55.7 377.7,60.5 379.6,66.7 381.5,74.3 383.3,82.9 385.2,92.2 387.1,101.9 388.9,111.5 390.8,120.6 392.7,129.4 394.5,137.9 396.4,146.5 398.3,155.5 400.1,163.9 402.0,170.3 403.9,174.9 405.8,178.5 407.6,181.6 409.5,184.5 411.4,187.0 413.2,189.0 415.1,190.6 417.0,191.6 418.8,191.9 420.7,191.5 422.6,190.6 424.4,189.1 426.3,187.1 428.2,184.8 430.1,182.1 431.9,179.2 433.8,176.0 435.7,172.5 437.5,168.8 439.4,164.7 441.3,160.3 443.1,155.5 445.0,150.1 446.9,144.4 448.7,138.4 450.6,132.2 452.5,125.9 454.4,119.4 456.2,112.8 458.1,106.1 460.0,99.3 461.8,92.9 463.7,87.5 465.6,83.4 467.4,80.4 469.3,78.5 471.2,77.4 473.0,77.1 474.9,77.2 476.8,77.7 478.6,78.4 480.5,79.2 482.4,80.1 484.3,81.0 486.1,82.0 488.0,83.0 489.9,84.0 491.7,85.2 493.6,86.4 495.5,87.7 497.3,89.0 499.2,90.3 501.1,91.6 502.9,92.6 504.8,93.2 506.7,93.4 508.6,92.9 510.4,91.8 512.3,90.2 514.2,88.6 516.0,87.1 517.9,85.9 519.8,85.0 521.6,84.3 523.5,83.7 525.4,83.1 527.2,82.4 529.1,81.5 531.0,79.9"/>
<path d="M306.7,43.8 308.6,44.2 310.4,44.9 312.3,45.8 314.2,46.9 316.0,48.2 317.9,49.5 319.8,50.8 321.7,52.0 323.5,52.9 325.4,53.7 327.3,54.2 329.1,54.5 331.0,54.5 332.9,54.2 334.7,53.8 336.6,53.2 338.5,52.7 340.3,52.3 342.2,52.0 344.1,52.0 345.9,51.6 347.8,51.6 349.7,52.1 351.6,53.0 353.4,54.1 355.3,55.6 357.2,57.3 359.0,59.2 360.9,61.3 362.8,63.6 364.6,66.0 366.5,68.5 368.4,71.1 370.2,73.9 372.1,76.8 374.0,80.3 375.9,84.3 377.7,89.2 379.6,95.1 381.5,102.0 383.3,109.3 385.2,116.9 387.1,123.7 388.9,128.4 390.8,131.1 392.7,141.6 394.5,146.4 396.4,151.5 398.3,156.8 400.1,161.4 402.0,164.7 403.9,167.0 405.8,168.7 407.6,170.2 409.5,171.6 411.4,172.8 413.2,173.8 415.1,174.6 417.0,175.1 418.8,175.3 420.7,175.3 422.6,174.9 424.4,174.3 426.3,173.4 428.2,172.3 430.1,170.9 431.9,169.3 433.8,167.5 435.7,165.5 437.5,163.3 439.4,160.9 441.3,158.2 443.1,155.3 445.0,152.2 446.9,148.9 448.7,145.3 450.6,141.1 452.5,136.5 454.4,131.3 456.2,125.9 458.1,120.5 460.0,115.3 461.8,110.2 463.7,105.2 465.6,100.3 467.4,95.7 469.3,91.8 471.2,88.8 473.0,86.5 474.9,84.7 476.8,83.1 478.6,81.7 480.5,80.4 482.4,79.3 484.3,78.5 486.1,78.0 488.0,77.9 489.9,78.1 491.7,78.7 493.6,79.5 495.5,80.7 497.3,82.3 499.2,84.1 501.1,86.2 502.9,88.3 504.8,90.2 506.7,91.9 508.6,93.2 510.4,94.1 512.3,94.6 514.2,94.8 516.0,94.7 517.9,94.3 519.8,93.6 521.6,92.7 523.5,91.4 525.4,89.9 527.2,88.1 529.1,86.0 531.0,83.9"/>
<path d="M306.7,87.3 308.6,83.3 310.4,79.7 312.3,76.6 314.2,74.0 316.0,71.9 317.9,70.3 319.8,69.1 321.7,68.2 323.5,67.5 325.4,67.1 327.3,66.8 329.1,66.7 331.0,66.8 332.9,67.1 334.7,67.6 336.6,68.2 338.5,69.2 340.3,70.4 342.2,71.8 344.1,73.2 345.9,74.7 347.8,76.1 349.7,77.4 351.6,78.7 353.4,79.8 355.3,80.9 357.2,82.1 359.0,83.3 360.9,84.4 362.8,85.6 364.6,86.8 366.5,87.9 368.4,89.0 370.2,90.1 372.1,91.1 374.0,92.2 375.9,93.4 377.7,95.0 379.6,97.1 381.5,99.9 383.3,103.7 385.2,108.5 387.1,114.1 388.9,120.3 390.8,126.0 392.7,133.4 394.5,139.8 396.4,146.2 398.3,152.8 400.1,159.9 402.0,167.9 403.9,175.6 405.8,181.4 407.6,185.6 409.5,188.9 411.4,192.0 413.2,194.9 415.1,197.5 417.0,199.7 418.8,201.3 420.7,202.1 422.6,202.0 424.4,201.1 426.3,199.5 428.2,197.3 430.1,194.5 431.9,191.3 433.8,187.8 435.7,183.9 437.5,179.7 439.4,175.1 441.3,170.0 443.1,164.5 445.0,158.3 446.9,151.5 448.7,144.2 450.6,136.3 452.5,128.2 454.4,120.2 456.2,112.4 458.1,104.9 460.0,97.6 461.8,90.5 463.7,83.7 465.6,77.6 467.4,72.6 469.3,68.9 471.2,66.4 473.0,64.8 474.9,64.1 476.8,64.2 478.6,64.9 480.5,66.2 482.4,68.1 484.3,70.4 486.1,73.0 488.0,75.9 489.9,79.2 491.7,82.7 493.6,86.4 495.5,90.4 497.3,94.6 499.2,98.8 501.1,103.0 502.9,107.0 504.8,110.7 506.7,113.9 508.6,116.6 510.4,118.7 512.3,120.0 514.2,120.5 516.0,120.2 517.9,119.3 519.8,118.0 521.6,116.3 523.5,114.6 525.4,112.9 527.2,111.1 529.1,109.2 531.0,107.2"/>
<path d="M306.7,32.4 308.6,33.3 310.4,34.6 312.3,36.4 314.2,38.9 316.0,42.3 317.9,46.4 319.8,50.9 321.7,55.3 323.5,59.4 325.4,63.3 327.3,66.8 329.1,70.0 331.0,72.9 332.9,75.5 334.7,77.6 336.6,79.4 338.5,80.9 340.3,82.0 342.2,82.8 344.1,83.3 345.9,83.7 347.8,83.8 349.7,83.8 351.6,83.9 353.4,84.0 355.3,84.1 357.2,84.5 359.0,85.0 360.9,85.6 362.8,86.3 364.6,87.0 366.5,87.8 368.4,88.5 370.2,89.1 372.1,89.6 374.0,90.2 375.9,90.9 377.7,92.2 379.6,94.2 381.5,97.1 383.3,101.2 385.2,106.2 387.1,111.7 388.9,117.4 390.8,122.9 392.7,128.5 394.5,133.8 396.4,139.2 398.3,145.0 400.1,151.3 402.0,157.6 403.9,162.4 405.8,165.9 407.6,168.4 409.5,170.4 411.4,172.3 413.2,174.0 415.1,175.5 417.0,176.7 418.8,177.6 420.7,178.1 422.6,178.3 424.4,178.0 426.3,177.2 428.2,176.0 430.1,174.4 431.9,172.3 433.8,169.8 435.7,166.9 437.5,163.7 439.4,160.1 441.3,156.2 443.1,152.1 445.0,147.8 446.9,143.3 448.7,138.5 450.6,133.2 452.5,127.2 454.4,120.7 456.2,113.8 458.1,106.8 460.0,99.9 461.8,92.9 463.7,85.9 465.6,78.9 467.4,71.9 469.3,65.5 471.2,60.1 473.0,55.6 474.9,51.9 476.8,48.9 478.6,46.6 480.5,44.9 482.4,43.8 484.3,43.3 486.1,43.4 488.0,44.0 489.9,45.0 491.7,46.3 493.6,48.0 495.5,49.9 497.3,52.1 499.2,54.5 501.1,57.0 502.9,59.6 504.8,62.3 506.7,65.1 508.6,67.9 510.4,70.8 512.3,73.8 514.2,76.6 516.0,79.4 517.9,82.0 519.8,84.4 521.6,86.6 523.5,88.5 525.4,90.3 527.2,91.9 529.1,93.4 531.0,94.8"/>
<path d="M306.7,150.2 308.6,146.2 310.4,142.8 312.3,140.0 314.2,137.7 316.0,135.7 317.9,134.2 319.8,132.9 321.7,131.8 323.5,130.8 325.4,129.7 327.3,128.4 329.1,127.1 331.0,125.5 332.9,123.6 334.7,121.5 336.6,119.1 338.5,116.5 340.3,113.6 342.2,110.7 344.1,107.6 345.9,104.5 347.8,101.3 349.7,98.1 351.6,94.9 353.4,91.6 355.3,88.2 357.2,84.7 359.0,81.2 360.9,77.7 362.8,74.4 364.6,71.2 366.5,68.3 368.4,65.8 370.2,63.8 372.1,62.2 374.0,61.3 375.9,61.0 377.7,61.3 379.6,62.4 381.5,64.5 383.3,67.6 385.2,72.1 387.1,78.0 388.9,85.3 390.8,93.8 392.7,103.0 394.5,112.7 396.4,122.5 398.3,132.0 400.1,141.4 402.0,151.3 403.9,161.9 405.8,172.0 407.6,179.3 409.5,184.4 411.4,188.5 413.2,192.4 415.1,195.9 417.0,198.6 418.8,200.3 420.7,200.8 422.6,200.0 424.4,198.2 426.3,195.5 428.2,192.3 430.1,188.6 431.9,184.6 433.8,180.2 435.7,175.6 437.5,170.5 439.4,165.1 441.3,159.3 443.1,153.2 445.0,146.9 446.9,140.9 448.7,135.3 450.6,130.4 452.5,126.1 454.4,122.3 456.2,118.6 458.1,115.1 460.0,111.9 461.8,109.4 463.7,107.7 465.6,106.6 467.4,106.1 469.3,106.0 471.2,106.1 473.0,106.3 474.9,106.6 476.8,106.9 478.6,107.1 480.5,107.2 482.4,107.2 484.3,107.1 486.1,107.0 488.0,107.0 489.9,107.1 491.7,107.3 493.6,107.7 495.5,108.3 497.3,109.0 499.2,109.8 501.1,110.6 502.9,111.3 504.8,111.8 506.7,112.0 508.6,111.9 510.4,111.5 512.3,110.7 514.2,109.5 516.0,108.0 517.9,106.2 519.8,103.9 521.6,101.2 523.5,98.1 525.4,94.5 527.2,90.4 529.1,85.3 531.0,79.8"/>
<path d="M306.7,66.7 308.6,67.7 310.4,68.8 312.3,70.0 314.2,71.3 316.0,72.6 317.9,74.0 319.8,75.3 321.7,76.6 323.5,77.9 325.4,79.0 327.3,80.2 329.1,81.2 331.0,82.2 332.9,83.0 334.7,83.8 336.6,84.5 338.5,85.2 340.3,85.7 342.2,86.2 344.1,86.7 345.9,87.1 347.8,87.5 349.7,87.9 351.6,88.3 353.4,88.8 355.3,89.4 357.2,90.2 359.0,91.1 360.9,92.3 362.8,93.5 364.6,95.0 366.5,96.5 368.4,98.0 370.2,99.6 372.1,101.1 374.0,102.6 375.9,104.3 377.7,106.4 379.6,109.2 381.5,112.8 383.3,117.4 385.2,122.5 387.1,127.1 388.9,130.5 390.8,132.5 392.7,148.8 394.5,155.5 396.4,162.5 398.3,170.2 400.1,178.9 402.0,186.5 403.9,191.9 405.8,195.8 407.6,199.2 409.5,202.5 411.4,205.6 413.2,208.3 415.1,210.2 417.0,211.0 418.8,210.6 420.7,209.1 422.6,206.7 424.4,203.4 426.3,199.5 428.2,195.2 430.1,190.6 431.9,185.6 433.8,180.3 435.7,174.6 437.5,168.4 439.4,161.8 441.3,154.6 443.1,147.0 445.0,139.2 446.9,131.6 448.7,124.1 450.6,116.7 452.5,109.3 454.4,101.9 456.2,94.5 458.1,87.7 460.0,82.0 461.8,77.3 463.7,73.6 465.6,70.8 467.4,68.7 469.3,67.2 471.2,66.1 473.0,65.3 474.9,64.8 476.8,64.4 478.6,64.1 480.5,64.1 482.4,64.2 484.3,64.7 486.1,65.6 488.0,66.8 489.9,68.3 491.7,70.2 493.6,72.2 495.5,74.3 497.3,76.4 499.2,78.4 501.1,80.2 502.9,81.9 504.8,83.3 506.7,84.4 508.6,85.1 510.4,85.5 512.3,85.6 514.2,85.2 516.0,84.3 517.9,83.1 519.8,81.5 521.6,79.5 523.5,77.2 525.4,74.4 527.2,70.9 529.1,67.0 531.0,62.8"/>
<path d="M306.7,32.0 308.6,32.6 310.4,33.3 312.3,34.1 314.2,34.9 316.0,35.8 317.9,36.8 319.8,37.8 321.7,39.0 323.5,40.1 325.4,41.2 327.3,42.3 329.1,43.3 331.0,44.1 332.9,44.8 334.7,45.3 336.6,45.7 338.5,46.0 340.3,46.3 342.2,46.6 344.1,46.8 345.9,45.4 347.8,44.0 349.7,42.7 351.6,41.5 353.4,40.3 355.3,39.2 357.2,38.2 359.0,37.4 360.9,36.7 362.8,36.3 364.6,36.4 366.5,36.8 368.4,37.7 370.2,39.1 372.1,41.0 374.0,43.6 375.9,46.8 377.7,50.7 379.6,55.4 381.5,61.0 383.3,67.6 385.2,75.3 387.1,84.0 388.9,93.5 390.8,103.2 392.7,112.9 394.5,122.2 396.4,131.1 398.3,139.4 400.1,147.6 402.0,156.0 403.9,165.1 405.8,173.2 407.6,179.0 409.5,183.2 411.4,186.7 413.2,190.1 415.1,193.1 417.0,195.6 418.8,197.3 420.7,198.0 422.6,197.7 424.4,196.4 426.3,194.4 428.2,191.9 430.1,189.0 431.9,185.9 433.8,182.7 435.7,179.4 437.5,176.0 439.4,172.7 441.3,169.2 443.1,165.5 445.0,161.5 446.9,156.3 448.7,152.4 450.6,148.3 452.5,144.1 454.4,139.8 456.2,135.3 458.1,130.6 460.0,125.5 461.8,120.3 463.7,115.5 465.6,111.4 467.4,107.9 469.3,104.9 471.2,102.3 473.0,99.9 474.9,97.6 476.8,95.3 478.6,93.0 480.5,90.7 482.4,88.2 484.3,85.5 486.1,82.7 488.0,79.8 489.9,77.0 491.7,74.1 493.6,71.3 495.5,68.6 497.3,66.0 499.2,63.5 501.1,61.0 502.9,58.7 504.8,56.4 506.7,54.1 508.6,51.8 510.4,49.5 512.3,47.2 514.2,44.9 516.0,42.7 517.9,40.4 519.8,38.0 521.6,35.7 523.5,33.3 525.4,30.8 527.2,28.3 529.1,25.8 531.0,23.0"/>
<path d="M306.7,75.0 308.6,76.9 310.4,79.0 312.3,81.2 314.2,83.6 316.0,86.0 317.9,88.3 319.8,90.6 321.7,92.7 323.5,94.7 325.4,96.4 327.3,98.0 329.1,99.2 331.0,100.2 332.9,101.0 334.7,101.4 336.6,101.5 338.5,101.5 340.3,101.4 342.2,101.2 344.1,101.0 345.9,100.9 347.8,100.9 349.7,101.2 351.6,101.7 353.4,102.4 355.3,103.4 357.2,104.4 359.0,105.4 360.9,106.4 362.8,107.2 364.6,107.8 366.5,108.3 368.4,108.6 370.2,108.8 372.1,109.0 374.0,109.4 375.9,110.3 377.7,111.9 379.6,114.4 381.5,118.1 383.3,122.3 385.2,126.3 387.1,129.5 388.9,131.6 390.8,132.9 392.7,150.0 394.5,155.5 396.4,161.4 398.3,168.2 400.1,174.9 402.0,179.8 403.9,183.3 405.8,185.9 407.6,188.4 409.5,190.8 411.4,192.9 413.2,194.6 415.1,195.6 417.0,195.9 418.8,195.2 420.7,193.8 422.6,191.6 424.4,188.8 426.3,185.6 428.2,182.0 430.1,178.0 431.9,173.8 433.8,169.1 435.7,164.1 437.5,158.6 439.4,152.6 441.3,146.1 443.1,139.1 445.0,131.8 446.9,124.5 448.7,117.3 450.6,110.4 452.5,103.6 454.4,96.9 456.2,90.4 458.1,84.2 460.0,78.8 461.8,74.6 463.7,71.7 465.6,69.9 467.4,69.0 469.3,68.8 471.2,69.3 473.0,70.3 474.9,71.6 476.8,73.3 478.6,75.3 480.5,77.4 482.4,79.6 484.3,82.0 486.1,84.4 488.0,87.0 489.9,89.7 491.7,92.3 493.6,94.9 495.5,97.5 497.3,99.9 499.2,102.1 501.1,104.0 502.9,105.8 504.8,107.3 506.7,108.5 508.6,109.5 510.4,110.3 512.3,111.0 514.2,111.6 516.0,112.0 517.9,112.3 519.8,112.4 521.6,112.5 523.5,112.4 525.4,112.1 527.2,111.5 529.1,110.3 531.0,109.0"/>
<path d="M306.7,187.8 308.6,183.6 310.4,178.9 312.3,174.0 314.2,168.9 316.0,163.9 317.9,159.1 319.8,154.8 321.7,150.8 323.5,147.2 325.4,144.0 327.3,141.1 329.1,138.3 331.0,135.6 332.9,132.9 334.7,130.2 336.6,127.4 338.5,124.4 340.3,121.0 342.2,117.3 344.1,113.3 345.9,109.0 347.8,104.4 349.7,99.7 351.6,94.8 353.4,90.0 355.3,85.3 357.2,80.8 359.0,76.7 360.9,73.0 362.8,69.8 364.6,67.1 366.5,65.0 368.4,63.4 370.2,62.1 372.1,61.4 374.0,61.0 375.9,61.1 377.7,61.6 379.6,62.7 381.5,64.6 383.3,67.5 385.2,71.6 387.1,77.0 388.9,83.9 390.8,92.0 392.7,101.0 394.5,110.4 396.4,120.0 398.3,129.4 400.1,138.5 402.0,147.6 403.9,157.0 405.8,166.9 407.6,175.6 409.5,181.8 411.4,186.3 413.2,189.8 415.1,193.1 417.0,196.1 418.8,198.8 420.7,201.0 422.6,202.5 424.4,203.2 426.3,202.9 428.2,201.9 430.1,200.0 431.9,197.4 433.8,194.0 435.7,190.0 437.5,185.4 439.4,180.1 441.3,174.1 443.1,167.6 445.0,160.5 446.9,152.7 448.7,145.0 450.6,136.7 452.5,128.5 454.4,120.5 456.2,113.3 458.1,107.0 460.0,101.7 461.8,97.3 463.7,93.6 465.6,90.3 467.4,87.6 469.3,85.9 471.2,85.3 473.0,85.7 474.9,87.0 476.8,89.0 478.6,91.4 480.5,94.2 482.4,97.1 484.3,100.1 486.1,103.1 488.0,105.9 489.9,108.4 491.7,110.7 493.6,112.7 495.5,114.4 497.3,116.0 499.2,117.3 501.1,118.5 502.9,119.5 504.8,120.4 506.7,121.3 508.6,122.1 510.4,122.8 512.3,123.3 514.2,123.7 516.0,123.9 517.9,123.9 519.8,123.5 521.6,122.9 523.5,122.0 525.4,120.9 527.2,119.6 529.1,118.1 531.0,116.6"/>
<path d="M306.7,101.2 308.6,100.2 310.4,99.5 312.3,99.0 314.2,98.6 316.0,98.3 317.9,98.1 319.8,97.7 321.7,97.2 323.5,96.5 325.4,95.6 327.3,94.4 329.1,92.7 331.0,90.7 332.9,88.1 334.7,85.0 336.6,81.4 338.5,77.5 340.3,73.4 342.2,69.1 344.1,64.7 345.9,60.2 347.8,55.7 349.7,51.3 351.6,47.0 353.4,43.1 355.3,39.6 357.2,36.5 359.0,33.8 360.9,31.5 362.8,29.6 364.6,29.4 366.5,29.6 368.4,30.3 370.2,31.4 372.1,32.9 374.0,35.0 375.9,38.1 377.7,42.7 379.6,49.1 381.5,57.0 383.3,66.0 385.2,76.0 387.1,86.6 388.9,97.4 390.8,108.2 392.7,118.7 394.5,128.8 396.4,138.9 398.3,149.2 400.1,159.7 402.0,169.0 403.9,175.7 405.8,180.7 407.6,184.7 409.5,188.3 411.4,191.6 413.2,194.3 415.1,196.5 417.0,198.0 418.8,198.6 420.7,198.4 422.6,197.5 424.4,195.9 426.3,193.6 428.2,190.9 430.1,187.7 431.9,184.1 433.8,180.1 435.7,175.6 437.5,170.7 439.4,165.2 441.3,159.3 443.1,152.8 445.0,145.8 446.9,138.6 448.7,131.4 450.6,124.6 452.5,118.2 454.4,112.3 456.2,106.7 458.1,101.4 460.0,96.3 461.8,91.8 463.7,88.2 465.6,85.7 467.4,84.0 469.3,83.0 471.2,82.5 473.0,82.3 474.9,82.3 476.8,82.4 478.6,82.4 480.5,82.4 482.4,82.2 484.3,81.7 486.1,81.1 488.0,80.4 489.9,79.5 491.7,78.6 493.6,77.7 495.5,76.7 497.3,75.8 499.2,74.8 501.1,73.9 502.9,72.9 504.8,72.0 506.7,70.9 508.6,69.8 510.4,68.7 512.3,67.6 514.2,66.5 516.0,65.4 517.9,64.5 519.8,63.7 521.6,63.0 523.5,62.6 525.4,62.4 527.2,62.6 529.1,62.8 531.0,62.9"/>
<path d="M306.7,117.2 308.6,111.8 310.4,106.9 312.3,102.4 314.2,98.5 316.0,95.0 317.9,92.1 319.8,89.6 321.7,87.5 323.5,85.8 325.4,84.3 327.3,83.1 329.1,82.0 331.0,81.1 332.9,80.4 334.7,79.8 336.6,79.2 338.5,78.6 340.3,78.0 342.2,77.5 344.1,77.0 345.9,76.6 347.8,76.2 349.7,75.9 351.6,75.7 353.4,75.7 355.3,75.9 357.2,76.3 359.0,76.9 360.9,77.7 362.8,78.6 364.6,79.7 366.5,80.9 368.4,82.1 370.2,83.4 372.1,84.5 374.0,85.6 375.9,86.6 377.7,87.7 379.6,89.2 381.5,91.4 383.3,94.4 385.2,98.5 387.1,103.5 388.9,109.1 390.8,115.0 392.7,120.8 394.5,126.5 396.4,131.9 398.3,137.3 400.1,142.8 402.0,148.9 403.9,155.4 405.8,161.1 407.6,165.3 409.5,168.3 411.4,170.9 413.2,173.4 415.1,175.7 417.0,177.8 418.8,179.5 420.7,180.8 422.6,181.4 424.4,181.4 426.3,180.7 428.2,179.6 430.1,177.9 431.9,175.9 433.8,173.6 435.7,171.1 437.5,168.4 439.4,165.6 441.3,162.6 443.1,159.5 445.0,156.4 446.9,152.9 448.7,149.4 450.6,145.6 452.5,141.3 454.4,136.7 456.2,131.8 458.1,126.9 460.0,121.8 461.8,116.6 463.7,111.4 465.6,106.1 467.4,101.4 469.3,97.5 471.2,94.6 473.0,92.5 474.9,91.2 476.8,90.4 478.6,90.1 480.5,90.3 482.4,90.8 484.3,91.5 486.1,92.5 488.0,93.5 489.9,94.5 491.7,95.6 493.6,96.7 495.5,97.9 497.3,99.2 499.2,100.4 501.1,101.7 502.9,102.9 504.8,104.1 506.7,105.1 508.6,106.0 510.4,106.7 512.3,107.0 514.2,107.0 516.0,106.6 517.9,105.8 519.8,104.5 521.6,102.8 523.5,100.7 525.4,98.4 527.2,95.9 529.1,93.3 531.0,90.7"/>
<path d="M306.7,32.8 308.6,33.8 310.4,34.9 312.3,36.2 314.2,37.8 316.0,39.7 317.9,41.8 319.8,44.2 321.7,46.7 323.5,49.2 325.4,51.7 327.3,54.0 329.1,56.0 331.0,57.9 332.9,59.4 334.7,60.7 336.6,61.8 338.5,62.7 340.3,63.4 342.2,64.0 344.1,64.5 345.9,65.1 347.8,65.8 349.7,66.7 351.6,67.8 353.4,69.2 355.3,70.8 357.2,72.7 359.0,74.8 360.9,76.9 362.8,79.0 364.6,81.0 366.5,82.7 368.4,84.2 370.2,85.5 372.1,86.6 374.0,87.8 375.9,89.5 377.7,91.8 379.6,95.1 381.5,99.6 383.3,105.1 385.2,111.4 387.1,118.0 388.9,124.3 390.8,128.8 392.7,137.2 394.5,143.1 396.4,149.2 398.3,155.7 400.1,162.5 402.0,168.1 403.9,172.2 405.8,175.1 407.6,177.5 409.5,179.7 411.4,181.8 413.2,183.6 415.1,185.2 417.0,186.5 418.8,187.4 420.7,187.9 422.6,188.0 424.4,187.5 426.3,186.6 428.2,185.3 430.1,183.6 431.9,181.4 433.8,178.9 435.7,176.0 437.5,172.7 439.4,169.0 441.3,164.9 443.1,160.4 445.0,155.3 446.9,149.8 448.7,143.6 450.6,136.8 452.5,129.3 454.4,121.3 456.2,113.1 458.1,104.9 460.0,96.9 461.8,89.0 463.7,81.3 465.6,73.8 467.4,66.7 469.3,60.7 471.2,55.8 473.0,52.1 474.9,49.5 476.8,47.7 478.6,46.8 480.5,46.6 482.4,47.1 484.3,48.2 486.1,49.7 488.0,51.7 489.9,54.0 491.7,56.5 493.6,59.3 495.5,62.2 497.3,65.2 499.2,68.2 501.1,71.3 502.9,74.3 504.8,77.3 506.7,80.3 508.6,83.3 510.4,86.1 512.3,88.8 514.2,91.4 516.0,93.7 517.9,95.8 519.8,97.7 521.6,99.4 523.5,100.9 525.4,102.3 527.2,103.8 529.1,105.4 531.0,107.1"/>
<path d="M306.7,122.2 308.6,121.1 310.4,120.5 312.3,120.2 314.2,120.2 316.0,120.7 317.9,121.3 319.8,122.4 321.7,123.9 323.5,125.6 325.4,127.3 327.3,128.9 329.1,130.0 331.0,130.7 332.9,130.9 334.7,130.5 336.6,129.6 338.5,128.1 340.3,126.1 342.2,123.7 344.1,120.8 345.9,117.6 347.8,114.3 349.7,110.8 351.6,107.4 353.4,104.0 355.3,100.8 357.2,97.8 359.0,95.1 360.9,92.8 362.8,90.8 364.6,89.2 366.5,87.8 368.4,86.6 370.2,85.6 372.1,84.6 374.0,83.8 375.9,83.2 377.7,82.8 379.6,82.7 381.5,83.1 383.3,84.1 385.2,86.0 387.1,88.9 388.9,92.9 390.8,98.0 392.7,103.8 394.5,110.2 396.4,116.9 398.3,123.8 400.1,130.7 402.0,137.6 403.9,144.9 405.8,152.8 407.6,161.3 409.5,168.1 411.4,172.9 413.2,176.6 415.1,180.1 417.0,183.3 418.8,186.0 420.7,187.9 422.6,188.9 424.4,188.9 426.3,188.0 428.2,186.3 430.1,184.1 431.9,181.4 433.8,178.4 435.7,175.2 437.5,171.6 439.4,167.7 441.3,163.4 443.1,158.6 445.0,153.3 446.9,147.4 448.7,140.9 450.6,134.0 452.5,126.6 454.4,119.1 456.2,111.3 458.1,103.2 460.0,94.9 461.8,86.5 463.7,78.4 465.6,71.1 467.4,65.1 469.3,60.1 471.2,56.4 473.0,53.7 474.9,52.2 476.8,51.7 478.6,52.2 480.5,53.5 482.4,55.7 484.3,58.5 486.1,61.8 488.0,65.5 489.9,69.4 491.7,73.2 493.6,76.8 495.5,80.2 497.3,83.2 499.2,85.8 501.1,88.1 502.9,90.1 504.8,91.7 506.7,93.0 508.6,93.9 510.4,94.5 512.3,94.7 514.2,94.7 516.0,94.3 517.9,93.8 519.8,93.0 521.6,92.1 523.5,91.1 525.4,90.1 527.2,89.2 529.1,88.4 531.0,87.7"/>
<path d="M306.7,82.9 308.6,79.5 310.4,76.3 312.3,73.5 314.2,70.8 316.0,68.5 317.9,66.5 319.8,64.8 321.7,63.3 323.5,62.1 325.4,61.1 327.3,60.3 329.1,59.7 331.0,59.1 332.9,58.6 334.7,58.1 336.6,57.6 338.5,57.1 340.3,56.4 342.2,55.8 344.1,55.2 345.9,54.3 347.8,53.6 349.7,53.0 351.6,52.7 353.4,52.7 355.3,53.1 357.2,53.9 359.0,55.2 360.9,56.9 362.8,59.1 364.6,61.5 366.5,64.2 368.4,67.0 370.2,69.8 372.1,72.9 374.0,76.3 375.9,80.3 377.7,84.9 379.6,90.5 381.5,96.8 383.3,103.8 385.2,111.0 387.1,118.4 388.9,125.0 390.8,129.6 392.7,139.5 394.5,146.5 396.4,154.0 398.3,162.0 400.1,169.1 402.0,174.3 403.9,178.1 405.8,181.1 407.6,183.8 409.5,186.3 411.4,188.7 413.2,190.7 415.1,192.4 417.0,193.7 418.8,194.5 420.7,194.8 422.6,194.6 424.4,193.9 426.3,192.6 428.2,190.9 430.1,188.7 431.9,186.0 433.8,182.9 435.7,179.4 437.5,175.5 439.4,171.1 441.3,166.3 443.1,161.1 445.0,155.5 446.9,149.3 448.7,142.7 450.6,135.6 452.5,128.2 454.4,120.7 456.2,113.4 458.1,106.3 460.0,99.3 461.8,92.6 463.7,86.0 465.6,79.7 467.4,74.1 469.3,69.7 471.2,66.5 473.0,64.5 474.9,63.5 476.8,63.4 478.6,64.1 480.5,65.5 482.4,67.4 484.3,69.8 486.1,72.6 488.0,75.5 489.9,78.6 491.7,81.9 493.6,85.3 495.5,89.0 497.3,92.8 499.2,96.8 501.1,101.0 502.9,105.4 504.8,110.1 506.7,115.0 508.6,120.2 510.4,125.6 512.3,131.3 514.2,137.1 516.0,143.0 517.9,148.6 519.8,152.9 521.6,155.7 523.5,157.5 525.4,158.7 527.2,159.4 529.1,160.0 531.0,160.4"/>
<path d="M306.7,69.5 308.6,70.6 310.4,71.9 312.3,73.2 314.2,74.7 316.0,76.4 317.9,78.2 319.8,80.2 321.7,82.4 323.5,84.6 325.4,86.9 327.3,89.3 329.1,91.7 331.0,94.1 332.9,96.5 334.7,98.8 336.6,100.9 338.5,102.9 340.3,104.7 342.2,106.3 344.1,107.8 345.9,109.0 347.8,110.1 349.7,111.0 351.6,111.8 353.4,112.5 355.3,113.1 357.2,113.6 359.0,114.0 360.9,114.4 362.8,114.6 364.6,114.7 366.5,114.6 368.4,114.3 370.2,113.7 372.1,112.8 374.0,111.5 375.9,109.7 377.7,107.9 379.6,106.4 381.5,105.9 383.3,106.9 385.2,109.4 387.1,113.3 388.9,118.1 390.8,123.1 392.7,128.7 394.5,134.0 396.4,139.3 398.3,144.6 400.1,150.4 402.0,156.8 403.9,163.6 405.8,169.1 407.6,173.1 409.5,176.0 411.4,178.6 413.2,181.1 415.1,183.4 417.0,185.5 418.8,187.2 420.7,188.4 422.6,189.0 424.4,189.0 426.3,188.5 428.2,187.4 430.1,186.0 431.9,184.2 433.8,182.1 435.7,179.9 437.5,177.6 439.4,175.2 441.3,172.7 443.1,170.1 445.0,167.4 446.9,160.4 448.7,157.9 450.6,155.3 452.5,152.5 454.4,149.7 456.2,146.8 458.1,144.4 460.0,141.9 461.8,139.3 463.7,136.5 465.6,133.7 467.4,131.3 469.3,129.6 471.2,128.6 473.0,128.0 474.9,127.6 476.8,127.3 478.6,126.9 480.5,126.4 482.4,125.6 484.3,124.4 486.1,123.1 488.0,121.4 489.9,119.6 491.7,117.7 493.6,115.9 495.5,114.2 497.3,112.8 499.2,111.6 501.1,110.8 502.9,110.3 504.8,110.2 506.7,110.5 508.6,111.1 510.4,112.1 512.3,113.2 514.2,114.5 516.0,115.8 517.9,117.1 519.8,118.3 521.6,119.5 523.5,120.5 525.4,121.5 527.2,122.3 529.1,123.0 531.0,123.5"/>
<path d="M306.7,68.9 308.6,68.5 310.4,67.9 312.3,67.3 314.2,66.7 316.0,66.3 317.9,66.0 319.8,66.0 321.7,66.5 323.5,67.3 325.4,68.4 327.3,69.7 329.1,71.2 331.0,73.0 332.9,74.8 334.7,76.8 336.6,78.8 338.5,80.9 340.3,82.8 342.2,84.6 344.1,86.1 345.9,87.4 347.8,88.3 349.7,89.2 351.6,90.0 353.4,90.9 355.3,91.9 357.2,93.2 359.0,94.8 360.9,96.7 362.8,99.0 364.6,101.4 366.5,103.9 368.4,106.4 370.2,108.6 372.1,110.6 374.0,112.2 375.9,113.4 377.7,114.2 379.6,114.8 381.5,115.3 383.3,116.0 385.2,117.2 387.1,119.0 388.9,121.3 390.8,124.0 392.7,127.4 394.5,130.5 396.4,133.7 398.3,136.9 400.1,140.2 402.0,143.6 403.9,147.6 405.8,152.4 407.6,157.7 409.5,161.6 411.4,164.3 413.2,166.4 415.1,168.4 417.0,170.3 418.8,171.9 420.7,172.9 422.6,173.1 424.4,172.5 426.3,171.2 428.2,169.4 430.1,167.0 431.9,164.4 433.8,161.4 435.7,158.2 437.5,154.9 439.4,151.4 441.3,147.7 443.1,143.9 445.0,140.0 446.9,135.8 448.7,131.4 450.6,126.8 452.5,121.9 454.4,116.8 456.2,111.4 458.1,105.9 460.0,100.2 461.8,94.6 463.7,89.5 465.6,85.6 467.4,82.7 469.3,81.0 471.2,80.1 473.0,80.2 474.9,81.0 476.8,82.4 478.6,84.5 480.5,87.1 482.4,90.2 484.3,93.5 486.1,97.1 488.0,100.9 489.9,104.9 491.7,109.0 493.6,113.3 495.5,117.7 497.3,122.2 499.2,126.6 501.1,130.9 502.9,135.1 504.8,139.1 506.7,142.9 508.6,146.2 510.4,148.9 512.3,151.1 514.2,152.8 516.0,154.1 517.9,155.1 519.8,156.0 521.6,156.7 523.5,157.4 525.4,158.0 527.2,158.6 529.1,159.2 531.0,159.7"/>
<path d="M306.7,56.1 308.6,53.6 310.4,51.4 312.3,49.5 314.2,48.1 316.0,47.1 317.9,46.5 319.8,46.1 321.7,46.1 323.5,46.3 325.4,46.6 327.3,47.2 329.1,47.9 331.0,48.6 332.9,49.4 334.7,50.1 336.6,50.8 338.5,51.2 340.3,51.4 342.2,51.3 344.1,51.0 345.9,49.8 347.8,48.4 349.7,46.9 351.6,45.3 353.4,43.6 355.3,41.9 357.2,40.3 359.0,39.0 360.9,37.9 362.8,37.1 364.6,36.9 366.5,37.1 368.4,37.8 370.2,39.1 372.1,40.8 374.0,43.2 375.9,46.4 377.7,50.4 379.6,55.6 381.5,61.9 383.3,69.5 385.2,78.3 387.1,88.1 388.9,98.3 390.8,108.5 392.7,118.5 394.5,128.0 396.4,136.9 398.3,145.5 400.1,154.3 402.0,163.5 403.9,171.8 405.8,178.0 407.6,182.4 409.5,185.9 411.4,189.1 413.2,192.1 415.1,194.7 417.0,196.7 418.8,198.0 420.7,198.5 422.6,198.1 424.4,196.8 426.3,194.9 428.2,192.3 430.1,189.3 431.9,185.7 433.8,181.8 435.7,177.4 437.5,172.4 439.4,166.7 441.3,160.3 443.1,153.1 445.0,145.1 446.9,136.3 448.7,126.8 450.6,116.9 452.5,107.0 454.4,97.2 456.2,87.7 458.1,78.5 460.0,69.7 461.8,61.2 463.7,53.6 465.6,47.4 467.4,43.1 469.3,40.0 471.2,37.7 473.0,36.2 474.9,35.4 476.8,35.8 478.6,36.6 480.5,37.9 482.4,39.4 484.3,41.2 486.1,43.3 488.0,45.6 489.9,48.2 491.7,50.9 493.6,53.8 495.5,56.8 497.3,59.9 499.2,62.9 501.1,65.8 502.9,68.6 504.8,71.1 506.7,73.5 508.6,75.5 510.4,77.3 512.3,78.6 514.2,79.7 516.0,80.4 517.9,80.9 519.8,81.0 521.6,80.9 523.5,80.5 525.4,79.8 527.2,79.0 529.1,78.0 531.0,76.8"/>
<path d="M306.7,102.2 308.6,98.7 310.4,95.6 312.3,93.0 314.2,90.7 316.0,88.9 317.9,87.4 319.8,86.2 321.7,85.3 323.5,84.5 325.4,83.9 327.3,83.6 329.1,83.3 331.0,83.2 332.9,83.0 334.7,82.8 336.6,82.6 338.5,82.2 340.3,81.7 342.2,81.2 344.1,80.5 345.9,79.7 347.8,79.0 349.7,78.4 351.6,77.9 353.4,77.9 355.3,78.2 357.2,79.1 359.0,80.4 360.9,82.2 362.8,84.5 364.6,87.0 366.5,89.6 368.4,92.4 370.2,95.1 372.1,97.6 374.0,99.9 375.9,102.0 377.7,103.8 379.6,105.3 381.5,106.7 383.3,108.0 385.2,109.2 387.1,110.5 388.9,112.0 390.8,113.7 392.7,115.8 394.5,118.3 396.4,121.2 398.3,124.7 400.1,128.5 402.0,132.6 403.9,137.0 405.8,141.4 407.6,146.3 409.5,152.1 411.4,158.8 413.2,163.9 415.1,167.2 417.0,169.7 418.8,172.1 420.7,174.3 422.6,176.0 424.4,177.1 426.3,177.3 428.2,176.6 430.1,175.2 431.9,173.1 433.8,170.5 435.7,167.4 437.5,163.9 439.4,159.9 441.3,155.5 443.1,150.6 445.0,145.3 446.9,139.6 448.7,133.3 450.6,126.4 452.5,118.9 454.4,110.8 456.2,102.5 458.1,94.3 460.0,86.2 461.8,78.4 463.7,70.7 465.6,63.3 467.4,56.3 469.3,50.3 471.2,45.5 473.0,41.8 474.9,38.9 476.8,37.2 478.6,36.3 480.5,36.0 482.4,36.1 484.3,36.6 486.1,37.2 488.0,38.0 489.9,39.0 491.7,40.0 493.6,41.1 495.5,42.0 497.3,43.1 499.2,44.4 501.1,45.9 502.9,47.4 504.8,48.9 506.7,50.2 508.6,51.3 510.4,52.1 512.3,52.5 514.2,52.6 516.0,52.2 517.9,51.4 519.8,50.3 521.6,48.8 523.5,47.1 525.4,45.2 527.2,43.1 529.1,41.0 531.0,38.8"/>
<path d="M306.7,78.4 308.6,80.3 310.4,82.3 312.3,84.4 314.2,86.5 316.0,88.7 317.9,90.9 319.8,93.0 321.7,95.0 323.5,96.9 325.4,98.6 327.3,100.0 329.1,101.4 331.0,102.5 332.9,103.4 334.7,104.2 336.6,104.7 338.5,105.0 340.3,104.9 342.2,104.4 344.1,103.5 345.9,102.1 347.8,100.4 349.7,98.4 351.6,96.0 353.4,93.4 355.3,90.5 357.2,87.7 359.0,84.9 360.9,82.2 362.8,79.8 364.6,77.8 366.5,76.1 368.4,74.8 370.2,73.9 372.1,73.4 374.0,73.2 375.9,73.3 377.7,73.9 379.6,74.9 381.5,76.6 383.3,79.2 385.2,82.9 387.1,87.8 388.9,93.9 390.8,101.0 392.7,108.8 394.5,117.0 396.4,125.4 398.3,133.7 400.1,142.1 402.0,150.8 403.9,160.3 405.8,170.0 407.6,177.9 409.5,183.6 411.4,187.9 413.2,191.8 415.1,195.3 417.0,198.3 418.8,200.6 420.7,202.0 422.6,202.5 424.4,201.9 426.3,200.3 428.2,198.1 430.1,195.2 431.9,191.8 433.8,188.1 435.7,184.1 437.5,179.8 439.4,175.2 441.3,170.2 443.1,164.9 445.0,159.2 446.9,152.9 448.7,146.6 450.6,140.0 452.5,133.4 454.4,127.2 456.2,121.5 458.1,116.2 460.0,111.4 461.8,106.9 463.7,102.6 465.6,98.8 467.4,95.9 469.3,94.0 471.2,92.9 473.0,92.4 474.9,92.2 476.8,92.4 478.6,92.7 480.5,93.1 482.4,93.5 484.3,93.9 486.1,94.1 488.0,94.1 489.9,93.9 491.7,93.6 493.6,93.2 495.5,92.6 497.3,92.0 499.2,91.3 501.1,90.6 502.9,89.7 504.8,88.7 506.7,87.5 508.6,86.2 510.4,84.6 512.3,82.9 514.2,81.0 516.0,78.9 517.9,76.8 519.8,74.7 521.6,72.8 523.5,71.0 525.4,69.6 527.2,68.4 529.1,67.4 531.0,66.8"/>
<path d="M306.7,109.4 308.6,107.4 310.4,105.7 312.3,104.4 314.2,103.5 316.0,102.9 317.9,102.7 319.8,102.8 321.7,103.3 323.5,104.1 325.4,105.0 327.3,106.0 329.1,106.9 331.0,107.6 332.9,108.2 334.7,108.4 336.6,108.2 338.5,107.7 340.3,106.8 342.2,105.5 344.1,103.8 345.9,101.9 347.8,99.9 349.7,97.8 351.6,95.8 353.4,93.9 355.3,92.3 357.2,91.0 359.0,90.0 360.9,89.3 362.8,89.0 364.6,88.9 366.5,88.8 368.4,88.7 370.2,88.5 372.1,88.2 374.0,87.9 375.9,87.5 377.7,87.2 379.6,87.1 381.5,87.4 383.3,88.4 385.2,90.2 387.1,93.2 388.9,97.5 390.8,103.0 392.7,109.4 394.5,116.6 396.4,124.1 398.3,131.7 400.1,139.2 402.0,146.7 403.9,154.6 405.8,163.3 407.6,171.9 409.5,178.2 411.4,182.4 413.2,185.6 415.1,188.4 417.0,191.0 418.8,193.1 420.7,194.6 422.6,195.4 424.4,195.2 426.3,194.2 428.2,192.4 430.1,189.8 431.9,186.7 433.8,182.9 435.7,178.7 437.5,174.0 439.4,168.7 441.3,162.9 443.1,156.5 445.0,149.5 446.9,142.0 448.7,133.9 450.6,125.2 452.5,116.3 454.4,107.4 456.2,98.7 458.1,90.2 460.0,82.0 461.8,74.0 463.7,66.0 465.6,58.5 467.4,52.0 469.3,46.8 471.2,43.0 473.0,40.4 474.9,38.8 476.8,38.4 478.6,38.8 480.5,39.9 482.4,41.7 484.3,44.0 486.1,46.8 488.0,50.1 489.9,53.6 491.7,57.5 493.6,61.7 495.5,66.1 497.3,70.8 499.2,75.8 501.1,80.8 502.9,85.8 504.8,90.6 506.7,95.1 508.6,99.1 510.4,102.7 512.3,105.7 514.2,108.2 516.0,110.3 517.9,111.9 519.8,113.2 521.6,114.2 523.5,115.0 525.4,115.8 527.2,116.4 529.1,117.1 531.0,117.9"/>
<path d="M306.7,122.7 308.6,119.1 310.4,116.3 312.3,114.4 314.2,113.1 316.0,112.5 317.9,112.5 319.8,113.3 321.7,114.5 323.5,116.2 325.4,118.1 327.3,120.1 329.1,122.0 331.0,123.7 332.9,125.1 334.7,126.2 336.6,127.0 338.5,127.4 340.3,127.5 342.2,127.3 344.1,126.8 345.9,126.2 347.8,125.4 349.7,124.5 351.6,123.5 353.4,122.4 355.3,121.2 357.2,119.9 359.0,118.5 360.9,117.0 362.8,115.3 364.6,113.4 366.5,111.3 368.4,109.0 370.2,106.8 372.1,104.7 374.0,102.8 375.9,101.3 377.7,100.2 379.6,99.6 381.5,99.7 383.3,100.7 385.2,102.8 387.1,106.3 388.9,111.0 390.8,116.8 392.7,123.4 394.5,130.5 396.4,137.7 398.3,144.9 400.1,152.1 402.0,159.9 403.9,168.4 405.8,177.2 407.6,184.1 409.5,188.7 411.4,192.2 413.2,195.2 415.1,198.0 417.0,200.5 418.8,202.4 420.7,203.6 422.6,203.9 424.4,203.3 426.3,201.8 428.2,199.6 430.1,196.8 431.9,193.4 433.8,189.6 435.7,185.5 437.5,180.9 439.4,175.9 441.3,170.4 443.1,164.4 445.0,157.9 446.9,150.8 448.7,143.3 450.6,135.5 452.5,127.8 454.4,120.4 456.2,113.5 458.1,107.0 460.0,100.9 461.8,95.1 463.7,89.5 465.6,84.6 467.4,80.8 469.3,78.5 471.2,77.4 473.0,77.4 474.9,78.5 476.8,80.3 478.6,82.6 480.5,85.2 482.4,87.8 484.3,90.3 486.1,92.6 488.0,94.7 489.9,96.5 491.7,98.2 493.6,99.7 495.5,101.2 497.3,102.5 499.2,103.9 501.1,105.2 502.9,106.5 504.8,107.7 506.7,108.9 508.6,110.1 510.4,111.3 512.3,112.5 514.2,113.7 516.0,114.8 517.9,116.1 519.8,117.4 521.6,118.9 523.5,120.5 525.4,122.4 527.2,124.6 529.1,127.3 531.0,130.4"/>
<path d="M306.7,137.6 308.6,133.2 310.4,129.2 312.3,125.8 314.2,122.7 316.0,119.9 317.9,117.1 319.8,114.3 321.7,111.4 323.5,108.4 325.4,105.2 327.3,101.9 329.1,98.4 331.0,94.7 332.9,90.9 334.7,87.0 336.6,83.1 338.5,79.3 340.3,75.6 342.2,72.0 344.1,68.7 345.9,65.5 347.8,62.6 349.7,60.1 351.6,57.8 353.4,55.9 355.3,54.5 357.2,53.4 359.0,52.8 360.9,52.6 362.8,52.8 364.6,53.5 366.5,54.5 368.4,56.1 370.2,58.0 372.1,60.4 374.0,63.3 375.9,66.9 377.7,71.3 379.6,76.7 381.5,83.3 383.3,91.0 385.2,99.5 387.1,108.5 388.9,117.7 390.8,125.9 392.7,135.2 394.5,143.2 396.4,151.2 398.3,159.2 400.1,167.7 402.0,175.5 403.9,181.3 405.8,185.3 407.6,188.4 409.5,191.2 411.4,193.7 413.2,196.0 415.1,198.0 417.0,199.5 418.8,200.4 420.7,200.7 422.6,200.3 424.4,199.3 426.3,197.8 428.2,195.9 430.1,193.5 431.9,190.9 433.8,188.1 435.7,185.2 437.5,182.1 439.4,178.8 441.3,175.3 443.1,171.5 445.0,167.2 446.9,159.4 448.7,155.6 450.6,150.8 452.5,145.3 454.4,139.2 456.2,132.9 458.1,126.6 460.0,120.3 461.8,113.8 463.7,107.3 465.6,101.4 467.4,96.5 469.3,93.0 471.2,90.6 473.0,89.3 474.9,89.0 476.8,89.6 478.6,90.9 480.5,92.7 482.4,94.9 484.3,97.3 486.1,99.9 488.0,102.6 489.9,105.4 491.7,108.2 493.6,111.1 495.5,114.1 497.3,117.2 499.2,120.2 501.1,123.2 502.9,126.1 504.8,128.9 506.7,131.5 508.6,133.7 510.4,135.7 512.3,137.3 514.2,138.5 516.0,139.3 517.9,139.6 519.8,139.3 521.6,138.5 523.5,137.1 525.4,135.2 527.2,132.9 529.1,130.5 531.0,128.2"/>
<path d="M306.7,76.5 308.6,73.6 310.4,71.2 312.3,69.4 314.2,67.9 316.0,66.8 317.9,66.2 319.8,66.1 321.7,66.3 323.5,66.8 325.4,67.6 327.3,68.6 329.1,69.7 331.0,70.9 332.9,72.1 334.7,73.2 336.6,74.3 338.5,75.2 340.3,75.8 342.2,76.3 344.1,76.5 345.9,76.4 347.8,76.1 349.7,75.6 351.6,74.8 353.4,73.8 355.3,72.5 357.2,71.1 359.0,69.5 360.9,67.9 362.8,66.2 364.6,64.6 366.5,63.1 368.4,61.8 370.2,60.8 372.1,60.2 374.0,59.9 375.9,60.2 377.7,61.0 379.6,62.5 381.5,64.9 383.3,68.4 385.2,73.2 387.1,79.2 388.9,86.3 390.8,94.0 392.7,102.0 394.5,110.0 396.4,117.8 398.3,125.3 400.1,132.6 402.0,140.1 403.9,147.9 405.8,155.8 407.6,161.8 409.5,165.9 411.4,169.0 413.2,171.7 415.1,174.2 417.0,176.3 418.8,177.9 420.7,178.9 422.6,179.1 424.4,178.6 426.3,177.3 428.2,175.6 430.1,173.3 431.9,170.7 433.8,167.7 435.7,164.4 437.5,160.7 439.4,156.5 441.3,151.9 443.1,147.0 445.0,141.7 446.9,136.1 448.7,130.2 450.6,124.1 452.5,118.1 454.4,112.2 456.2,106.5 458.1,100.9 460.0,95.5 461.8,90.3 463.7,85.5 465.6,81.7 467.4,78.7 469.3,76.6 471.2,75.0 473.0,73.7 474.9,72.3 476.8,70.8 478.6,69.1 480.5,67.3 482.4,65.5 484.3,63.9 486.1,62.6 488.0,61.7 489.9,61.1 491.7,60.8 493.6,60.9 495.5,61.4 497.3,62.1 499.2,63.2 501.1,64.6 502.9,66.3 504.8,68.2 506.7,70.3 508.6,72.5 510.4,74.7 512.3,76.8 514.2,78.9 516.0,81.0 517.9,83.0 519.8,85.0 521.6,87.0 523.5,89.0 525.4,91.1 527.2,93.2 529.1,95.5 531.0,97.8"/>
<path d="M306.7,171.2 308.6,166.1 310.4,161.3 312.3,156.7 314.2,152.4 316.0,148.2 317.9,144.1 319.8,140.1 321.7,136.2 323.5,132.3 325.4,128.6 327.3,124.9 329.1,121.5 331.0,118.2 332.9,115.0 334.7,111.9 336.6,108.9 338.5,106.1 340.3,103.3 342.2,100.7 344.1,98.2 345.9,95.8 347.8,93.5 349.7,91.3 351.6,89.3 353.4,87.4 355.3,85.7 357.2,84.2 359.0,82.9 360.9,81.8 362.8,81.0 364.6,80.5 366.5,80.3 368.4,80.4 370.2,80.9 372.1,81.6 374.0,82.8 375.9,84.5 377.7,87.0 379.6,90.5 381.5,95.1 383.3,100.7 385.2,107.2 387.1,114.2 388.9,121.4 390.8,127.2 392.7,135.4 394.5,142.0 396.4,148.7 398.3,155.9 400.1,163.6 402.0,170.4 403.9,175.2 405.8,178.5 407.6,181.1 409.5,183.5 411.4,185.6 413.2,187.4 415.1,188.7 417.0,189.3 418.8,189.2 420.7,188.4 422.6,186.9 424.4,185.0 426.3,182.6 428.2,179.9 430.1,176.9 431.9,173.5 433.8,169.8 435.7,165.6 437.5,160.9 439.4,155.6 441.3,149.8 443.1,143.4 445.0,136.7 446.9,129.7 448.7,122.9 450.6,116.2 452.5,109.8 454.4,103.6 456.2,97.5 458.1,91.6 460.0,86.1 461.8,81.4 463.7,77.9 465.6,75.4 467.4,73.7 469.3,72.6 471.2,72.0 473.0,71.6 474.9,71.4 476.8,71.1 478.6,70.8 480.5,70.5 482.4,70.0 484.3,69.4 486.1,68.8 488.0,68.3 489.9,67.9 491.7,67.7 493.6,67.7 495.5,68.0 497.3,68.6 499.2,69.4 501.1,70.4 502.9,71.6 504.8,72.9 506.7,74.2 508.6,75.7 510.4,77.1 512.3,78.7 514.2,80.3 516.0,82.0 517.9,83.8 519.8,85.7 521.6,87.8 523.5,90.1 525.4,92.6 527.2,95.3 529.1,97.7 531.0,100.2"/>
<path d="M306.7,94.2 308.6,92.4 310.4,91.2 312.3,90.5 314.2,90.0 316.0,89.8 317.9,90.0 319.8,90.4 321.7,91.1 323.5,91.9 325.4,92.8 327.3,93.7 329.1,94.7 331.0,95.6 332.9,96.4 334.7,97.0 336.6,97.3 338.5,97.3 340.3,96.9 342.2,96.1 344.1,94.8 345.9,93.1 347.8,91.1 349.7,88.8 351.6,86.2 353.4,83.4 355.3,80.6 357.2,77.7 359.0,74.9 360.9,72.1 362.8,69.5 364.6,67.0 366.5,64.7 368.4,62.6 370.2,60.9 372.1,59.5 374.0,58.4 375.9,57.9 377.7,58.0 379.6,58.9 381.5,60.8 383.3,64.0 385.2,68.6 387.1,74.8 388.9,82.3 390.8,90.9 392.7,100.2 394.5,109.8 396.4,119.3 398.3,128.6 400.1,137.8 402.0,147.1 403.9,156.9 405.8,166.5 407.6,174.0 409.5,179.3 411.4,183.3 413.2,186.8 415.1,190.1 417.0,193.0 418.8,195.4 420.7,197.3 422.6,198.5 424.4,198.7 426.3,198.2 428.2,196.9 430.1,194.9 431.9,192.3 433.8,189.1 435.7,185.5 437.5,181.3 439.4,176.7 441.3,171.6 443.1,166.1 445.0,160.1 446.9,153.6 448.7,147.2 450.6,140.2 452.5,133.1 454.4,126.2 456.2,119.8 458.1,114.0 460.0,108.6 461.8,103.5 463.7,98.6 465.6,93.7 467.4,89.3 469.3,85.7 471.2,83.0 473.0,81.1 474.9,79.8 476.8,79.2 478.6,79.1 480.5,79.6 482.4,80.4 484.3,81.6 486.1,83.1 488.0,84.7 489.9,86.3 491.7,88.0 493.6,89.8 495.5,91.5 497.3,93.4 499.2,95.3 501.1,97.2 502.9,99.1 504.8,101.0 506.7,102.8 508.6,104.5 510.4,106.1 512.3,107.5 514.2,108.8 516.0,110.0 517.9,111.1 519.8,112.2 521.6,113.3 523.5,114.4 525.4,115.6 527.2,116.9 529.1,118.4 531.0,120.0"/>
<path d="M306.7,87.1 308.6,84.4 310.4,81.9 312.3,79.5 314.2,77.4 316.0,75.3 317.9,73.4 319.8,71.7 321.7,70.3 323.5,69.0 325.4,68.1 327.3,67.3 329.1,66.7 331.0,66.2 332.9,65.6 334.7,65.0 336.6,64.3 338.5,63.5 340.3,62.7 342.2,61.9 344.1,61.1 345.9,60.4 347.8,59.8 349.7,59.5 351.6,59.4 353.4,59.6 355.3,60.1 357.2,60.8 359.0,61.7 360.9,62.8 362.8,64.0 364.6,65.3 366.5,66.7 368.4,68.2 370.2,69.9 372.1,71.7 374.0,74.1 375.9,77.2 377.7,81.2 379.6,86.3 381.5,92.7 383.3,99.9 385.2,107.6 387.1,115.4 388.9,122.7 390.8,128.0 392.7,136.2 394.5,142.4 396.4,148.8 398.3,155.7 400.1,162.1 402.0,166.8 403.9,170.1 405.8,172.6 407.6,174.9 409.5,177.1 411.4,179.1 413.2,180.9 415.1,182.1 417.0,182.9 418.8,183.0 420.7,182.6 422.6,181.6 424.4,180.2 426.3,178.4 428.2,176.2 430.1,173.8 431.9,171.2 433.8,168.5 435.7,165.6 437.5,162.5 439.4,159.3 441.3,156.1 443.1,152.7 445.0,149.2 446.9,145.7 448.7,142.4 450.6,139.3 452.5,136.4 454.4,133.5 456.2,130.5 458.1,127.5 460.0,124.6 461.8,122.4 463.7,121.2 465.6,120.9 467.4,121.4 469.3,122.5 471.2,123.9 473.0,125.6 474.9,127.3 476.8,128.9 478.6,130.3 480.5,131.4 482.4,132.3 484.3,132.8 486.1,133.1 488.0,133.2 489.9,133.2 491.7,133.1 493.6,132.9 495.5,132.7 497.3,132.4 499.2,132.1 501.1,131.7 502.9,131.3 504.8,130.9 506.7,130.5 508.6,130.2 510.4,129.8 512.3,129.4 514.2,128.9 516.0,128.3 517.9,127.6 519.8,126.7 521.6,125.6 523.5,124.3 525.4,122.8 527.2,121.2 529.1,119.1 531.0,116.8"/>
<path d="M306.7,58.2 308.6,57.7 310.4,57.4 312.3,57.1 314.2,57.0 316.0,57.0 317.9,57.2 319.8,57.4 321.7,57.8 323.5,58.2 325.4,58.6 327.3,59.0 329.1,59.2 331.0,59.3 332.9,59.3 334.7,59.0 336.6,58.6 338.5,58.0 340.3,57.4 342.2,56.7 344.1,56.1 345.9,55.4 347.8,54.9 349.7,54.7 351.6,54.7 353.4,54.9 355.3,55.5 357.2,56.3 359.0,57.3 360.9,58.4 362.8,59.6 364.6,60.9 366.5,62.2 368.4,63.5 370.2,64.8 372.1,66.3 374.0,68.1 375.9,70.6 377.7,73.9 379.6,78.4 381.5,84.2 383.3,91.0 385.2,98.6 387.1,106.6 388.9,114.6 390.8,122.3 392.7,129.8 394.5,137.0 396.4,144.3 398.3,152.0 400.1,159.6 402.0,165.7 403.9,170.1 405.8,173.3 407.6,175.8 409.5,178.1 411.4,180.2 413.2,182.1 415.1,183.8 417.0,185.2 418.8,186.3 420.7,187.3 422.6,187.8 424.4,188.0 426.3,187.7 428.2,187.1 430.1,186.0 431.9,184.4 433.8,182.5 435.7,180.1 437.5,177.4 439.4,174.3 441.3,170.8 443.1,166.8 445.0,162.5 446.9,156.5 448.7,151.8 450.6,146.0 452.5,139.2 454.4,131.6 456.2,123.7 458.1,115.5 460.0,107.5 461.8,99.5 463.7,91.7 465.6,83.9 467.4,76.2 469.3,69.2 471.2,63.2 473.0,58.4 474.9,54.8 476.8,52.2 478.6,50.5 480.5,49.6 482.4,49.4 484.3,49.8 486.1,50.6 488.0,51.7 489.9,53.1 491.7,54.6 493.6,56.2 495.5,58.0 497.3,59.9 499.2,62.0 501.1,64.2 502.9,66.6 504.8,69.1 506.7,71.8 508.6,74.6 510.4,77.4 512.3,80.3 514.2,83.1 516.0,85.8 517.9,88.3 519.8,90.7 521.6,92.9 523.5,94.8 525.4,96.7 527.2,98.4 529.1,99.9 531.0,101.3"/>
<path d="M306.7,87.4 308.6,89.3 310.4,90.9 312.3,92.1 314.2,93.0 316.0,93.5 317.9,93.6 319.8,93.3 321.7,92.6 323.5,91.6 325.4,90.2 327.3,88.4 329.1,86.3 331.0,83.9 332.9,81.3 334.7,78.4 336.6,75.4 338.5,72.3 340.3,69.1 342.2,65.9 344.1,62.7 345.9,59.6 347.8,56.6 349.7,53.8 351.6,51.3 353.4,49.3 355.3,47.8 357.2,46.8 359.0,46.4 360.9,46.5 362.8,47.1 364.6,48.2 366.5,49.7 368.4,51.5 370.2,53.8 372.1,56.5 374.0,59.9 375.9,64.2 377.7,69.4 379.6,75.9 381.5,83.5 383.3,91.8 385.2,100.7 387.1,109.7 388.9,118.5 390.8,126.1 392.7,134.9 394.5,142.8 396.4,150.9 398.3,159.4 400.1,167.0 402.0,172.5 403.9,176.5 405.8,179.5 407.6,182.2 409.5,184.7 411.4,186.9 413.2,188.8 415.1,190.4 417.0,191.6 418.8,192.4 420.7,192.7 422.6,192.5 424.4,192.0 426.3,191.0 428.2,189.6 430.1,187.9 431.9,185.9 433.8,183.7 435.7,181.2 437.5,178.6 439.4,175.8 441.3,172.8 443.1,169.5 445.0,166.0 446.9,159.3 448.7,156.0 450.6,152.2 452.5,148.0 454.4,143.5 456.2,139.0 458.1,134.5 460.0,130.1 461.8,125.9 463.7,121.7 465.6,118.1 467.4,115.3 469.3,113.4 471.2,112.3 473.0,111.8 474.9,111.6 476.8,111.7 478.6,111.9 480.5,112.1 482.4,112.3 484.3,112.4 486.1,112.5 488.0,112.5 489.9,112.6 491.7,112.9 493.6,113.4 495.5,114.2 497.3,115.2 499.2,116.5 501.1,118.1 502.9,120.0 504.8,122.1 506.7,124.5 508.6,127.1 510.4,129.9 512.3,132.8 514.2,135.9 516.0,139.1 517.9,142.4 519.8,145.7 521.6,148.8 523.5,151.6 525.4,153.8 527.2,155.6 529.1,157.1 531.0,158.2"/>
<path d="M306.7,108.9 308.6,103.3 310.4,98.1 312.3,93.4 314.2,89.3 316.0,85.6 317.9,82.5 319.8,79.8 321.7,77.5 323.5,75.6 325.4,74.1 327.3,72.8 329.1,71.8 331.0,71.0 332.9,70.2 334.7,69.5 336.6,68.7 338.5,67.8 340.3,66.9 342.2,65.9 344.1,64.8 345.9,63.7 347.8,62.5 349.7,61.3 351.6,60.3 353.4,59.4 355.3,58.8 357.2,58.5 359.0,58.5 360.9,58.8 362.8,59.5 364.6,60.5 366.5,61.8 368.4,63.3 370.2,65.1 372.1,67.1 374.0,69.3 375.9,72.1 377.7,75.4 379.6,79.6 381.5,84.7 383.3,90.9 385.2,98.0 387.1,105.5 388.9,113.2 390.8,120.8 392.7,128.2 394.5,135.2 396.4,142.2 398.3,149.4 400.1,157.0 402.0,164.4 403.9,170.2 405.8,174.3 407.6,177.3 409.5,179.7 411.4,182.0 413.2,184.1 415.1,185.9 417.0,187.5 418.8,188.8 420.7,189.8 422.6,190.4 424.4,190.6 426.3,190.5 428.2,189.9 430.1,188.9 431.9,187.6 433.8,185.9 435.7,183.8 437.5,181.5 439.4,178.9 441.3,176.1 443.1,173.0 445.0,169.7 446.9,160.9 448.7,158.1 450.6,155.0 452.5,151.4 454.4,147.1 456.2,142.4 458.1,137.4 460.0,132.4 461.8,127.8 463.7,123.3 465.6,119.0 467.4,114.9 469.3,111.4 471.2,108.8 473.0,107.3 474.9,106.6 476.8,106.6 478.6,107.2 480.5,108.0 482.4,109.1 484.3,110.2 486.1,111.2 488.0,112.2 489.9,112.9 491.7,113.4 493.6,113.6 495.5,113.5 497.3,113.2 499.2,112.8 501.1,112.3 502.9,111.8 504.8,111.5 506.7,111.4 508.6,111.5 510.4,111.7 512.3,112.0 514.2,112.2 516.0,112.2 517.9,112.0 519.8,111.4 521.6,110.4 523.5,109.1 525.4,107.3 527.2,105.1 529.1,102.4 531.0,99.3"/>
<path d="M306.7,112.8 308.6,110.0 310.4,107.3 312.3,104.9 314.2,102.7 316.0,100.6 317.9,98.7 319.8,96.9 321.7,95.1 323.5,93.5 325.4,91.8 327.3,90.1 329.1,88.4 331.0,86.5 332.9,84.4 334.7,82.1 336.6,79.5 338.5,76.5 340.3,73.2 342.2,69.6 344.1,65.7 345.9,61.5 347.8,57.2 349.7,52.9 351.6,48.7 353.4,45.0 355.3,41.7 357.2,38.8 359.0,36.5 360.9,34.7 362.8,33.5 364.6,33.4 366.5,33.9 368.4,35.0 370.2,36.7 372.1,39.2 374.0,42.9 375.9,47.9 377.7,54.3 379.6,62.1 381.5,71.1 383.3,81.2 385.2,91.8 387.1,102.8 388.9,113.7 390.8,124.0 392.7,134.7 394.5,145.0 396.4,155.6 398.3,166.4 400.1,175.7 402.0,182.4 403.9,187.3 405.8,191.1 407.6,194.4 409.5,197.4 411.4,200.0 413.2,202.1 415.1,203.6 417.0,204.4 418.8,204.6 420.7,204.1 422.6,202.9 424.4,201.2 426.3,198.8 428.2,195.9 430.1,192.4 431.9,188.5 433.8,184.1 435.7,179.2 437.5,173.8 439.4,167.8 441.3,161.3 443.1,154.3 445.0,146.8 446.9,138.8 448.7,130.6 450.6,122.6 452.5,115.0 454.4,108.1 456.2,101.8 458.1,96.1 460.0,90.8 461.8,85.7 463.7,81.2 465.6,77.4 467.4,74.6 469.3,72.7 471.2,71.3 473.0,70.4 474.9,69.8 476.8,69.5 478.6,69.2 480.5,69.0 482.4,68.7 484.3,68.3 486.1,67.7 488.0,66.8 489.9,65.9 491.7,64.9 493.6,63.9 495.5,62.9 497.3,62.0 499.2,61.2 501.1,60.4 502.9,59.8 504.8,59.2 506.7,58.5 508.6,57.9 510.4,57.2 512.3,56.4 514.2,55.5 516.0,54.6 517.9,53.5 519.8,52.3 521.6,51.0 523.5,49.6 525.4,48.0 527.2,46.2 529.1,44.2 531.0,41.8"/>
<path d="M306.7,152.6 308.6,147.3 310.4,142.5 312.3,138.0 314.2,133.9 316.0,129.9 317.9,126.2 319.8,122.8 321.7,119.4 323.5,116.3 325.4,113.2 327.3,110.3 329.1,107.4 331.0,104.5 332.9,101.5 334.7,98.6 336.6,95.7 338.5,92.8 340.3,90.1 342.2,87.4 344.1,85.0 345.9,82.7 347.8,80.6 349.7,78.8 351.6,77.3 353.4,76.1 355.3,75.1 357.2,74.4 359.0,73.8 360.9,73.5 362.8,73.4 364.6,73.4 366.5,73.7 368.4,74.1 370.2,74.9 372.1,76.2 374.0,78.1 375.9,80.9 377.7,84.8 379.6,89.9 381.5,96.2 383.3,103.4 385.2,111.2 387.1,119.2 388.9,126.1 390.8,130.5 392.7,141.9 394.5,149.0 396.4,156.4 398.3,164.2 400.1,171.5 402.0,176.9 403.9,180.8 405.8,183.8 407.6,186.2 409.5,188.5 411.4,190.6 413.2,192.5 415.1,194.2 417.0,195.6 418.8,196.8 420.7,197.6 422.6,198.1 424.4,198.1 426.3,197.8 428.2,197.0 430.1,195.8 431.9,194.2 433.8,192.2 435.7,190.0 437.5,187.5 439.4,184.8 441.3,181.9 443.1,178.7 445.0,175.2 446.9,162.3 448.7,159.6 450.6,156.5 452.5,152.7 454.4,147.6 456.2,140.9 458.1,133.4 460.0,125.8 461.8,118.4 463.7,111.2 465.6,104.2 467.4,97.4 469.3,91.2 471.2,86.1 473.0,82.4 474.9,80.1 476.8,78.9 478.6,78.5 480.5,78.6 482.4,78.8 484.3,79.0 486.1,79.0 488.0,78.8 489.9,78.4 491.7,77.7 493.6,76.8 495.5,75.8 497.3,74.8 499.2,74.0 501.1,73.4 502.9,73.1 504.8,73.2 506.7,73.6 508.6,74.3 510.4,75.2 512.3,76.3 514.2,77.4 516.0,78.3 517.9,79.0 519.8,79.5 521.6,79.7 523.5,79.6 525.4,79.3 527.2,78.8 529.1,78.1 531.0,77.3"/>
<path d="M306.7,34.5 308.6,36.5 310.4,39.0 312.3,42.0 314.2,45.4 316.0,49.0 317.9,52.6 319.8,56.1 321.7,59.3 323.5,62.3 325.4,65.1 327.3,67.6 329.1,69.8 331.0,71.8 332.9,73.4 334.7,74.8 336.6,75.9 338.5,76.8 340.3,77.5 342.2,78.1 344.1,78.7 345.9,79.2 347.8,79.7 349.7,80.3 351.6,80.8 353.4,81.3 355.3,81.7 357.2,82.1 359.0,82.4 360.9,82.6 362.8,82.7 364.6,82.9 366.5,83.2 368.4,83.8 370.2,84.6 372.1,85.7 374.0,87.1 375.9,88.9 377.7,91.3 379.6,94.5 381.5,98.6 383.3,103.7 385.2,109.7 387.1,116.2 388.9,122.7 390.8,127.8 392.7,135.9 394.5,141.9 396.4,147.9 398.3,154.2 400.1,161.2 402.0,168.1 403.9,173.3 405.8,176.8 407.6,179.4 409.5,181.9 411.4,184.3 413.2,186.6 415.1,188.3 417.0,189.4 418.8,189.5 420.7,188.8 422.6,187.4 424.4,185.3 426.3,182.7 428.2,179.7 430.1,176.4 431.9,172.9 433.8,169.0 435.7,164.8 437.5,160.0 439.4,154.8 441.3,149.0 443.1,142.7 445.0,135.9 446.9,129.0 448.7,121.9 450.6,114.7 452.5,107.3 454.4,99.5 456.2,91.4 458.1,83.1 460.0,75.2 461.8,68.2 463.7,62.4 465.6,57.7 467.4,53.9 469.3,51.1 471.2,49.2 473.0,48.0 474.9,47.4 476.8,47.2 478.6,47.5 480.5,47.9 482.4,48.5 484.3,49.2 486.1,49.9 488.0,50.6 489.9,51.3 491.7,52.1 493.6,52.9 495.5,53.7 497.3,54.6 499.2,55.6 501.1,56.6 502.9,57.7 504.8,58.7 506.7,59.6 508.6,60.3 510.4,60.8 512.3,61.0 514.2,61.0 516.0,60.6 517.9,60.0 519.8,59.3 521.6,58.3 523.5,57.3 525.4,56.3 527.2,55.0 529.1,53.5 531.0,52.1"/>
<path d="M306.7,31.7 308.6,32.3 310.4,33.0 312.3,34.0 314.2,35.5 316.0,37.7 317.9,40.7 319.8,44.4 321.7,48.7 323.5,53.0 325.4,57.1 327.3,60.9 329.1,64.5 331.0,67.8 332.9,70.8 334.7,73.4 336.6,75.6 338.5,77.6 340.3,79.4 342.2,81.1 344.1,82.7 345.9,84.3 347.8,85.9 349.7,87.6 351.6,89.2 353.4,91.0 355.3,93.0 357.2,95.1 359.0,97.4 360.9,99.9 362.8,102.5 364.6,105.1 366.5,107.7 368.4,110.1 370.2,112.3 372.1,114.2 374.0,115.9 375.9,117.6 377.7,119.4 379.6,121.5 381.5,123.9 383.3,126.4 385.2,128.8 387.1,130.6 388.9,132.0 390.8,133.1 392.7,149.7 394.5,153.9 396.4,158.4 398.3,163.7 400.1,170.0 402.0,175.6 403.9,179.7 405.8,182.5 407.6,185.0 409.5,187.5 411.4,189.9 413.2,192.0 415.1,193.7 417.0,194.8 418.8,195.1 420.7,194.6 422.6,193.4 424.4,191.5 426.3,189.2 428.2,186.6 430.1,183.7 431.9,180.7 433.8,177.5 435.7,174.3 437.5,170.9 439.4,167.4 441.3,163.7 443.1,159.8 445.0,155.7 446.9,151.4 448.7,147.3 450.6,143.3 452.5,139.4 454.4,135.4 456.2,131.2 458.1,126.7 460.0,122.0 461.8,117.5 463.7,113.6 465.6,110.3 467.4,107.6 469.3,105.3 471.2,103.6 473.0,102.2 474.9,101.1 476.8,100.3 478.6,99.6 480.5,98.9 482.4,98.0 484.3,97.0 486.1,95.7 488.0,94.2 489.9,92.6 491.7,90.8 493.6,88.9 495.5,87.1 497.3,85.4 499.2,83.9 501.1,82.6 502.9,81.6 504.8,80.8 506.7,80.2 508.6,79.7 510.4,79.5 512.3,79.4 514.2,79.4 516.0,79.6 517.9,79.9 519.8,80.4 521.6,81.0 523.5,81.6 525.4,82.1 527.2,82.5 529.1,82.3 531.0,81.4"/>
<path d="M306.7,112.3 308.6,111.0 310.4,109.4 312.3,107.6 314.2,105.6 316.0,103.5 317.9,101.3 319.8,99.0 321.7,96.6 323.5,94.1 325.4,91.6 327.3,89.0 329.1,86.4 331.0,83.7 332.9,81.0 334.7,78.2 336.6,75.2 338.5,72.2 340.3,68.9 342.2,65.6 344.1,62.2 345.9,58.7 347.8,55.3 349.7,52.0 351.6,49.0 353.4,46.4 355.3,44.3 357.2,42.7 359.0,41.7 360.9,41.4 362.8,41.8 364.6,42.9 366.5,44.6 368.4,46.9 370.2,49.7 372.1,53.0 374.0,56.7 375.9,60.9 377.7,65.6 379.6,71.1 381.5,77.3 383.3,84.6 385.2,92.8 387.1,101.7 388.9,111.1 390.8,120.6 392.7,130.1 394.5,139.2 396.4,148.0 398.3,156.9 400.1,166.3 402.0,176.1 403.9,184.4 405.8,190.3 407.6,194.6 409.5,198.2 411.4,201.6 413.2,204.5 415.1,206.9 417.0,208.5 418.8,209.2 420.7,208.8 422.6,207.4 424.4,205.1 426.3,202.1 428.2,198.5 430.1,194.5 431.9,190.0 433.8,185.1 435.7,179.6 437.5,173.5 439.4,166.8 441.3,159.2 443.1,150.8 445.0,141.6 446.9,131.8 448.7,121.8 450.6,111.8 452.5,102.3 454.4,93.3 456.2,84.8 458.1,76.8 460.0,69.3 461.8,62.6 463.7,57.0 465.6,53.0 467.4,50.2 469.3,48.7 471.2,48.2 473.0,48.6 474.9,49.8 476.8,51.6 478.6,54.0 480.5,56.8 482.4,60.0 484.3,63.3 486.1,66.8 488.0,70.3 489.9,73.9 491.7,77.4 493.6,80.8 495.5,84.0 497.3,87.0 499.2,89.8 501.1,92.2 502.9,94.2 504.8,95.9 506.7,97.2 508.6,98.2 510.4,98.9 512.3,99.4 514.2,99.7 516.0,99.8 517.9,99.8 519.8,99.6 521.6,99.3 523.5,98.9 525.4,98.3 527.2,97.6 529.1,96.7 531.0,94.9"/>
<path d="M306.7,185.7 308.6,180.9 310.4,176.0 312.3,171.2 314.2,166.5 316.0,162.3 317.9,158.5 319.8,155.2 321.7,152.2 323.5,149.5 325.4,147.0 327.3,145.2 329.1,143.5 331.0,141.9 332.9,140.2 334.7,138.6 336.6,136.8 338.5,134.8 340.3,132.7 342.2,130.4 344.1,127.9 345.9,125.3 347.8,122.6 349.7,119.8 351.6,117.1 353.4,114.3 355.3,111.6 357.2,109.0 359.0,106.5 360.9,104.0 362.8,101.6 364.6,99.4 366.5,97.2 368.4,95.2 370.2,93.5 372.1,92.1 374.0,90.9 375.9,90.3 377.7,90.2 379.6,90.9 381.5,92.6 383.3,95.5 385.2,99.7 387.1,105.1 388.9,111.2 390.8,117.8 392.7,124.6 394.5,131.4 396.4,138.1 398.3,144.8 400.1,151.8 402.0,159.5 403.9,167.2 405.8,173.1 407.6,177.1 409.5,180.0 411.4,182.6 413.2,184.9 415.1,187.0 417.0,188.5 418.8,189.4 420.7,189.6 422.6,188.9 424.4,187.6 426.3,185.6 428.2,183.1 430.1,180.0 431.9,176.6 433.8,172.8 435.7,168.7 437.5,164.0 439.4,158.9 441.3,153.3 443.1,147.4 445.0,141.1 446.9,134.5 448.7,127.8 450.6,121.2 452.5,114.9 454.4,109.1 456.2,103.6 458.1,98.4 460.0,93.3 461.8,88.3 463.7,83.7 465.6,79.8 467.4,76.7 469.3,74.3 471.2,72.5 473.0,71.3 474.9,70.8 476.8,70.8 478.6,71.4 480.5,72.4 482.4,73.8 484.3,75.5 486.1,77.3 488.0,79.3 489.9,81.5 491.7,83.8 493.6,86.2 495.5,88.4 497.3,90.4 499.2,92.0 501.1,93.2 502.9,93.8 504.8,94.0 506.7,93.6 508.6,92.7 510.4,91.4 512.3,89.8 514.2,88.0 516.0,86.2 517.9,84.4 519.8,82.7 521.6,81.0 523.5,79.4 525.4,77.8 527.2,76.4 529.1,74.9 531.0,73.2"/>
<path d="M306.7,183.4 308.6,177.9 310.4,172.4 312.3,167.3 314.2,162.8 316.0,159.0 317.9,155.9 319.8,153.5 321.7,151.6 323.5,150.0 325.4,148.4 327.3,147.4 329.1,146.3 331.0,145.2 332.9,144.1 334.7,142.8 336.6,141.4 338.5,139.9 340.3,138.4 342.2,136.8 344.1,135.2 345.9,133.6 347.8,132.1 349.7,130.6 351.6,129.2 353.4,128.0 355.3,127.0 357.2,126.1 359.0,125.4 360.9,124.8 362.8,124.2 364.6,123.7 366.5,123.1 368.4,122.3 370.2,121.3 372.1,120.1 374.0,118.7 375.9,117.3 377.7,116.1 379.6,115.4 381.5,115.5 383.3,116.6 385.2,118.9 387.1,122.2 388.9,125.8 390.8,129.0 392.7,136.8 394.5,142.2 396.4,147.6 398.3,153.1 400.1,158.9 402.0,165.4 403.9,172.4 405.8,178.5 407.6,182.9 409.5,186.1 411.4,188.7 413.2,191.1 415.1,193.4 417.0,195.5 418.8,197.4 420.7,199.0 422.6,200.1 424.4,200.8 426.3,201.0 428.2,200.6 430.1,199.9 431.9,198.7 433.8,197.2 435.7,195.4 437.5,193.3 439.4,191.1 441.3,188.7 443.1,186.1 445.0,183.1 446.9,163.4 448.7,161.1 450.6,158.7 452.5,156.1 454.4,152.9 456.2,148.9 458.1,143.7 460.0,136.4 461.8,128.6 463.7,121.0 465.6,113.8 467.4,106.8 469.3,100.4 471.2,95.0 473.0,91.0 474.9,88.4 476.8,87.1 478.6,86.7 480.5,87.2 482.4,88.1 484.3,89.1 486.1,90.2 488.0,91.2 489.9,91.9 491.7,92.4 493.6,92.7 495.5,92.7 497.3,92.6 499.2,92.2 501.1,91.7 502.9,91.1 504.8,90.3 506.7,89.3 508.6,88.3 510.4,87.1 512.3,85.8 514.2,84.5 516.0,83.1 517.9,81.7 519.8,80.3 521.6,79.1 523.5,78.0 525.4,77.0 527.2,76.2 529.1,75.5 531.0,74.8"/>
<path d="M306.7,32.1 308.6,32.8 310.4,33.7 312.3,34.8 314.2,36.1 316.0,37.7 317.9,39.6 319.8,41.8 321.7,44.1 323.5,46.5 325.4,48.9 327.3,51.1 329.1,52.9 331.0,54.4 332.9,55.5 334.7,56.3 336.6,56.8 338.5,57.2 340.3,57.6 342.2,57.9 344.1,58.5 345.9,59.2 347.8,60.2 349.7,61.5 351.6,63.0 353.4,64.9 355.3,66.9 357.2,69.1 359.0,71.2 360.9,73.1 362.8,74.9 364.6,76.4 366.5,77.6 368.4,78.6 370.2,79.3 372.1,80.1 374.0,81.1 375.9,82.7 377.7,85.1 379.6,88.8 381.5,93.6 383.3,99.5 385.2,106.2 387.1,113.4 388.9,120.8 390.8,127.0 392.7,135.7 394.5,143.2 396.4,151.3 398.3,159.7 400.1,167.2 402.0,172.8 403.9,176.8 405.8,179.9 407.6,182.7 409.5,185.2 411.4,187.5 413.2,189.5 415.1,191.2 417.0,192.5 418.8,193.5 420.7,194.1 422.6,194.2 424.4,193.8 426.3,193.0 428.2,191.7 430.1,190.0 431.9,187.8 433.8,185.1 435.7,181.9 437.5,178.3 439.4,174.2 441.3,169.5 443.1,164.3 445.0,158.4 446.9,151.7 448.7,144.6 450.6,136.8 452.5,128.4 454.4,119.8 456.2,111.4 458.1,103.3 460.0,95.8 461.8,88.8 463.7,82.0 465.6,75.2 467.4,68.8 469.3,63.0 471.2,58.3 473.0,54.6 474.9,51.8 476.8,49.9 478.6,48.8 480.5,48.6 482.4,49.3 484.3,50.7 486.1,53.0 488.0,55.8 489.9,59.2 491.7,62.9 493.6,67.0 495.5,71.2 497.3,75.5 499.2,79.8 501.1,83.9 502.9,87.8 504.8,91.4 506.7,94.7 508.6,97.6 510.4,100.2 512.3,102.5 514.2,104.7 516.0,106.6 517.9,108.4 519.8,110.1 521.6,111.6 523.5,112.9 525.4,113.9 527.2,114.7 529.1,115.3 531.0,115.6"/>
<path d="M306.7,141.6 308.6,132.9 310.4,125.3 312.3,118.7 314.2,113.1 316.0,108.3 317.9,104.1 319.8,100.6 321.7,97.4 323.5,94.7 325.4,92.3 327.3,90.3 329.1,88.6 331.0,87.1 332.9,85.8 334.7,84.7 336.6,83.7 338.5,82.7 340.3,81.7 342.2,80.7 344.1,79.6 345.9,78.4 347.8,77.1 349.7,75.8 351.6,74.5 353.4,73.4 355.3,72.4 357.2,71.6 359.0,71.0 360.9,70.6 362.8,70.3 364.6,70.0 366.5,69.6 368.4,69.3 370.2,69.0 372.1,68.8 374.0,68.7 375.9,68.8 377.7,69.2 379.6,70.0 381.5,71.1 383.3,72.8 385.2,75.0 387.1,77.8 388.9,81.2 390.8,85.0 392.7,89.2 394.5,93.9 396.4,99.0 398.3,104.4 400.1,110.1 402.0,115.9 403.9,121.6 405.8,127.3 407.6,133.2 409.5,139.6 411.4,146.7 413.2,152.8 415.1,156.9 417.0,160.0 418.8,163.1 420.7,166.0 422.6,168.4 424.4,170.3 426.3,171.3 428.2,171.5 430.1,171.1 431.9,170.1 433.8,168.6 435.7,166.8 437.5,164.8 439.4,162.5 441.3,160.1 443.1,157.6 445.0,154.8 446.9,151.7 448.7,148.4 450.6,144.3 452.5,139.3 454.4,133.4 456.2,126.9 458.1,119.9 460.0,112.6 461.8,105.2 463.7,97.7 465.6,90.1 467.4,82.8 469.3,76.3 471.2,71.0 473.0,66.7 474.9,63.4 476.8,61.0 478.6,59.4 480.5,58.5 482.4,58.2 484.3,58.4 486.1,59.0 488.0,59.9 489.9,61.0 491.7,62.3 493.6,63.6 495.5,65.1 497.3,66.7 499.2,68.3 501.1,70.0 502.9,71.6 504.8,73.3 506.7,74.8 508.6,76.1 510.4,77.3 512.3,78.1 514.2,78.6 516.0,78.6 517.9,78.2 519.8,77.4 521.6,76.2 523.5,74.6 525.4,72.7 527.2,70.6 529.1,68.3 531.0,66.1"/>
<path d="M306.7,115.6 308.6,115.7 310.4,115.8 312.3,115.6 314.2,115.3 316.0,114.9 317.9,114.5 319.8,114.0 321.7,113.4 323.5,112.9 325.4,112.3 327.3,111.8 329.1,111.2 331.0,110.5 332.9,109.6 334.7,108.6 336.6,107.3 338.5,105.9 340.3,104.2 342.2,102.4 344.1,100.5 345.9,98.6 347.8,96.6 349.7,94.6 351.6,92.5 353.4,90.3 355.3,88.0 357.2,85.7 359.0,83.2 360.9,80.8 362.8,78.3 364.6,75.8 366.5,73.4 368.4,71.2 370.2,69.3 372.1,67.8 374.0,66.8 375.9,66.5 377.7,67.0 379.6,68.3 381.5,70.8 383.3,74.6 385.2,79.7 387.1,86.3 388.9,93.9 390.8,102.4 392.7,111.4 394.5,120.6 396.4,129.6 398.3,138.4 400.1,147.3 402.0,156.5 403.9,166.0 405.8,174.5 407.6,180.6 409.5,185.0 411.4,188.4 413.2,191.5 415.1,194.4 417.0,196.9 418.8,199.2 420.7,201.0 422.6,202.2 424.4,202.7 426.3,202.4 428.2,201.4 430.1,199.6 431.9,197.2 433.8,194.2 435.7,190.5 437.5,186.2 439.4,181.3 441.3,175.8 443.1,169.8 445.0,163.3 446.9,155.5 448.7,148.7 450.6,140.8 452.5,132.7 454.4,124.5 456.2,116.7 458.1,109.4 460.0,102.8 461.8,96.7 463.7,91.0 465.6,85.5 467.4,80.3 469.3,75.7 471.2,72.1 473.0,69.8 474.9,68.5 476.8,68.1 478.6,68.6 480.5,69.7 482.4,71.2 484.3,73.1 486.1,75.2 488.0,77.3 489.9,79.3 491.7,81.0 493.6,82.5 495.5,83.9 497.3,85.0 499.2,85.9 501.1,86.7 502.9,87.3 504.8,87.8 506.7,88.2 508.6,88.4 510.4,88.4 512.3,88.2 514.2,87.7 516.0,86.9 517.9,85.9 519.8,84.6 521.6,83.0 523.5,81.2 525.4,79.2 527.2,76.9 529.1,74.5 531.0,71.8"/>
<path d="M306.7,76.1 308.6,75.6 310.4,75.2 312.3,74.7 314.2,74.1 316.0,73.4 317.9,72.7 319.8,71.9 321.7,71.1 323.5,70.4 325.4,69.8 327.3,69.3 329.1,69.0 331.0,68.8 332.9,68.7 334.7,68.7 336.6,68.8 338.5,69.2 340.3,69.7 342.2,70.4 344.1,71.3 345.9,72.2 347.8,73.2 349.7,74.1 351.6,75.1 353.4,76.0 355.3,77.0 357.2,77.9 359.0,79.0 360.9,80.0 362.8,81.2 364.6,82.4 366.5,83.6 368.4,84.9 370.2,86.3 372.1,88.0 374.0,90.0 375.9,92.7 377.7,96.2 379.6,100.8 381.5,106.6 383.3,113.1 385.2,120.0 387.1,125.9 388.9,129.9 390.8,132.1 392.7,146.1 394.5,152.0 396.4,158.2 398.3,164.8 400.1,170.8 402.0,175.2 403.9,178.3 405.8,180.8 407.6,183.0 409.5,185.1 411.4,187.1 413.2,188.9 415.1,190.4 417.0,191.6 418.8,192.5 420.7,193.0 422.6,193.1 424.4,192.8 426.3,192.2 428.2,191.3 430.1,190.1 431.9,188.7 433.8,187.0 435.7,185.2 437.5,183.3 439.4,181.3 441.3,179.2 443.1,177.0 445.0,174.4 446.9,162.3 448.7,160.0 450.6,157.4 452.5,154.4 454.4,150.9 456.2,146.6 458.1,141.5 460.0,135.2 461.8,128.7 463.7,122.1 465.6,115.4 467.4,108.6 469.3,102.2 471.2,96.8 473.0,92.4 474.9,89.0 476.8,86.6 478.6,85.1 480.5,84.5 482.4,84.9 484.3,86.0 486.1,87.9 488.0,90.3 489.9,93.1 491.7,96.1 493.6,99.1 495.5,102.0 497.3,104.7 499.2,107.2 501.1,109.5 502.9,111.7 504.8,113.7 506.7,115.4 508.6,116.8 510.4,117.8 512.3,118.3 514.2,118.2 516.0,117.7 517.9,116.8 519.8,115.7 521.6,114.4 523.5,113.0 525.4,111.5 527.2,109.9 529.1,108.0 531.0,105.9"/>
<path d="M306.7,99.0 308.6,99.1 310.4,99.5 312.3,100.0 314.2,100.7 316.0,101.6 317.9,102.6 319.8,103.7 321.7,104.8 323.5,105.8 325.4,106.7 327.3,107.6 329.1,108.3 331.0,108.8 332.9,109.1 334.7,109.2 336.6,109.1 338.5,108.7 340.3,108.0 342.2,107.2 344.1,106.2 345.9,105.0 347.8,103.7 349.7,102.4 351.6,101.1 353.4,100.0 355.3,99.0 357.2,98.3 359.0,97.8 360.9,97.6 362.8,97.8 364.6,98.2 366.5,98.8 368.4,99.5 370.2,100.1 372.1,100.7 374.0,101.1 375.9,101.4 377.7,101.8 379.6,102.6 381.5,103.9 383.3,106.2 385.2,109.5 387.1,113.7 388.9,118.5 390.8,123.5 392.7,129.3 394.5,134.8 396.4,140.3 398.3,146.2 400.1,152.5 402.0,159.5 403.9,166.3 405.8,171.5 407.6,175.1 409.5,177.8 411.4,180.1 413.2,182.3 415.1,184.3 417.0,186.0 418.8,187.4 420.7,188.4 422.6,188.9 424.4,188.7 426.3,188.0 428.2,186.8 430.1,184.9 431.9,182.6 433.8,179.8 435.7,176.6 437.5,173.0 439.4,169.0 441.3,164.6 443.1,159.9 445.0,154.9 446.9,149.7 448.7,144.2 450.6,138.5 452.5,132.7 454.4,126.8 456.2,121.2 458.1,116.0 460.0,111.2 461.8,106.5 463.7,102.0 465.6,97.4 467.4,93.1 469.3,89.4 471.2,86.6 473.0,84.8 474.9,83.8 476.8,83.4 478.6,83.7 480.5,84.4 482.4,85.5 484.3,86.9 486.1,88.4 488.0,90.0 489.9,91.5 491.7,92.9 493.6,94.2 495.5,95.3 497.3,96.4 499.2,97.3 501.1,98.2 502.9,99.2 504.8,100.1 506.7,101.1 508.6,102.1 510.4,103.2 512.3,104.2 514.2,105.2 516.0,106.2 517.9,106.9 519.8,107.4 521.6,107.5 523.5,107.3 525.4,106.5 527.2,105.1 529.1,103.1 531.0,100.5"/>
<path d="M306.7,48.4 308.6,47.3 310.4,46.7 312.3,46.4 314.2,46.4 316.0,46.7 317.9,47.2 319.8,48.0 321.7,48.9 323.5,49.8 325.4,50.7 327.3,51.7 329.1,52.7 331.0,53.7 332.9,54.7 334.7,55.7 336.6,56.6 338.5,57.4 340.3,58.1 342.2,58.7 344.1,59.2 345.9,59.4 347.8,59.6 349.7,59.6 351.6,59.5 353.4,59.4 355.3,59.4 357.2,59.3 359.0,59.1 360.9,58.6 362.8,57.8 364.6,56.7 366.5,55.3 368.4,53.7 370.2,52.1 372.1,50.5 374.0,49.1 375.9,48.0 377.7,47.5 379.6,47.7 381.5,48.6 383.3,50.4 385.2,53.3 387.1,57.1 388.9,61.6 390.8,66.6 392.7,69.0 394.5,74.5 396.4,80.6 398.3,87.5 400.1,95.0 402.0,103.1 403.9,111.4 405.8,119.8 407.6,128.0 409.5,136.6 411.4,146.0 413.2,155.5 415.1,162.5 417.0,167.3 418.8,171.4 420.7,175.0 422.6,177.9 424.4,179.9 426.3,180.8 428.2,180.6 430.1,179.7 431.9,178.1 433.8,176.1 435.7,173.9 437.5,171.7 439.4,169.5 441.3,167.3 443.1,165.1 445.0,162.9 446.9,158.5 448.7,156.1 450.6,153.5 452.5,150.6 454.4,147.2 456.2,143.5 458.1,139.7 460.0,135.7 461.8,131.7 463.7,127.7 465.6,123.8 467.4,120.4 469.3,117.8 471.2,116.1 473.0,115.2 474.9,114.9 476.8,115.0 478.6,115.3 480.5,115.8 482.4,116.2 484.3,116.6 486.1,116.9 488.0,116.9 489.9,116.6 491.7,116.2 493.6,115.5 495.5,114.7 497.3,113.8 499.2,112.8 501.1,111.8 502.9,110.6 504.8,109.4 506.7,108.0 508.6,106.4 510.4,104.6 512.3,102.7 514.2,100.6 516.0,98.5 517.9,96.3 519.8,94.3 521.6,92.2 523.5,90.2 525.4,88.1 527.2,86.0 529.1,83.6 531.0,81.1"/>
<path d="M306.7,168.9 308.6,163.4 310.4,158.1 312.3,153.3 314.2,148.8 316.0,144.6 317.9,140.6 319.8,136.9 321.7,133.4 323.5,130.0 325.4,126.7 327.3,123.5 329.1,120.4 331.0,117.3 332.9,114.2 334.7,111.0 336.6,107.8 338.5,104.5 340.3,101.1 342.2,97.5 344.1,93.8 345.9,90.1 347.8,86.2 349.7,82.3 351.6,78.4 353.4,74.5 355.3,70.8 357.2,67.4 359.0,64.2 360.9,61.3 362.8,58.8 364.6,56.7 366.5,55.0 368.4,53.9 370.2,53.3 372.1,53.3 374.0,53.9 375.9,55.4 377.7,58.1 379.6,62.0 381.5,67.4 383.3,74.3 385.2,82.6 387.1,91.7 388.9,101.3 390.8,111.0 392.7,120.5 394.5,129.6 396.4,138.3 398.3,147.0 400.1,156.0 402.0,165.0 403.9,172.5 405.8,177.9 407.6,181.8 409.5,185.1 411.4,188.0 413.2,190.7 415.1,193.1 417.0,195.0 418.8,196.4 420.7,197.1 422.6,197.2 424.4,196.6 426.3,195.5 428.2,193.9 430.1,191.8 431.9,189.3 433.8,186.5 435.7,183.5 437.5,180.1 439.4,176.5 441.3,172.5 443.1,168.1 445.0,163.3 446.9,156.8 448.7,151.8 450.6,145.9 452.5,139.5 454.4,133.1 456.2,126.9 458.1,120.9 460.0,115.0 461.8,109.4 463.7,103.8 465.6,98.8 467.4,94.7 469.3,91.7 471.2,89.7 473.0,88.5 474.9,88.0 476.8,88.1 478.6,88.5 480.5,89.2 482.4,90.1 484.3,91.1 486.1,92.1 488.0,93.2 489.9,94.3 491.7,95.6 493.6,97.1 495.5,98.7 497.3,100.6 499.2,102.6 501.1,104.7 502.9,107.0 504.8,109.3 506.7,111.6 508.6,113.7 510.4,115.7 512.3,117.4 514.2,118.7 516.0,119.6 517.9,120.1 519.8,120.3 521.6,120.0 523.5,119.4 525.4,118.4 527.2,117.2 529.1,115.6 531.0,113.9"/>
<path d="M306.7,101.3 308.6,99.4 310.4,97.8 312.3,96.4 314.2,95.4 316.0,94.5 317.9,93.7 319.8,93.1 321.7,92.4 323.5,91.7 325.4,91.0 327.3,90.1 329.1,89.2 331.0,88.2 332.9,87.0 334.7,85.8 336.6,84.3 338.5,82.7 340.3,80.9 342.2,79.0 344.1,76.9 345.9,74.7 347.8,72.4 349.7,70.1 351.6,67.9 353.4,65.8 355.3,63.8 357.2,62.2 359.0,60.8 360.9,59.8 362.8,59.2 364.6,58.9 366.5,59.1 368.4,59.6 370.2,60.6 372.1,62.1 374.0,64.0 375.9,66.5 377.7,69.7 379.6,73.9 381.5,79.1 383.3,85.5 385.2,93.0 387.1,101.2 388.9,109.6 390.8,117.9 392.7,126.0 394.5,133.5 396.4,140.8 398.3,148.0 400.1,155.6 402.0,163.6 403.9,170.6 405.8,175.7 407.6,179.4 409.5,182.5 411.4,185.4 413.2,188.0 415.1,190.2 417.0,191.8 418.8,192.7 420.7,192.7 422.6,191.9 424.4,190.3 426.3,188.1 428.2,185.4 430.1,182.4 431.9,179.1 433.8,175.7 435.7,172.0 437.5,168.0 439.4,163.8 441.3,159.3 443.1,154.3 445.0,148.8 446.9,142.8 448.7,136.3 450.6,129.6 452.5,122.6 454.4,115.4 456.2,108.0 458.1,100.4 460.0,92.5 461.8,84.7 463.7,77.5 465.6,71.4 467.4,66.4 469.3,62.6 471.2,59.8 473.0,58.0 474.9,56.9 476.8,56.6 478.6,56.7 480.5,57.3 482.4,58.1 484.3,59.1 486.1,60.1 488.0,61.3 489.9,62.6 491.7,64.1 493.6,65.8 495.5,67.6 497.3,69.5 499.2,71.6 501.1,73.6 502.9,75.6 504.8,77.4 506.7,79.0 508.6,80.3 510.4,81.3 512.3,81.9 514.2,82.2 516.0,82.4 517.9,82.3 519.8,82.3 521.6,82.3 523.5,82.4 525.4,82.8 527.2,83.5 529.1,84.5 531.0,85.5"/>
<path d="M306.7,130.8 308.6,127.6 310.4,124.9 312.3,122.7 314.2,120.8 316.0,119.3 317.9,118.2 319.8,117.5 321.7,117.2 323.5,117.3 325.4,117.8 327.3,118.6 329.1,119.5 331.0,120.5 332.9,121.3 334.7,121.8 336.6,122.0 338.5,121.8 340.3,121.3 342.2,120.5 344.1,119.6 345.9,118.6 347.8,117.7 349.7,116.8 351.6,116.0 353.4,115.3 355.3,114.7 357.2,114.1 359.0,113.6 360.9,113.0 362.8,112.5 364.6,111.9 366.5,111.3 368.4,110.6 370.2,109.8 372.1,108.9 374.0,107.9 375.9,106.8 377.7,105.6 379.6,104.6 381.5,103.9 383.3,103.9 385.2,104.8 387.1,107.0 388.9,110.6 390.8,115.5 392.7,121.5 394.5,128.2 396.4,135.3 398.3,142.6 400.1,149.9 402.0,157.5 403.9,165.8 405.8,174.9 407.6,183.3 409.5,189.6 411.4,194.1 413.2,197.8 415.1,201.1 417.0,204.2 418.8,207.0 420.7,209.3 422.6,210.9 424.4,211.8 426.3,211.8 428.2,211.0 430.1,209.4 431.9,207.1 433.8,204.2 435.7,200.9 437.5,197.2 439.4,193.1 441.3,188.7 443.1,183.9 445.0,178.6 446.9,162.6 448.7,159.6 450.6,156.0 452.5,151.3 454.4,145.3 456.2,138.2 458.1,131.0 460.0,124.1 461.8,117.6 463.7,111.3 465.6,105.1 467.4,98.9 469.3,92.9 471.2,87.5 473.0,83.2 474.9,79.8 476.8,77.2 478.6,75.3 480.5,74.0 482.4,73.2 484.3,72.8 486.1,72.7 488.0,73.0 489.9,73.5 491.7,74.2 493.6,75.1 495.5,76.2 497.3,77.7 499.2,79.5 501.1,81.6 502.9,84.1 504.8,86.9 506.7,89.9 508.6,92.7 510.4,95.4 512.3,97.7 514.2,99.5 516.0,101.0 517.9,101.9 519.8,102.5 521.6,102.6 523.5,102.3 525.4,101.6 527.2,100.3 529.1,98.6 531.0,96.6"/>
<path d="M306.7,55.3 308.6,59.9 310.4,63.9 312.3,67.3 314.2,70.2 316.0,72.8 317.9,75.2 319.8,77.7 321.7,80.3 323.5,83.1 325.4,85.9 327.3,88.8 329.1,91.5 331.0,94.0 332.9,96.4 334.7,98.5 336.6,100.2 338.5,101.6 340.3,102.7 342.2,103.3 344.1,103.7 345.9,103.7 347.8,103.6 349.7,103.4 351.6,103.2 353.4,103.0 355.3,102.9 357.2,103.0 359.0,103.2 360.9,103.5 362.8,103.7 364.6,103.9 366.5,103.9 368.4,103.8 370.2,103.5 372.1,103.0 374.0,102.5 375.9,101.9 377.7,101.3 379.6,100.9 381.5,100.8 383.3,101.4 385.2,102.8 387.1,105.3 388.9,109.1 390.8,114.0 392.7,119.7 394.5,126.1 396.4,132.8 398.3,139.6 400.1,146.5 402.0,153.7 403.9,161.6 405.8,170.5 407.6,178.5 409.5,184.2 411.4,188.4 413.2,191.9 415.1,195.2 417.0,198.3 418.8,200.8 420.7,202.7 422.6,203.8 424.4,203.9 426.3,203.1 428.2,201.5 430.1,199.3 431.9,196.5 433.8,193.3 435.7,189.7 437.5,185.9 439.4,181.9 441.3,177.6 443.1,173.0 445.0,168.2 446.9,159.7 448.7,155.8 450.6,151.3 452.5,146.1 454.4,140.8 456.2,135.8 458.1,131.3 460.0,127.2 461.8,123.4 463.7,119.8 465.6,116.3 467.4,113.3 469.3,111.1 471.2,109.8 473.0,109.2 474.9,109.0 476.8,109.3 478.6,109.8 480.5,110.5 482.4,111.3 484.3,112.0 486.1,112.6 488.0,113.0 489.9,113.3 491.7,113.3 493.6,113.3 495.5,113.1 497.3,112.9 499.2,112.7 501.1,112.5 502.9,112.4 504.8,112.3 506.7,112.3 508.6,112.3 510.4,112.3 512.3,112.4 514.2,112.4 516.0,112.3 517.9,112.1 519.8,111.8 521.6,111.5 523.5,111.0 525.4,110.3 527.2,109.5 529.1,108.4 531.0,107.2"/>
<path d="M306.7,94.2 308.6,94.1 310.4,94.0 312.3,93.8 314.2,93.5 316.0,92.9 317.9,92.2 319.8,91.3 321.7,90.4 323.5,89.3 325.4,88.2 327.3,87.0 329.1,85.8 331.0,84.6 332.9,83.5 334.7,82.4 336.6,81.3 338.5,80.2 340.3,78.9 342.2,77.4 344.1,75.7 345.9,73.9 347.8,71.9 349.7,69.9 351.6,67.9 353.4,66.0 355.3,64.3 357.2,62.8 359.0,61.7 360.9,60.9 362.8,60.5 364.6,60.4 366.5,60.4 368.4,60.6 370.2,60.9 372.1,61.4 374.0,62.1 375.9,63.1 377.7,64.3 379.6,66.0 381.5,68.3 383.3,71.4 385.2,75.5 387.1,80.9 388.9,87.6 390.8,95.4 392.7,104.1 394.5,113.4 396.4,122.8 398.3,132.0 400.1,141.0 402.0,150.0 403.9,159.3 405.8,169.2 407.6,178.6 409.5,185.6 411.4,190.7 413.2,194.6 415.1,198.3 417.0,201.7 418.8,204.8 420.7,207.4 422.6,209.4 424.4,210.6 426.3,211.0 428.2,210.6 430.1,209.5 431.9,207.6 433.8,205.2 435.7,202.2 437.5,198.8 439.4,195.0 441.3,190.7 443.1,185.9 445.0,180.6 446.9,162.9 448.7,160.0 450.6,156.4 452.5,151.6 454.4,145.0 456.2,136.8 458.1,128.5 460.0,120.3 461.8,112.5 463.7,104.8 465.6,97.2 467.4,89.7 469.3,82.5 471.2,76.2 473.0,71.2 474.9,67.4 476.8,64.8 478.6,63.2 480.5,62.6 482.4,62.6 484.3,63.2 486.1,64.0 488.0,64.9 489.9,65.6 491.7,66.2 493.6,66.5 495.5,66.6 497.3,66.5 499.2,66.2 501.1,65.8 502.9,65.3 504.8,64.8 506.7,64.3 508.6,63.8 510.4,63.4 512.3,63.1 514.2,63.0 516.0,63.0 517.9,63.2 519.8,63.5 521.6,64.0 523.5,64.7 525.4,65.6 527.2,66.8 529.1,68.2 531.0,69.9"/>
<path d="M306.7,105.0 308.6,100.9 310.4,97.2 312.3,94.0 314.2,91.2 316.0,88.9 317.9,87.0 319.8,85.5 321.7,84.3 323.5,83.5 325.4,82.9 327.3,82.6 329.1,82.5 331.0,82.5 332.9,82.7 334.7,82.9 336.6,83.1 338.5,83.3 340.3,83.5 342.2,83.6 344.1,83.7 345.9,83.7 347.8,83.6 349.7,83.4 351.6,83.2 353.4,83.0 355.3,82.8 357.2,82.7 359.0,82.6 360.9,82.6 362.8,82.6 364.6,82.9 366.5,83.2 368.4,83.8 370.2,84.6 372.1,85.5 374.0,86.8 375.9,88.5 377.7,90.9 379.6,94.2 381.5,98.6 383.3,104.1 385.2,110.3 387.1,117.1 388.9,123.6 390.8,128.6 392.7,137.4 394.5,143.7 396.4,150.1 398.3,157.0 400.1,164.4 402.0,171.2 403.9,176.0 405.8,179.4 407.6,182.1 409.5,184.6 411.4,187.0 413.2,189.1 415.1,190.7 417.0,191.9 418.8,192.3 420.7,192.1 422.6,191.1 424.4,189.6 426.3,187.6 428.2,185.1 430.1,182.2 431.9,179.1 433.8,175.7 435.7,171.9 437.5,167.7 439.4,163.1 441.3,158.0 443.1,152.4 445.0,146.2 446.9,139.4 448.7,132.3 450.6,125.0 452.5,117.8 454.4,110.8 456.2,104.1 458.1,97.6 460.0,91.4 461.8,85.7 463.7,80.9 465.6,77.5 467.4,75.3 469.3,74.3 471.2,74.3 473.0,75.1 474.9,76.6 476.8,78.7 478.6,81.4 480.5,84.3 482.4,87.4 484.3,90.6 486.1,93.7 488.0,96.7 489.9,99.7 491.7,102.5 493.6,105.2 495.5,107.7 497.3,109.9 499.2,112.0 501.1,113.7 502.9,115.2 504.8,116.4 506.7,117.4 508.6,118.1 510.4,118.6 512.3,119.0 514.2,119.3 516.0,119.6 517.9,120.0 519.8,120.4 521.6,120.9 523.5,121.3 525.4,121.9 527.2,122.4 529.1,122.9 531.0,122.9"/>
<path d="M306.7,36.1 308.6,37.5 310.4,39.1 312.3,40.7 314.2,42.4 316.0,44.4 317.9,46.4 319.8,48.7 321.7,50.9 323.5,53.3 325.4,55.6 327.3,57.9 329.1,60.2 331.0,62.5 332.9,64.8 334.7,66.9 336.6,68.9 338.5,70.7 340.3,72.3 342.2,73.6 344.1,74.6 345.9,75.4 347.8,75.9 349.7,76.1 351.6,76.2 353.4,76.1 355.3,76.0 357.2,75.7 359.0,75.5 360.9,75.4 362.8,75.4 364.6,75.4 366.5,75.7 368.4,76.1 370.2,76.7 372.1,77.4 374.0,78.3 375.9,79.5 377.7,80.9 379.6,82.8 381.5,85.5 383.3,89.0 385.2,93.7 387.1,99.5 388.9,106.2 390.8,113.7 392.7,121.6 394.5,129.7 396.4,137.8 398.3,145.8 400.1,154.1 402.0,163.0 403.9,172.4 405.8,180.6 407.6,186.6 409.5,190.9 411.4,194.5 413.2,197.9 415.1,201.0 417.0,203.8 418.8,206.1 420.7,207.7 422.6,208.6 424.4,208.6 426.3,207.8 428.2,206.3 430.1,204.2 431.9,201.5 433.8,198.4 435.7,195.0 437.5,191.3 439.4,187.3 441.3,182.9 443.1,178.2 445.0,173.1 446.9,161.4 448.7,157.9 450.6,153.5 452.5,147.9 454.4,141.2 456.2,134.0 458.1,126.8 460.0,119.5 461.8,112.0 463.7,104.3 465.6,96.4 467.4,88.5 469.3,81.2 471.2,74.6 473.0,68.7 474.9,63.4 476.8,58.8 478.6,55.0 480.5,52.0 482.4,49.9 484.3,48.6 486.1,48.1 488.0,48.2 489.9,48.7 491.7,49.6 493.6,50.8 495.5,52.3 497.3,54.0 499.2,55.8 501.1,57.5 502.9,59.2 504.8,60.9 506.7,62.3 508.6,63.7 510.4,64.8 512.3,65.7 514.2,66.4 516.0,66.9 517.9,67.3 519.8,67.6 521.6,68.0 523.5,68.5 525.4,69.2 527.2,70.3 529.1,71.7 531.0,73.5"/>
<path d="M306.7,141.2 308.6,138.3 310.4,135.9 312.3,133.8 314.2,132.0 316.0,130.5 317.9,129.1 319.8,127.9 321.7,126.8 323.5,125.7 325.4,124.7 327.3,123.7 329.1,122.6 331.0,121.2 332.9,119.7 334.7,117.8 336.6,115.6 338.5,113.1 340.3,110.3 342.2,107.3 344.1,104.0 345.9,100.5 347.8,96.9 349.7,93.2 351.6,89.6 353.4,86.1 355.3,82.9 357.2,80.0 359.0,77.4 360.9,75.3 362.8,73.6 364.6,72.3 366.5,71.6 368.4,71.3 370.2,71.5 372.1,72.3 374.0,73.9 375.9,76.5 377.7,80.2 379.6,85.3 381.5,91.6 383.3,98.8 385.2,106.7 387.1,114.9 388.9,122.9 390.8,128.8 392.7,139.0 394.5,146.8 396.4,154.9 398.3,163.4 400.1,171.0 402.0,176.7 403.9,180.9 405.8,184.1 407.6,186.8 409.5,189.3 411.4,191.5 413.2,193.4 415.1,195.0 417.0,196.3 418.8,197.3 420.7,198.0 422.6,198.3 424.4,198.1 426.3,197.6 428.2,196.5 430.1,194.9 431.9,192.9 433.8,190.3 435.7,187.2 437.5,183.6 439.4,179.5 441.3,174.9 443.1,169.8 445.0,164.2 446.9,156.9 448.7,151.2 450.6,144.2 452.5,136.5 454.4,128.2 456.2,119.8 458.1,111.4 460.0,103.5 461.8,96.1 463.7,89.2 465.6,82.8 467.4,76.8 469.3,71.2 471.2,66.6 473.0,63.1 474.9,60.9 476.8,59.5 478.6,58.9 480.5,58.8 482.4,59.2 484.3,59.8 486.1,60.6 488.0,61.4 489.9,62.2 491.7,62.9 493.6,63.5 495.5,64.0 497.3,64.4 499.2,64.7 501.1,64.9 502.9,65.2 504.8,65.7 506.7,66.5 508.6,67.5 510.4,69.0 512.3,70.8 514.2,73.0 516.0,75.4 517.9,77.8 519.8,80.0 521.6,81.8 523.5,83.0 525.4,83.9 527.2,84.3 529.1,84.3 531.0,84.0"/>
<path d="M306.7,84.3 308.6,83.2 310.4,82.4 312.3,81.8 314.2,81.3 316.0,81.0 317.9,80.7 319.8,80.5 321.7,80.2 323.5,79.9 325.4,79.5 327.3,78.9 329.1,78.1 331.0,77.0 332.9,75.5 334.7,73.6 336.6,71.3 338.5,68.8 340.3,66.0 342.2,63.1 344.1,60.1 345.9,57.1 347.8,54.2 349.7,51.5 351.6,48.9 353.4,46.6 355.3,44.5 357.2,42.8 359.0,41.5 360.9,40.6 362.8,40.3 364.6,40.4 366.5,41.2 368.4,42.5 370.2,44.5 372.1,47.1 374.0,50.6 375.9,55.1 377.7,60.8 379.6,67.7 381.5,76.0 383.3,85.3 385.2,95.2 387.1,105.5 388.9,115.7 390.8,125.0 392.7,134.9 394.5,144.1 396.4,153.4 398.3,163.0 400.1,171.9 402.0,178.4 403.9,183.1 405.8,186.5 407.6,189.4 409.5,192.1 411.4,194.4 413.2,196.3 415.1,197.8 417.0,198.8 418.8,199.2 420.7,199.0 422.6,198.2 424.4,196.9 426.3,195.0 428.2,192.7 430.1,189.9 431.9,186.8 433.8,183.4 435.7,179.6 437.5,175.5 439.4,171.0 441.3,166.2 443.1,161.1 445.0,155.7 446.9,150.0 448.7,144.3 450.6,138.7 452.5,133.7 454.4,129.2 456.2,125.4 458.1,121.9 460.0,118.6 461.8,115.3 463.7,112.1 465.6,109.2 467.4,107.0 469.3,105.4 471.2,104.2 473.0,103.4 474.9,102.7 476.8,102.3 478.6,102.1 480.5,102.1 482.4,102.4 484.3,103.0 486.1,103.8 488.0,104.8 489.9,105.9 491.7,107.3 493.6,108.8 495.5,110.6 497.3,112.5 499.2,114.8 501.1,117.3 502.9,120.0 504.8,123.0 506.7,126.1 508.6,129.2 510.4,132.1 512.3,134.7 514.2,136.7 516.0,138.3 517.9,139.3 519.8,139.9 521.6,140.1 523.5,139.8 525.4,139.2 527.2,138.3 529.1,137.0 531.0,135.4"/>
<path d="M306.7,78.4 308.6,75.3 310.4,72.5 312.3,70.1 314.2,68.1 316.0,66.5 317.9,65.4 319.8,64.5 321.7,63.9 323.5,63.5 325.4,63.3 327.3,63.0 329.1,62.8 331.0,62.5 332.9,62.2 334.7,61.8 336.6,61.5 338.5,61.4 340.3,61.3 342.2,61.5 344.1,61.9 345.9,62.6 347.8,63.6 349.7,64.8 351.6,66.3 353.4,68.1 355.3,70.0 357.2,72.1 359.0,74.2 360.9,76.4 362.8,78.6 364.6,80.8 366.5,83.0 368.4,85.2 370.2,87.3 372.1,89.6 374.0,92.2 375.9,95.3 377.7,99.1 379.6,103.8 381.5,109.4 383.3,115.6 385.2,122.0 387.1,127.1 388.9,130.4 390.8,132.4 392.7,147.2 394.5,153.3 396.4,159.9 398.3,167.0 400.1,173.2 402.0,177.6 403.9,180.7 405.8,183.2 407.6,185.6 409.5,187.8 411.4,189.7 413.2,191.3 415.1,192.5 417.0,193.2 418.8,193.3 420.7,192.9 422.6,192.0 424.4,190.7 426.3,188.9 428.2,186.6 430.1,184.0 431.9,181.1 433.8,177.7 435.7,174.0 437.5,169.9 439.4,165.3 441.3,160.2 443.1,154.8 445.0,148.9 446.9,142.7 448.7,136.2 450.6,129.8 452.5,123.5 454.4,117.7 456.2,112.3 458.1,107.3 460.0,102.5 461.8,97.8 463.7,93.6 465.6,90.1 467.4,87.6 469.3,86.1 471.2,85.2 473.0,84.9 474.9,85.1 476.8,85.6 478.6,86.4 480.5,87.4 482.4,88.5 484.3,89.6 486.1,90.7 488.0,91.7 489.9,92.7 491.7,93.7 493.6,94.7 495.5,95.7 497.3,96.8 499.2,97.9 501.1,99.0 502.9,100.0 504.8,101.0 506.7,101.8 508.6,102.4 510.4,102.8 512.3,103.0 514.2,103.1 516.0,103.1 517.9,103.1 519.8,103.0 521.6,103.0 523.5,102.9 525.4,102.8 527.2,102.7 529.1,102.4 531.0,102.0"/>
<path d="M306.7,90.2 308.6,90.3 310.4,90.3 312.3,90.6 314.2,91.0 316.0,91.5 317.9,92.1 319.8,92.8 321.7,93.6 323.5,94.3 325.4,95.1 327.3,95.8 329.1,96.5 331.0,96.9 332.9,97.2 334.7,97.2 336.6,96.9 338.5,96.2 340.3,95.0 342.2,93.6 344.1,91.7 345.9,89.6 347.8,87.2 349.7,84.7 351.6,82.1 353.4,79.5 355.3,77.0 357.2,74.5 359.0,72.1 360.9,69.8 362.8,67.7 364.6,65.7 366.5,64.0 368.4,62.5 370.2,61.5 372.1,60.9 374.0,61.1 375.9,62.3 377.7,64.6 379.6,68.4 381.5,73.6 383.3,80.2 385.2,88.1 387.1,96.6 388.9,105.5 390.8,114.4 392.7,123.0 394.5,131.2 396.4,139.1 398.3,147.2 400.1,155.7 402.0,164.2 403.9,171.1 405.8,176.2 407.6,180.2 409.5,183.6 411.4,186.8 413.2,189.7 415.1,192.2 417.0,194.3 418.8,195.7 420.7,196.4 422.6,196.3 424.4,195.6 426.3,194.4 428.2,192.6 430.1,190.5 431.9,188.1 433.8,185.4 435.7,182.6 437.5,179.6 439.4,176.4 441.3,173.0 443.1,169.3 445.0,165.2 446.9,158.5 448.7,154.6 450.6,149.9 452.5,144.6 454.4,138.8 456.2,133.1 458.1,127.3 460.0,121.6 461.8,115.9 463.7,110.3 465.6,105.1 467.4,100.9 469.3,97.7 471.2,95.4 473.0,93.9 474.9,93.0 476.8,92.5 478.6,92.4 480.5,92.4 482.4,92.5 484.3,92.6 486.1,92.6 488.0,92.4 489.9,92.0 491.7,91.4 493.6,90.8 495.5,90.1 497.3,89.4 499.2,88.8 501.1,88.3 502.9,87.9 504.8,87.5 506.7,87.1 508.6,86.8 510.4,86.3 512.3,85.7 514.2,84.8 516.0,83.7 517.9,82.3 519.8,80.5 521.6,78.4 523.5,76.0 525.4,73.1 527.2,69.8 529.1,66.1 531.0,62.0"/>
<path d="M306.7,102.1 308.6,96.9 310.4,92.5 312.3,88.7 314.2,85.5 316.0,83.0 317.9,81.1 319.8,79.8 321.7,79.0 323.5,78.6 325.4,78.5 327.3,78.7 329.1,79.0 331.0,79.3 332.9,79.4 334.7,79.3 336.6,78.8 338.5,78.0 340.3,76.8 342.2,75.2 344.1,73.2 345.9,70.8 347.8,68.0 349.7,64.6 351.6,60.8 353.4,56.5 355.3,52.2 357.2,48.1 359.0,44.8 360.9,42.4 362.8,40.8 364.6,40.1 366.5,40.1 368.4,40.9 370.2,42.4 372.1,44.5 374.0,47.2 375.9,50.6 377.7,54.5 379.6,59.2 381.5,64.7 383.3,71.1 385.2,78.3 387.1,86.5 388.9,95.3 390.8,104.5 392.7,113.7 394.5,122.7 396.4,131.4 398.3,139.8 400.1,148.1 402.0,156.8 403.9,165.9 405.8,174.1 407.6,180.1 409.5,184.5 411.4,188.1 413.2,191.4 415.1,194.4 417.0,197.0 418.8,199.0 420.7,200.2 422.6,200.5 424.4,200.0 426.3,198.7 428.2,196.7 430.1,194.1 431.9,191.2 433.8,187.9 435.7,184.4 437.5,180.7 439.4,176.8 441.3,172.5 443.1,168.0 445.0,163.1 446.9,156.8 448.7,151.8 450.6,145.9 452.5,139.3 454.4,132.5 456.2,125.6 458.1,118.6 460.0,111.6 461.8,104.4 463.7,97.2 465.6,90.2 467.4,84.0 469.3,79.1 471.2,75.4 473.0,72.9 474.9,71.4 476.8,70.8 478.6,71.0 480.5,71.9 482.4,73.4 484.3,75.3 486.1,77.5 488.0,79.9 489.9,82.5 491.7,85.2 493.6,88.0 495.5,90.8 497.3,93.7 499.2,96.6 501.1,99.6 502.9,102.6 504.8,105.6 506.7,108.7 508.6,111.9 510.4,115.1 512.3,118.4 514.2,121.7 516.0,124.9 517.9,127.8 519.8,130.4 521.6,132.5 523.5,134.1 525.4,135.1 527.2,135.6 529.1,135.6 531.0,135.1"/>
</g>
<path d="M306.7,102.3 308.6,102.2 310.4,102.0 312.3,101.9 314.2,101.8 316.0,101.7 317.9,101.5 319.8,101.3 321.7,101.0 323.5,100.6 325.4,100.0 327.3,99.4 329.1,98.5 331.0,97.5 332.9,96.3 334.7,94.9 336.6,93.2 338.5,91.5 340.3,89.6 342.2,87.7 344.1,85.7 345.9,83.7 347.8,81.8 349.7,80.0 351.6,78.3 353.4,76.8 355.3,75.5 357.2,74.4 359.0,73.5 360.9,72.9 362.8,72.5 364.6,72.3 366.5,72.5 368.4,72.8 370.2,73.5 372.1,74.5 374.0,76.0 375.9,78.2 377.7,81.3 379.6,85.5 381.5,90.9 383.3,97.5 385.2,104.8 387.1,112.8 388.9,121.0 390.8,129.2 392.7,137.2 394.5,145.2 396.4,153.4 398.3,162.2 400.1,171.2 402.0,178.6 403.9,184.0 405.8,188.0 407.6,191.4 409.5,194.6 411.4,197.5 413.2,200.0 415.1,202.0 417.0,203.4 418.8,204.0 420.7,203.8 422.6,202.8 424.4,201.2 426.3,199.0 428.2,196.2 430.1,192.9 431.9,189.2 433.8,185.2 435.7,180.8 437.5,175.9 439.4,170.6 441.3,164.9 443.1,158.5 445.0,151.7 446.9,144.2 448.7,136.4 450.6,128.3 452.5,120.4 454.4,112.8 456.2,105.5 458.1,98.4 460.0,91.4 461.8,84.6 463.7,78.3 465.6,72.8 467.4,68.6 469.3,65.5 471.2,63.4 473.0,62.2 474.9,61.8 476.8,62.1 478.6,63.0 480.5,64.3 482.4,66.0 484.3,67.9 486.1,69.9 488.0,72.0 489.9,74.1 491.7,76.3 493.6,78.4 495.5,80.6 497.3,82.7 499.2,84.7 501.1,86.7 502.9,88.6 504.8,90.3 506.7,92.0 508.6,93.4 510.4,94.7 512.3,95.8 514.2,96.7 516.0,97.5 517.9,98.2 519.8,98.8 521.6,99.3 523.5,99.7 525.4,100.2 527.2,100.7 529.1,101.2 531.0,101.8" fill="none" stroke="#dd1c1c" stroke-width="2.1" stroke-linejoin="round" stroke-linecap="round"/>
<g stroke-width="1.6" fill="none">
<path d="M28.6,5.5 L28.6,220.7 L260.4,220.7" stroke="#7a7a7a"/>
<path d="M306.7,6 L306.7,219.4 L568.3,219.4" stroke="#6a6a6a"/>
</g>
<g class="tl">
<text x="25" y="224.3" text-anchor="end">0</text>
<text x="25" y="188.5" text-anchor="end">10</text>
<line x1="28.5" y1="184.7" x2="30.5" y2="184.7" class="tk"/>
<text x="25" y="152.6" text-anchor="end">20</text>
<line x1="28.5" y1="148.8" x2="30.5" y2="148.8" class="tk"/>
<text x="25" y="116.8" text-anchor="end">30</text>
<line x1="28.5" y1="113.0" x2="30.5" y2="113.0" class="tk"/>
<text x="25" y="81.0" text-anchor="end">40</text>
<line x1="28.5" y1="77.2" x2="30.5" y2="77.2" class="tk"/>
<text x="25" y="45.1" text-anchor="end">50</text>
<line x1="28.5" y1="41.3" x2="30.5" y2="41.3" class="tk"/>
<text x="25" y="9.3" text-anchor="end">60</text>
<line x1="28.5" y1="5.5" x2="30.5" y2="5.5" class="tk"/>
<text x="47.3" y="232.6" text-anchor="middle">2</text>
<line x1="47.3" y1="220.5" x2="47.3" y2="218.5" class="tk"/>
<text x="84.9" y="232.6" text-anchor="middle">3</text>
<line x1="84.9" y1="220.5" x2="84.9" y2="218.5" class="tk"/>
<text x="122.6" y="232.6" text-anchor="middle">5</text>
<line x1="122.6" y1="220.5" x2="122.6" y2="218.5" class="tk"/>
<text x="160.0" y="232.6" text-anchor="middle">7</text>
<line x1="160.0" y1="220.5" x2="160.0" y2="218.5" class="tk"/>
<text x="197.7" y="232.6" text-anchor="middle">9</text>
<line x1="197.7" y1="220.5" x2="197.7" y2="218.5" class="tk"/>
<text x="235.2" y="232.6" text-anchor="middle">11</text>
<line x1="235.2" y1="220.5" x2="235.2" y2="218.5" class="tk"/>
<text x="304.4" y="9.8" text-anchor="end">2.5</text>
<line x1="306.7" y1="6.0" x2="308.7" y2="6.0" class="tk"/>
<text x="304.4" y="31.2" text-anchor="end">2</text>
<line x1="306.7" y1="27.4" x2="308.7" y2="27.4" class="tk"/>
<text x="304.4" y="52.5" text-anchor="end">1.5</text>
<line x1="306.7" y1="48.7" x2="308.7" y2="48.7" class="tk"/>
<text x="304.4" y="73.9" text-anchor="end">1</text>
<line x1="306.7" y1="70.1" x2="308.7" y2="70.1" class="tk"/>
<text x="304.4" y="95.2" text-anchor="end">0.5</text>
<line x1="306.7" y1="91.4" x2="308.7" y2="91.4" class="tk"/>
<text x="304.4" y="116.5" text-anchor="end">0</text>
<line x1="306.7" y1="112.8" x2="308.7" y2="112.8" class="tk"/>
<text x="304.4" y="137.9" text-anchor="end">-0.5</text>
<line x1="306.7" y1="134.1" x2="308.7" y2="134.1" class="tk"/>
<text x="304.4" y="159.3" text-anchor="end">-1</text>
<line x1="306.7" y1="155.5" x2="308.7" y2="155.5" class="tk"/>
<text x="304.4" y="180.6" text-anchor="end">-1.5</text>
<line x1="306.7" y1="176.8" x2="308.7" y2="176.8" class="tk"/>
<text x="304.4" y="202.0" text-anchor="end">-2</text>
<line x1="306.7" y1="198.2" x2="308.7" y2="198.2" class="tk"/>
<text x="304.4" y="223.3" text-anchor="end">-2.5</text>
<text x="306.7" y="231.6" text-anchor="middle">0</text>
<text x="344.1" y="231.6" text-anchor="middle">0.2</text>
<line x1="344.1" y1="219.5" x2="344.1" y2="217.5" class="tk"/>
<text x="381.5" y="231.6" text-anchor="middle">0.4</text>
<line x1="381.5" y1="219.5" x2="381.5" y2="217.5" class="tk"/>
<text x="418.8" y="231.6" text-anchor="middle">0.6</text>
<line x1="418.8" y1="219.5" x2="418.8" y2="217.5" class="tk"/>
<text x="456.2" y="231.6" text-anchor="middle">0.8</text>
<line x1="456.2" y1="219.5" x2="456.2" y2="217.5" class="tk"/>
<text x="493.6" y="231.6" text-anchor="middle">1</text>
<line x1="493.6" y1="219.5" x2="493.6" y2="217.5" class="tk"/>
<text x="531.0" y="231.6" text-anchor="middle">1.2</text>
<line x1="531.0" y1="219.5" x2="531.0" y2="217.5" class="tk"/>
<text x="568.4" y="231.6" text-anchor="middle">1.4</text>
<line x1="568.4" y1="219.5" x2="568.4" y2="217.5" class="tk"/>
</g>
<g stroke="#3a3ad4" stroke-width="1.1" fill="none">
<line x1="47.3" y1="124.8" x2="47.3" y2="169.6" stroke="#7474de" stroke-width="1.5"/>
<path d="M45.2,122.7 L49.4,126.9 M45.2,126.9 L49.4,122.7"/>
<path d="M45.2,167.5 L49.4,171.7 M45.2,171.7 L49.4,167.5"/>
<circle cx="47.3" cy="147.4" r="2.5" fill="none" stroke-width="1.3"/>
<line x1="84.9" y1="14.8" x2="84.9" y2="116.9" stroke="#7474de" stroke-width="1.5"/>
<path d="M82.8,12.7 L87.0,16.9 M82.8,16.9 L87.0,12.7"/>
<path d="M82.8,114.8 L87.0,119.0 M82.8,119.0 L87.0,114.8"/>
<circle cx="84.9" cy="65.3" r="2.5" fill="none" stroke-width="1.3"/>
<line x1="122.6" y1="157.1" x2="122.6" y2="182.9" stroke="#7474de" stroke-width="1.5"/>
<path d="M120.5,155.0 L124.7,159.2 M120.5,159.2 L124.7,155.0"/>
<path d="M120.5,180.8 L124.7,185.0 M120.5,185.0 L124.7,180.8"/>
<circle cx="122.6" cy="170.3" r="2.5" fill="none" stroke-width="1.3"/>
<line x1="160.0" y1="154.9" x2="160.0" y2="195.8" stroke="#7474de" stroke-width="1.5"/>
<path d="M157.9,152.8 L162.1,157.0 M157.9,157.0 L162.1,152.8"/>
<path d="M157.9,193.7 L162.1,197.9 M157.9,197.9 L162.1,193.7"/>
<circle cx="160.0" cy="176.1" r="2.5" fill="none" stroke-width="1.3"/>
<line x1="197.7" y1="208.0" x2="197.7" y2="219.4" stroke="#7474de" stroke-width="1.5"/>
<path d="M195.6,205.9 L199.8,210.1 M195.6,210.1 L199.8,205.9"/>
<path d="M195.6,217.3 L199.8,221.5 M195.6,221.5 L199.8,217.3"/>
<circle cx="197.7" cy="214.1" r="2.5" fill="none" stroke-width="1.3"/>
<line x1="235.2" y1="212.6" x2="235.2" y2="220.5" stroke="#7474de" stroke-width="1.5"/>
<path d="M233.1,210.5 L237.3,214.7 M233.1,214.7 L237.3,210.5"/>
<path d="M233.1,218.4 L237.3,222.6 M233.1,222.6 L237.3,218.4"/>
<circle cx="235.2" cy="216.9" r="2.5" fill="none" stroke-width="1.3"/>
</g>
<text x="0" y="16" font-size="16" fill="#111" stroke="#111" stroke-width="0.5">a)</text>
<text x="275" y="15.5" font-size="16" fill="#111" stroke="#111" stroke-width="0.5">b<tspan dx="1.6">)</tspan></text>
<text class="ttl" x="103.3" y="245" font-size="9" fill="#222">Diameter detected (µm)</text>
<text class="ttl" x="408.5" y="246" font-size="11" fill="#222">Time (ms)</text>
<text class="ttl" transform="translate(11.5,111.5) rotate(-90)" text-anchor="middle" font-size="9.5" fill="#222">Occurence of detection (%)</text>
<text class="ttl" transform="translate(285,111.5) rotate(-90)" text-anchor="middle" font-size="9.5" fill="#222">Amplitude (a.u.)</text>
</svg>
</body></html>
